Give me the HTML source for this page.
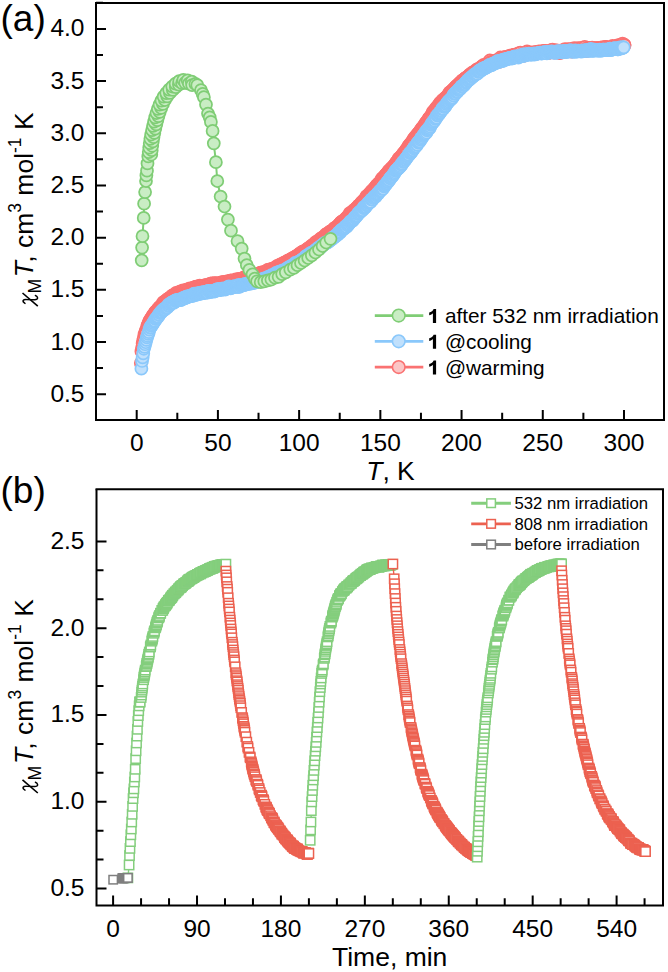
<!DOCTYPE html><html><head><meta charset="utf-8"><style>html,body{margin:0;padding:0;background:#fff;}body{width:668px;height:972px;overflow:hidden;}</style></head><body><svg width="668" height="972" viewBox="0 0 668 972" style="display:block">
<rect width="668" height="972" fill="#fff"/>
<polyline fill="none" stroke="#fa7272" stroke-width="1.6" stroke-linejoin="round" points="140.8,363.02 141.42,351.43 142.04,347.79 142.66,343.41 143.28,340.29 143.9,337.64 144.52,334.28 145.14,332.93 145.76,330.52 146.38,330.63 147,327.23 147.62,325.27 148.24,323.82 148.86,322.25 149.48,320.78 150.1,319.92 150.72,319.23 151.34,317.8 151.96,317.37 152.58,315.81 153.2,314.99 153.82,314.85 154.44,313.5 155.06,312.17 155.68,311.57 156.3,311.2 156.92,311.2 157.54,309.43 158.16,308.79 158.78,308.77 159.4,307.18 160.02,306.83 160.64,306.77 161.26,305.97 161.88,305.08 162.5,304.73 163.12,302.35 163.74,303.66 164.36,302.06 164.98,301.11 165.6,301.5 166.22,301.15 166.84,300.02 167.46,299.13 168.08,299.12 168.7,298.53 169.32,298.73 169.94,297.89 170.56,297.14 171.18,297.16 171.8,296.11 172.42,295.4 173.04,295.83 173.66,295.51 174.28,294.81 174.9,294.24 175.52,294.46 176.14,292.84 176.76,294.17 177.38,293.82 178,292.52 178.62,293.13 179.24,292.39 179.86,293.03 180.48,291.41 181.1,291.76 181.72,292.35 182.34,292.36 182.96,290.49 183.58,291.1 184.2,291.29 184.82,290.6 185.44,291.48 186.06,289.87 186.68,290.43 187.3,289.51 187.92,290.52 188.54,289.6 189.16,289.21 189.78,288.34 190.4,289.83 191.02,289.17 191.64,288.98 192.26,288.98 192.88,288.41 193.5,287.73 194.12,287.48 194.74,287.32 195.36,288.24 195.98,286.67 196.6,286.96 197.22,286.96 197.84,287.09 198.46,287.13 199.08,286.09 199.7,285.72 200.32,286.45 200.94,286.94 201.56,286.59 202.18,286.2 202.8,285.82 203.42,286.01 204.04,285.63 204.66,286.05 205.28,285.13 205.9,285.49 206.52,285.26 207.14,285.48 207.76,285.21 208.38,286.27 209,285.64 209.62,285.54 210.24,283.67 210.86,284.41 211.48,284.18 212.1,284.64 212.72,283.13 213.34,284.75 213.96,284.59 214.58,283.3 215.2,283.35 215.82,283.33 216.44,283.64 217.06,283.83 217.68,284.43 218.3,283.2 218.92,283.58 219.54,283.17 220.16,283.87 220.78,283.26 221.4,283.47 222.02,282.14 222.64,282.49 223.26,282.07 223.88,283.13 224.5,282.61 225.12,282.03 225.74,281.85 226.36,282.22 226.98,281.52 227.6,281.31 228.22,281.91 228.84,282.79 229.46,281.33 230.08,281.07 230.7,280.65 231.32,280.46 231.94,281.27 232.56,281.32 233.18,280.78 233.8,280.82 234.42,280.59 235.04,280.47 235.66,279.51 236.28,279.91 236.9,280.06 237.52,279.47 238.14,279.49 238.76,279.17 239.38,279.27 240,279.71 240.62,278.93 241.24,278.9 241.86,279.23 242.48,278.98 243.1,279.34 243.72,277.29 244.34,278.59 244.96,277.76 245.58,277.89 246.2,278.07 246.82,278.02 247.44,277.82 248.06,277.2 248.68,277.75 249.3,276.62 249.92,276.51 250.54,276.8 251.16,275.93 251.78,277.1 252.4,276.34 253.02,276.73 253.64,275.44 254.26,275.07 254.88,275.15 255.5,275.24 256.12,274.38 256.74,274.67 257.36,274.27 257.98,274.89 258.6,273.55 259.22,274.2 259.84,273.16 260.46,272.8 261.08,272.72 261.7,272.28 262.32,272.74 262.94,272.98 263.56,272.33 264.18,272.35 264.8,272.65 265.42,271.75 266.04,271.5 266.66,271.04 267.28,270.15 267.9,271.11 268.52,269.63 269.14,270.6 269.76,270.03 270.38,270.37 271,269.53 271.62,268.91 272.24,269.25 272.86,268.55 273.48,268.48 274.1,268.34 274.72,267.99 275.34,267.69 275.96,267.1 276.58,267.15 277.2,265.89 277.82,266.59 278.44,265.78 279.06,266.64 279.68,266.41 280.3,264.48 280.92,265.21 281.54,264.76 282.16,263.97 282.78,264.43 283.4,263.6 284.02,262.61 284.64,263.01 285.26,262.73 285.88,262.51 286.5,261.49 287.12,262.06 287.74,261.76 288.36,260.46 288.98,260.35 289.6,260.28 290.22,259.67 290.84,260.47 291.46,259.33 292.08,258.36 292.7,258.1 293.32,258.08 293.94,258.88 294.56,257.26 295.18,257.02 295.8,256.83 296.42,256.16 297.04,256.92 297.66,255.11 298.28,255.35 298.9,254.65 299.52,254.47 300.14,253.16 300.76,254.22 301.38,252.86 302,252.53 302.62,251.63 303.24,251.31 303.86,251.54 304.48,251.33 305.1,250.79 305.72,250.6 306.34,249.93 306.96,249.16 307.58,249.13 308.2,248.58 308.82,247.8 309.44,247.78 310.06,247.62 310.68,246.66 311.3,245.92 311.92,246.01 312.54,246.16 313.16,244.66 313.78,244.27 314.4,243.79 315.02,244.02 315.64,242.04 316.26,242.69 316.88,242.64 317.5,241.18 318.12,241.88 318.74,240.94 319.36,239.94 319.98,239.86 320.6,238.53 321.22,238.55 321.84,239.29 322.46,237.47 323.08,238.38 323.7,236.96 324.32,237.04 324.94,236.11 325.56,234.51 326.18,234.88 326.8,234.8 327.42,233.67 328.04,233.11 328.66,233.5 329.28,232.52 329.9,231.53 330.52,231.56 331.14,231.85 331.76,230.7 332.38,230.92 333,230.72 333.62,229.48 334.24,228.39 334.86,227.8 335.48,227.92 336.1,227.86 336.72,227.02 337.34,226.63 337.96,225.6 338.58,225.42 339.2,224.48 339.82,224 340.44,222.96 341.06,222.25 341.68,222.22 342.3,221.33 342.92,220.83 343.54,221.06 344.16,220.08 344.78,221 345.4,219.41 346.02,218.04 346.64,218.14 347.26,217.33 347.88,216.21 348.5,216.5 349.12,214.95 349.74,213.21 350.36,214.52 350.98,213.21 351.6,213.65 352.22,211.97 352.84,211.09 353.46,211.84 354.08,209.91 354.7,209.93 355.32,209.93 355.94,208.64 356.56,207.91 357.18,207.37 357.8,207.11 358.42,205.64 359.04,205.71 359.66,205.05 360.28,205.29 360.9,203.3 361.52,202.36 362.14,202.53 362.76,201.3 363.38,200.98 364,200.24 364.62,200.09 365.24,198.5 365.86,198.11 366.48,196.2 367.1,196.34 367.72,196.86 368.34,195.05 368.96,194.34 369.58,193.37 370.2,193.56 370.82,192.64 371.44,191.23 372.06,191.44 372.68,190.5 373.3,190.02 373.92,188.59 374.54,189.05 375.16,187.65 375.78,186.64 376.4,185.71 377.02,185.1 377.64,184.92 378.26,183.62 378.88,183.55 379.5,182.57 380.12,182.21 380.74,181.21 381.36,180.04 381.98,178.39 382.6,178.77 383.22,178.28 383.84,177.24 384.46,176.71 385.08,175.47 385.7,174.79 386.32,173.78 386.94,174.21 387.56,172.88 388.18,171.83 388.8,170.68 389.42,170.54 390.04,170.61 390.66,169.38 391.28,168.06 391.9,168.4 392.52,167.66 393.14,166.69 393.76,165.85 394.38,165.29 395,164.24 395.62,163.6 396.24,162.07 396.86,162.45 397.48,161.06 398.1,161.19 398.72,158.38 399.34,158.98 399.96,158.34 400.58,156.9 401.2,156.5 401.82,155.86 402.44,154.98 403.06,153.62 403.68,153.01 404.3,152.78 404.92,152.09 405.54,150.69 406.16,149.86 406.78,149.1 407.4,148.69 408.02,146.81 408.64,145.85 409.26,145.74 409.88,144.29 410.5,143.71 411.12,143.21 411.74,142.57 412.36,140.95 412.98,141.04 413.6,138.91 414.22,139.23 414.84,137.32 415.46,136.63 416.08,136.74 416.7,135.38 417.32,134.34 417.94,133.67 418.56,133.28 419.18,132.18 419.8,131.36 420.42,131.06 421.04,129.32 421.66,128.59 422.28,127.7 422.9,127.68 423.52,126.72 424.14,125.99 424.76,124.45 425.38,123.5 426,123.12 426.62,121.61 427.24,121.33 427.86,120.39 428.48,118.79 429.1,118.21 429.72,117.31 430.34,117.35 430.96,116.9 431.58,114.68 432.2,113.87 432.82,111.86 433.44,112.25 434.06,111.3 434.68,109.92 435.3,110.02 435.92,108.03 436.54,107.89 437.16,107.27 437.78,105.79 438.4,106.06 439.02,105.4 439.64,103.43 440.26,102.69 440.88,102.97 441.5,101.93 442.12,100.62 442.74,100.37 443.36,99.75 443.98,99.03 444.6,98.82 445.22,97.91 445.84,97.91 446.46,97.03 447.08,96.01 447.7,95.54 448.32,94.99 448.94,94.03 449.56,92.41 450.18,92.8 450.8,91.77 451.42,91.91 452.04,90.51 452.66,90.11 453.28,89.39 453.9,89.46 454.52,88.11 455.14,87.29 455.76,86.99 456.38,86.03 457,85.76 457.62,85.11 458.24,84.69 458.86,84.96 459.48,83.25 460.1,82.93 460.72,82.28 461.34,82.19 461.96,80.73 462.58,80.45 463.2,80.25 463.82,80.03 464.44,79.21 465.06,78.47 465.68,77.78 466.3,77.97 466.92,77.94 467.54,76.88 468.16,76.33 468.78,75.97 469.4,74.8 470.02,74.64 470.64,74.2 471.26,74.02 471.88,73.4 472.5,72.36 473.12,73.09 473.74,72.95 474.36,71.54 474.98,71.46 475.6,70.98 476.22,70.84 476.84,69.32 477.46,70.48 478.08,69.06 478.7,69.57 479.32,68.62 479.94,68.04 480.56,67.78 481.18,68.32 481.8,66.5 482.42,66.59 483.04,66.18 483.66,64.81 484.28,67.07 484.9,66.15 485.52,65.33 486.14,66.04 486.76,63.95 487.38,64.41 488,65.65 488.62,64.74 489.24,61.74 489.86,60.52 490.48,62.2 491.1,63.73 491.72,62.16 492.34,62.12 492.96,62.57 493.58,61.06 494.2,61.75 494.82,62 495.44,61.49 496.06,61.2 496.68,60.13 497.3,60.85 497.92,59.84 498.54,61.1 499.16,61.96 499.78,58.94 500.4,57.52 501.02,58.81 501.64,59.29 502.26,59.66 502.88,59.49 503.5,57.71 504.12,57.51 504.74,59.07 505.36,56.87 505.98,58.53 506.6,57.23 507.22,57.89 507.84,57.66 508.46,57.54 509.08,57.4 509.7,55.69 510.32,56.61 510.94,56.21 511.56,56.3 512.18,56.92 512.8,55.49 513.42,54.97 514.04,54.81 514.66,55.02 515.28,55.79 515.9,54.33 516.52,55.88 517.14,55.02 517.76,54.47 518.38,53.42 519,54.66 519.62,54.94 520.24,52.76 520.86,55.19 521.48,55.49 522.1,54.3 522.72,54.35 523.34,55.91 523.96,54.83 524.58,52.95 525.2,53.63 525.82,53.44 526.44,53.38 527.06,51.43 527.68,54.02 528.3,52.77 528.92,53.39 529.54,53.08 530.16,53.88 530.78,52.83 531.4,52.35 532.02,53.42 532.64,54.11 533.26,52.59 533.88,53.98 534.5,52.98 535.12,52.26 535.74,53.95 536.36,51.91 536.98,53.42 537.6,52.08 538.22,52.83 538.84,51.35 539.46,51.63 540.08,53.2 540.7,52.4 541.32,52.22 541.94,51.76 542.56,52.46 543.18,50.85 543.8,51.03 544.42,51.8 545.04,51.18 545.66,51.24 546.28,51.73 546.9,51.62 547.52,51.5 548.14,53.06 548.76,52.46 549.38,52.6 550,51.48 550.62,51.03 551.24,50.18 551.86,51.07 552.48,49.55 553.1,50.78 553.72,51.88 554.34,52.57 554.96,51.97 555.58,50.37 556.2,51.48 556.82,50.35 557.44,51.67 558.06,50.84 558.68,51.62 559.3,53.03 559.92,51.59 560.54,52.75 561.16,50.87 561.78,50.4 562.4,51.78 563.02,52.07 563.64,50.09 564.26,50.59 564.88,49.26 565.5,50.27 566.12,51.16 566.74,50.29 567.36,49.84 567.98,49.09 568.6,50.57 569.22,50.89 569.84,50.68 570.46,50.36 571.08,49.02 571.7,51.56 572.32,49.98 572.94,49.87 573.56,50.58 574.18,48.08 574.8,49.83 575.42,49.73 576.04,50.13 576.66,50.92 577.28,50.14 577.9,48.15 578.52,49.38 579.14,49.81 579.76,49.72 580.38,48.47 581,48.11 581.62,49.96 582.24,49.75 582.86,49.4 583.48,47.92 584.1,50.86 584.72,46.85 585.34,48.97 585.96,51.02 586.58,49.07 587.2,49.36 587.82,48.13 588.44,50.25 589.06,47.96 589.68,49.24 590.3,49.1 590.92,48.05 591.54,49.67 592.16,47.67 592.78,48.26 593.4,48.79 594.02,48.43 594.64,49.15 595.26,49.51 595.88,48.44 596.5,48.2 597.12,48.19 597.74,48.29 598.36,49.26 598.98,48.36 599.6,48.86 600.22,48.4 600.84,47.73 601.46,49.15 602.08,47.5 602.7,48.35 603.32,49.57 603.94,47.34 604.56,48.19 605.18,46.85 605.8,47.72 606.42,46.83 607.04,47.75 607.66,47.55 608.28,48.07 608.9,49.25 609.52,48.09 610.14,48.35 610.76,47.68 611.38,47.44 612,46.85 612.62,45.94 613.24,47.43 613.86,48.64 614.48,47.55 615.1,46.57 615.72,48.3 616.34,46.4 616.96,46.1 617.58,45.45 618.2,45.51 618.82,45.97 619.44,47.72 620.06,45.68 620.68,44.82 621.3,45.01 621.92,45.17 622.54,43.73 623.16,45.12 623.78,45.43 624.4,44.93 624.6,45.11"/>
<g fill="#fbc6c6" stroke="#fa7272" stroke-width="1.7"><circle cx="140.8" cy="363.02" r="6.05"/><circle cx="141.42" cy="351.43" r="6.05"/><circle cx="142.04" cy="347.79" r="6.05"/><circle cx="142.66" cy="343.41" r="6.05"/><circle cx="143.28" cy="340.29" r="6.05"/><circle cx="143.9" cy="337.64" r="6.05"/><circle cx="144.52" cy="334.28" r="6.05"/><circle cx="145.14" cy="332.93" r="6.05"/><circle cx="145.76" cy="330.52" r="6.05"/><circle cx="146.38" cy="330.63" r="6.05"/><circle cx="147" cy="327.23" r="6.05"/><circle cx="147.62" cy="325.27" r="6.05"/><circle cx="148.24" cy="323.82" r="6.05"/><circle cx="148.86" cy="322.25" r="6.05"/><circle cx="149.48" cy="320.78" r="6.05"/><circle cx="150.1" cy="319.92" r="6.05"/><circle cx="150.72" cy="319.23" r="6.05"/><circle cx="151.34" cy="317.8" r="6.05"/><circle cx="151.96" cy="317.37" r="6.05"/><circle cx="152.58" cy="315.81" r="6.05"/><circle cx="153.2" cy="314.99" r="6.05"/><circle cx="153.82" cy="314.85" r="6.05"/><circle cx="154.44" cy="313.5" r="6.05"/><circle cx="155.06" cy="312.17" r="6.05"/><circle cx="155.68" cy="311.57" r="6.05"/><circle cx="156.3" cy="311.2" r="6.05"/><circle cx="156.92" cy="311.2" r="6.05"/><circle cx="157.54" cy="309.43" r="6.05"/><circle cx="158.16" cy="308.79" r="6.05"/><circle cx="158.78" cy="308.77" r="6.05"/><circle cx="159.4" cy="307.18" r="6.05"/><circle cx="160.02" cy="306.83" r="6.05"/><circle cx="160.64" cy="306.77" r="6.05"/><circle cx="161.26" cy="305.97" r="6.05"/><circle cx="161.88" cy="305.08" r="6.05"/><circle cx="162.5" cy="304.73" r="6.05"/><circle cx="163.12" cy="302.35" r="6.05"/><circle cx="163.74" cy="303.66" r="6.05"/><circle cx="164.36" cy="302.06" r="6.05"/><circle cx="164.98" cy="301.11" r="6.05"/><circle cx="165.6" cy="301.5" r="6.05"/><circle cx="166.22" cy="301.15" r="6.05"/><circle cx="166.84" cy="300.02" r="6.05"/><circle cx="167.46" cy="299.13" r="6.05"/><circle cx="168.08" cy="299.12" r="6.05"/><circle cx="168.7" cy="298.53" r="6.05"/><circle cx="169.32" cy="298.73" r="6.05"/><circle cx="169.94" cy="297.89" r="6.05"/><circle cx="170.56" cy="297.14" r="6.05"/><circle cx="171.18" cy="297.16" r="6.05"/><circle cx="171.8" cy="296.11" r="6.05"/><circle cx="172.42" cy="295.4" r="6.05"/><circle cx="173.04" cy="295.83" r="6.05"/><circle cx="173.66" cy="295.51" r="6.05"/><circle cx="174.28" cy="294.81" r="6.05"/><circle cx="174.9" cy="294.24" r="6.05"/><circle cx="175.52" cy="294.46" r="6.05"/><circle cx="176.14" cy="292.84" r="6.05"/><circle cx="176.76" cy="294.17" r="6.05"/><circle cx="177.38" cy="293.82" r="6.05"/><circle cx="178" cy="292.52" r="6.05"/><circle cx="178.62" cy="293.13" r="6.05"/><circle cx="179.24" cy="292.39" r="6.05"/><circle cx="179.86" cy="293.03" r="6.05"/><circle cx="180.48" cy="291.41" r="6.05"/><circle cx="181.1" cy="291.76" r="6.05"/><circle cx="181.72" cy="292.35" r="6.05"/><circle cx="182.34" cy="292.36" r="6.05"/><circle cx="182.96" cy="290.49" r="6.05"/><circle cx="183.58" cy="291.1" r="6.05"/><circle cx="184.2" cy="291.29" r="6.05"/><circle cx="184.82" cy="290.6" r="6.05"/><circle cx="185.44" cy="291.48" r="6.05"/><circle cx="186.06" cy="289.87" r="6.05"/><circle cx="186.68" cy="290.43" r="6.05"/><circle cx="187.3" cy="289.51" r="6.05"/><circle cx="187.92" cy="290.52" r="6.05"/><circle cx="188.54" cy="289.6" r="6.05"/><circle cx="189.16" cy="289.21" r="6.05"/><circle cx="189.78" cy="288.34" r="6.05"/><circle cx="190.4" cy="289.83" r="6.05"/><circle cx="191.02" cy="289.17" r="6.05"/><circle cx="191.64" cy="288.98" r="6.05"/><circle cx="192.26" cy="288.98" r="6.05"/><circle cx="192.88" cy="288.41" r="6.05"/><circle cx="193.5" cy="287.73" r="6.05"/><circle cx="194.12" cy="287.48" r="6.05"/><circle cx="194.74" cy="287.32" r="6.05"/><circle cx="195.36" cy="288.24" r="6.05"/><circle cx="195.98" cy="286.67" r="6.05"/><circle cx="196.6" cy="286.96" r="6.05"/><circle cx="197.22" cy="286.96" r="6.05"/><circle cx="197.84" cy="287.09" r="6.05"/><circle cx="198.46" cy="287.13" r="6.05"/><circle cx="199.08" cy="286.09" r="6.05"/><circle cx="199.7" cy="285.72" r="6.05"/><circle cx="200.32" cy="286.45" r="6.05"/><circle cx="200.94" cy="286.94" r="6.05"/><circle cx="201.56" cy="286.59" r="6.05"/><circle cx="202.18" cy="286.2" r="6.05"/><circle cx="202.8" cy="285.82" r="6.05"/><circle cx="203.42" cy="286.01" r="6.05"/><circle cx="204.04" cy="285.63" r="6.05"/><circle cx="204.66" cy="286.05" r="6.05"/><circle cx="205.28" cy="285.13" r="6.05"/><circle cx="205.9" cy="285.49" r="6.05"/><circle cx="206.52" cy="285.26" r="6.05"/><circle cx="207.14" cy="285.48" r="6.05"/><circle cx="207.76" cy="285.21" r="6.05"/><circle cx="208.38" cy="286.27" r="6.05"/><circle cx="209" cy="285.64" r="6.05"/><circle cx="209.62" cy="285.54" r="6.05"/><circle cx="210.24" cy="283.67" r="6.05"/><circle cx="210.86" cy="284.41" r="6.05"/><circle cx="211.48" cy="284.18" r="6.05"/><circle cx="212.1" cy="284.64" r="6.05"/><circle cx="212.72" cy="283.13" r="6.05"/><circle cx="213.34" cy="284.75" r="6.05"/><circle cx="213.96" cy="284.59" r="6.05"/><circle cx="214.58" cy="283.3" r="6.05"/><circle cx="215.2" cy="283.35" r="6.05"/><circle cx="215.82" cy="283.33" r="6.05"/><circle cx="216.44" cy="283.64" r="6.05"/><circle cx="217.06" cy="283.83" r="6.05"/><circle cx="217.68" cy="284.43" r="6.05"/><circle cx="218.3" cy="283.2" r="6.05"/><circle cx="218.92" cy="283.58" r="6.05"/><circle cx="219.54" cy="283.17" r="6.05"/><circle cx="220.16" cy="283.87" r="6.05"/><circle cx="220.78" cy="283.26" r="6.05"/><circle cx="221.4" cy="283.47" r="6.05"/><circle cx="222.02" cy="282.14" r="6.05"/><circle cx="222.64" cy="282.49" r="6.05"/><circle cx="223.26" cy="282.07" r="6.05"/><circle cx="223.88" cy="283.13" r="6.05"/><circle cx="224.5" cy="282.61" r="6.05"/><circle cx="225.12" cy="282.03" r="6.05"/><circle cx="225.74" cy="281.85" r="6.05"/><circle cx="226.36" cy="282.22" r="6.05"/><circle cx="226.98" cy="281.52" r="6.05"/><circle cx="227.6" cy="281.31" r="6.05"/><circle cx="228.22" cy="281.91" r="6.05"/><circle cx="228.84" cy="282.79" r="6.05"/><circle cx="229.46" cy="281.33" r="6.05"/><circle cx="230.08" cy="281.07" r="6.05"/><circle cx="230.7" cy="280.65" r="6.05"/><circle cx="231.32" cy="280.46" r="6.05"/><circle cx="231.94" cy="281.27" r="6.05"/><circle cx="232.56" cy="281.32" r="6.05"/><circle cx="233.18" cy="280.78" r="6.05"/><circle cx="233.8" cy="280.82" r="6.05"/><circle cx="234.42" cy="280.59" r="6.05"/><circle cx="235.04" cy="280.47" r="6.05"/><circle cx="235.66" cy="279.51" r="6.05"/><circle cx="236.28" cy="279.91" r="6.05"/><circle cx="236.9" cy="280.06" r="6.05"/><circle cx="237.52" cy="279.47" r="6.05"/><circle cx="238.14" cy="279.49" r="6.05"/><circle cx="238.76" cy="279.17" r="6.05"/><circle cx="239.38" cy="279.27" r="6.05"/><circle cx="240" cy="279.71" r="6.05"/><circle cx="240.62" cy="278.93" r="6.05"/><circle cx="241.24" cy="278.9" r="6.05"/><circle cx="241.86" cy="279.23" r="6.05"/><circle cx="242.48" cy="278.98" r="6.05"/><circle cx="243.1" cy="279.34" r="6.05"/><circle cx="243.72" cy="277.29" r="6.05"/><circle cx="244.34" cy="278.59" r="6.05"/><circle cx="244.96" cy="277.76" r="6.05"/><circle cx="245.58" cy="277.89" r="6.05"/><circle cx="246.2" cy="278.07" r="6.05"/><circle cx="246.82" cy="278.02" r="6.05"/><circle cx="247.44" cy="277.82" r="6.05"/><circle cx="248.06" cy="277.2" r="6.05"/><circle cx="248.68" cy="277.75" r="6.05"/><circle cx="249.3" cy="276.62" r="6.05"/><circle cx="249.92" cy="276.51" r="6.05"/><circle cx="250.54" cy="276.8" r="6.05"/><circle cx="251.16" cy="275.93" r="6.05"/><circle cx="251.78" cy="277.1" r="6.05"/><circle cx="252.4" cy="276.34" r="6.05"/><circle cx="253.02" cy="276.73" r="6.05"/><circle cx="253.64" cy="275.44" r="6.05"/><circle cx="254.26" cy="275.07" r="6.05"/><circle cx="254.88" cy="275.15" r="6.05"/><circle cx="255.5" cy="275.24" r="6.05"/><circle cx="256.12" cy="274.38" r="6.05"/><circle cx="256.74" cy="274.67" r="6.05"/><circle cx="257.36" cy="274.27" r="6.05"/><circle cx="257.98" cy="274.89" r="6.05"/><circle cx="258.6" cy="273.55" r="6.05"/><circle cx="259.22" cy="274.2" r="6.05"/><circle cx="259.84" cy="273.16" r="6.05"/><circle cx="260.46" cy="272.8" r="6.05"/><circle cx="261.08" cy="272.72" r="6.05"/><circle cx="261.7" cy="272.28" r="6.05"/><circle cx="262.32" cy="272.74" r="6.05"/><circle cx="262.94" cy="272.98" r="6.05"/><circle cx="263.56" cy="272.33" r="6.05"/><circle cx="264.18" cy="272.35" r="6.05"/><circle cx="264.8" cy="272.65" r="6.05"/><circle cx="265.42" cy="271.75" r="6.05"/><circle cx="266.04" cy="271.5" r="6.05"/><circle cx="266.66" cy="271.04" r="6.05"/><circle cx="267.28" cy="270.15" r="6.05"/><circle cx="267.9" cy="271.11" r="6.05"/><circle cx="268.52" cy="269.63" r="6.05"/><circle cx="269.14" cy="270.6" r="6.05"/><circle cx="269.76" cy="270.03" r="6.05"/><circle cx="270.38" cy="270.37" r="6.05"/><circle cx="271" cy="269.53" r="6.05"/><circle cx="271.62" cy="268.91" r="6.05"/><circle cx="272.24" cy="269.25" r="6.05"/><circle cx="272.86" cy="268.55" r="6.05"/><circle cx="273.48" cy="268.48" r="6.05"/><circle cx="274.1" cy="268.34" r="6.05"/><circle cx="274.72" cy="267.99" r="6.05"/><circle cx="275.34" cy="267.69" r="6.05"/><circle cx="275.96" cy="267.1" r="6.05"/><circle cx="276.58" cy="267.15" r="6.05"/><circle cx="277.2" cy="265.89" r="6.05"/><circle cx="277.82" cy="266.59" r="6.05"/><circle cx="278.44" cy="265.78" r="6.05"/><circle cx="279.06" cy="266.64" r="6.05"/><circle cx="279.68" cy="266.41" r="6.05"/><circle cx="280.3" cy="264.48" r="6.05"/><circle cx="280.92" cy="265.21" r="6.05"/><circle cx="281.54" cy="264.76" r="6.05"/><circle cx="282.16" cy="263.97" r="6.05"/><circle cx="282.78" cy="264.43" r="6.05"/><circle cx="283.4" cy="263.6" r="6.05"/><circle cx="284.02" cy="262.61" r="6.05"/><circle cx="284.64" cy="263.01" r="6.05"/><circle cx="285.26" cy="262.73" r="6.05"/><circle cx="285.88" cy="262.51" r="6.05"/><circle cx="286.5" cy="261.49" r="6.05"/><circle cx="287.12" cy="262.06" r="6.05"/><circle cx="287.74" cy="261.76" r="6.05"/><circle cx="288.36" cy="260.46" r="6.05"/><circle cx="288.98" cy="260.35" r="6.05"/><circle cx="289.6" cy="260.28" r="6.05"/><circle cx="290.22" cy="259.67" r="6.05"/><circle cx="290.84" cy="260.47" r="6.05"/><circle cx="291.46" cy="259.33" r="6.05"/><circle cx="292.08" cy="258.36" r="6.05"/><circle cx="292.7" cy="258.1" r="6.05"/><circle cx="293.32" cy="258.08" r="6.05"/><circle cx="293.94" cy="258.88" r="6.05"/><circle cx="294.56" cy="257.26" r="6.05"/><circle cx="295.18" cy="257.02" r="6.05"/><circle cx="295.8" cy="256.83" r="6.05"/><circle cx="296.42" cy="256.16" r="6.05"/><circle cx="297.04" cy="256.92" r="6.05"/><circle cx="297.66" cy="255.11" r="6.05"/><circle cx="298.28" cy="255.35" r="6.05"/><circle cx="298.9" cy="254.65" r="6.05"/><circle cx="299.52" cy="254.47" r="6.05"/><circle cx="300.14" cy="253.16" r="6.05"/><circle cx="300.76" cy="254.22" r="6.05"/><circle cx="301.38" cy="252.86" r="6.05"/><circle cx="302" cy="252.53" r="6.05"/><circle cx="302.62" cy="251.63" r="6.05"/><circle cx="303.24" cy="251.31" r="6.05"/><circle cx="303.86" cy="251.54" r="6.05"/><circle cx="304.48" cy="251.33" r="6.05"/><circle cx="305.1" cy="250.79" r="6.05"/><circle cx="305.72" cy="250.6" r="6.05"/><circle cx="306.34" cy="249.93" r="6.05"/><circle cx="306.96" cy="249.16" r="6.05"/><circle cx="307.58" cy="249.13" r="6.05"/><circle cx="308.2" cy="248.58" r="6.05"/><circle cx="308.82" cy="247.8" r="6.05"/><circle cx="309.44" cy="247.78" r="6.05"/><circle cx="310.06" cy="247.62" r="6.05"/><circle cx="310.68" cy="246.66" r="6.05"/><circle cx="311.3" cy="245.92" r="6.05"/><circle cx="311.92" cy="246.01" r="6.05"/><circle cx="312.54" cy="246.16" r="6.05"/><circle cx="313.16" cy="244.66" r="6.05"/><circle cx="313.78" cy="244.27" r="6.05"/><circle cx="314.4" cy="243.79" r="6.05"/><circle cx="315.02" cy="244.02" r="6.05"/><circle cx="315.64" cy="242.04" r="6.05"/><circle cx="316.26" cy="242.69" r="6.05"/><circle cx="316.88" cy="242.64" r="6.05"/><circle cx="317.5" cy="241.18" r="6.05"/><circle cx="318.12" cy="241.88" r="6.05"/><circle cx="318.74" cy="240.94" r="6.05"/><circle cx="319.36" cy="239.94" r="6.05"/><circle cx="319.98" cy="239.86" r="6.05"/><circle cx="320.6" cy="238.53" r="6.05"/><circle cx="321.22" cy="238.55" r="6.05"/><circle cx="321.84" cy="239.29" r="6.05"/><circle cx="322.46" cy="237.47" r="6.05"/><circle cx="323.08" cy="238.38" r="6.05"/><circle cx="323.7" cy="236.96" r="6.05"/><circle cx="324.32" cy="237.04" r="6.05"/><circle cx="324.94" cy="236.11" r="6.05"/><circle cx="325.56" cy="234.51" r="6.05"/><circle cx="326.18" cy="234.88" r="6.05"/><circle cx="326.8" cy="234.8" r="6.05"/><circle cx="327.42" cy="233.67" r="6.05"/><circle cx="328.04" cy="233.11" r="6.05"/><circle cx="328.66" cy="233.5" r="6.05"/><circle cx="329.28" cy="232.52" r="6.05"/><circle cx="329.9" cy="231.53" r="6.05"/><circle cx="330.52" cy="231.56" r="6.05"/><circle cx="331.14" cy="231.85" r="6.05"/><circle cx="331.76" cy="230.7" r="6.05"/><circle cx="332.38" cy="230.92" r="6.05"/><circle cx="333" cy="230.72" r="6.05"/><circle cx="333.62" cy="229.48" r="6.05"/><circle cx="334.24" cy="228.39" r="6.05"/><circle cx="334.86" cy="227.8" r="6.05"/><circle cx="335.48" cy="227.92" r="6.05"/><circle cx="336.1" cy="227.86" r="6.05"/><circle cx="336.72" cy="227.02" r="6.05"/><circle cx="337.34" cy="226.63" r="6.05"/><circle cx="337.96" cy="225.6" r="6.05"/><circle cx="338.58" cy="225.42" r="6.05"/><circle cx="339.2" cy="224.48" r="6.05"/><circle cx="339.82" cy="224" r="6.05"/><circle cx="340.44" cy="222.96" r="6.05"/><circle cx="341.06" cy="222.25" r="6.05"/><circle cx="341.68" cy="222.22" r="6.05"/><circle cx="342.3" cy="221.33" r="6.05"/><circle cx="342.92" cy="220.83" r="6.05"/><circle cx="343.54" cy="221.06" r="6.05"/><circle cx="344.16" cy="220.08" r="6.05"/><circle cx="344.78" cy="221" r="6.05"/><circle cx="345.4" cy="219.41" r="6.05"/><circle cx="346.02" cy="218.04" r="6.05"/><circle cx="346.64" cy="218.14" r="6.05"/><circle cx="347.26" cy="217.33" r="6.05"/><circle cx="347.88" cy="216.21" r="6.05"/><circle cx="348.5" cy="216.5" r="6.05"/><circle cx="349.12" cy="214.95" r="6.05"/><circle cx="349.74" cy="213.21" r="6.05"/><circle cx="350.36" cy="214.52" r="6.05"/><circle cx="350.98" cy="213.21" r="6.05"/><circle cx="351.6" cy="213.65" r="6.05"/><circle cx="352.22" cy="211.97" r="6.05"/><circle cx="352.84" cy="211.09" r="6.05"/><circle cx="353.46" cy="211.84" r="6.05"/><circle cx="354.08" cy="209.91" r="6.05"/><circle cx="354.7" cy="209.93" r="6.05"/><circle cx="355.32" cy="209.93" r="6.05"/><circle cx="355.94" cy="208.64" r="6.05"/><circle cx="356.56" cy="207.91" r="6.05"/><circle cx="357.18" cy="207.37" r="6.05"/><circle cx="357.8" cy="207.11" r="6.05"/><circle cx="358.42" cy="205.64" r="6.05"/><circle cx="359.04" cy="205.71" r="6.05"/><circle cx="359.66" cy="205.05" r="6.05"/><circle cx="360.28" cy="205.29" r="6.05"/><circle cx="360.9" cy="203.3" r="6.05"/><circle cx="361.52" cy="202.36" r="6.05"/><circle cx="362.14" cy="202.53" r="6.05"/><circle cx="362.76" cy="201.3" r="6.05"/><circle cx="363.38" cy="200.98" r="6.05"/><circle cx="364" cy="200.24" r="6.05"/><circle cx="364.62" cy="200.09" r="6.05"/><circle cx="365.24" cy="198.5" r="6.05"/><circle cx="365.86" cy="198.11" r="6.05"/><circle cx="366.48" cy="196.2" r="6.05"/><circle cx="367.1" cy="196.34" r="6.05"/><circle cx="367.72" cy="196.86" r="6.05"/><circle cx="368.34" cy="195.05" r="6.05"/><circle cx="368.96" cy="194.34" r="6.05"/><circle cx="369.58" cy="193.37" r="6.05"/><circle cx="370.2" cy="193.56" r="6.05"/><circle cx="370.82" cy="192.64" r="6.05"/><circle cx="371.44" cy="191.23" r="6.05"/><circle cx="372.06" cy="191.44" r="6.05"/><circle cx="372.68" cy="190.5" r="6.05"/><circle cx="373.3" cy="190.02" r="6.05"/><circle cx="373.92" cy="188.59" r="6.05"/><circle cx="374.54" cy="189.05" r="6.05"/><circle cx="375.16" cy="187.65" r="6.05"/><circle cx="375.78" cy="186.64" r="6.05"/><circle cx="376.4" cy="185.71" r="6.05"/><circle cx="377.02" cy="185.1" r="6.05"/><circle cx="377.64" cy="184.92" r="6.05"/><circle cx="378.26" cy="183.62" r="6.05"/><circle cx="378.88" cy="183.55" r="6.05"/><circle cx="379.5" cy="182.57" r="6.05"/><circle cx="380.12" cy="182.21" r="6.05"/><circle cx="380.74" cy="181.21" r="6.05"/><circle cx="381.36" cy="180.04" r="6.05"/><circle cx="381.98" cy="178.39" r="6.05"/><circle cx="382.6" cy="178.77" r="6.05"/><circle cx="383.22" cy="178.28" r="6.05"/><circle cx="383.84" cy="177.24" r="6.05"/><circle cx="384.46" cy="176.71" r="6.05"/><circle cx="385.08" cy="175.47" r="6.05"/><circle cx="385.7" cy="174.79" r="6.05"/><circle cx="386.32" cy="173.78" r="6.05"/><circle cx="386.94" cy="174.21" r="6.05"/><circle cx="387.56" cy="172.88" r="6.05"/><circle cx="388.18" cy="171.83" r="6.05"/><circle cx="388.8" cy="170.68" r="6.05"/><circle cx="389.42" cy="170.54" r="6.05"/><circle cx="390.04" cy="170.61" r="6.05"/><circle cx="390.66" cy="169.38" r="6.05"/><circle cx="391.28" cy="168.06" r="6.05"/><circle cx="391.9" cy="168.4" r="6.05"/><circle cx="392.52" cy="167.66" r="6.05"/><circle cx="393.14" cy="166.69" r="6.05"/><circle cx="393.76" cy="165.85" r="6.05"/><circle cx="394.38" cy="165.29" r="6.05"/><circle cx="395" cy="164.24" r="6.05"/><circle cx="395.62" cy="163.6" r="6.05"/><circle cx="396.24" cy="162.07" r="6.05"/><circle cx="396.86" cy="162.45" r="6.05"/><circle cx="397.48" cy="161.06" r="6.05"/><circle cx="398.1" cy="161.19" r="6.05"/><circle cx="398.72" cy="158.38" r="6.05"/><circle cx="399.34" cy="158.98" r="6.05"/><circle cx="399.96" cy="158.34" r="6.05"/><circle cx="400.58" cy="156.9" r="6.05"/><circle cx="401.2" cy="156.5" r="6.05"/><circle cx="401.82" cy="155.86" r="6.05"/><circle cx="402.44" cy="154.98" r="6.05"/><circle cx="403.06" cy="153.62" r="6.05"/><circle cx="403.68" cy="153.01" r="6.05"/><circle cx="404.3" cy="152.78" r="6.05"/><circle cx="404.92" cy="152.09" r="6.05"/><circle cx="405.54" cy="150.69" r="6.05"/><circle cx="406.16" cy="149.86" r="6.05"/><circle cx="406.78" cy="149.1" r="6.05"/><circle cx="407.4" cy="148.69" r="6.05"/><circle cx="408.02" cy="146.81" r="6.05"/><circle cx="408.64" cy="145.85" r="6.05"/><circle cx="409.26" cy="145.74" r="6.05"/><circle cx="409.88" cy="144.29" r="6.05"/><circle cx="410.5" cy="143.71" r="6.05"/><circle cx="411.12" cy="143.21" r="6.05"/><circle cx="411.74" cy="142.57" r="6.05"/><circle cx="412.36" cy="140.95" r="6.05"/><circle cx="412.98" cy="141.04" r="6.05"/><circle cx="413.6" cy="138.91" r="6.05"/><circle cx="414.22" cy="139.23" r="6.05"/><circle cx="414.84" cy="137.32" r="6.05"/><circle cx="415.46" cy="136.63" r="6.05"/><circle cx="416.08" cy="136.74" r="6.05"/><circle cx="416.7" cy="135.38" r="6.05"/><circle cx="417.32" cy="134.34" r="6.05"/><circle cx="417.94" cy="133.67" r="6.05"/><circle cx="418.56" cy="133.28" r="6.05"/><circle cx="419.18" cy="132.18" r="6.05"/><circle cx="419.8" cy="131.36" r="6.05"/><circle cx="420.42" cy="131.06" r="6.05"/><circle cx="421.04" cy="129.32" r="6.05"/><circle cx="421.66" cy="128.59" r="6.05"/><circle cx="422.28" cy="127.7" r="6.05"/><circle cx="422.9" cy="127.68" r="6.05"/><circle cx="423.52" cy="126.72" r="6.05"/><circle cx="424.14" cy="125.99" r="6.05"/><circle cx="424.76" cy="124.45" r="6.05"/><circle cx="425.38" cy="123.5" r="6.05"/><circle cx="426" cy="123.12" r="6.05"/><circle cx="426.62" cy="121.61" r="6.05"/><circle cx="427.24" cy="121.33" r="6.05"/><circle cx="427.86" cy="120.39" r="6.05"/><circle cx="428.48" cy="118.79" r="6.05"/><circle cx="429.1" cy="118.21" r="6.05"/><circle cx="429.72" cy="117.31" r="6.05"/><circle cx="430.34" cy="117.35" r="6.05"/><circle cx="430.96" cy="116.9" r="6.05"/><circle cx="431.58" cy="114.68" r="6.05"/><circle cx="432.2" cy="113.87" r="6.05"/><circle cx="432.82" cy="111.86" r="6.05"/><circle cx="433.44" cy="112.25" r="6.05"/><circle cx="434.06" cy="111.3" r="6.05"/><circle cx="434.68" cy="109.92" r="6.05"/><circle cx="435.3" cy="110.02" r="6.05"/><circle cx="435.92" cy="108.03" r="6.05"/><circle cx="436.54" cy="107.89" r="6.05"/><circle cx="437.16" cy="107.27" r="6.05"/><circle cx="437.78" cy="105.79" r="6.05"/><circle cx="438.4" cy="106.06" r="6.05"/><circle cx="439.02" cy="105.4" r="6.05"/><circle cx="439.64" cy="103.43" r="6.05"/><circle cx="440.26" cy="102.69" r="6.05"/><circle cx="440.88" cy="102.97" r="6.05"/><circle cx="441.5" cy="101.93" r="6.05"/><circle cx="442.12" cy="100.62" r="6.05"/><circle cx="442.74" cy="100.37" r="6.05"/><circle cx="443.36" cy="99.75" r="6.05"/><circle cx="443.98" cy="99.03" r="6.05"/><circle cx="444.6" cy="98.82" r="6.05"/><circle cx="445.22" cy="97.91" r="6.05"/><circle cx="445.84" cy="97.91" r="6.05"/><circle cx="446.46" cy="97.03" r="6.05"/><circle cx="447.08" cy="96.01" r="6.05"/><circle cx="447.7" cy="95.54" r="6.05"/><circle cx="448.32" cy="94.99" r="6.05"/><circle cx="448.94" cy="94.03" r="6.05"/><circle cx="449.56" cy="92.41" r="6.05"/><circle cx="450.18" cy="92.8" r="6.05"/><circle cx="450.8" cy="91.77" r="6.05"/><circle cx="451.42" cy="91.91" r="6.05"/><circle cx="452.04" cy="90.51" r="6.05"/><circle cx="452.66" cy="90.11" r="6.05"/><circle cx="453.28" cy="89.39" r="6.05"/><circle cx="453.9" cy="89.46" r="6.05"/><circle cx="454.52" cy="88.11" r="6.05"/><circle cx="455.14" cy="87.29" r="6.05"/><circle cx="455.76" cy="86.99" r="6.05"/><circle cx="456.38" cy="86.03" r="6.05"/><circle cx="457" cy="85.76" r="6.05"/><circle cx="457.62" cy="85.11" r="6.05"/><circle cx="458.24" cy="84.69" r="6.05"/><circle cx="458.86" cy="84.96" r="6.05"/><circle cx="459.48" cy="83.25" r="6.05"/><circle cx="460.1" cy="82.93" r="6.05"/><circle cx="460.72" cy="82.28" r="6.05"/><circle cx="461.34" cy="82.19" r="6.05"/><circle cx="461.96" cy="80.73" r="6.05"/><circle cx="462.58" cy="80.45" r="6.05"/><circle cx="463.2" cy="80.25" r="6.05"/><circle cx="463.82" cy="80.03" r="6.05"/><circle cx="464.44" cy="79.21" r="6.05"/><circle cx="465.06" cy="78.47" r="6.05"/><circle cx="465.68" cy="77.78" r="6.05"/><circle cx="466.3" cy="77.97" r="6.05"/><circle cx="466.92" cy="77.94" r="6.05"/><circle cx="467.54" cy="76.88" r="6.05"/><circle cx="468.16" cy="76.33" r="6.05"/><circle cx="468.78" cy="75.97" r="6.05"/><circle cx="469.4" cy="74.8" r="6.05"/><circle cx="470.02" cy="74.64" r="6.05"/><circle cx="470.64" cy="74.2" r="6.05"/><circle cx="471.26" cy="74.02" r="6.05"/><circle cx="471.88" cy="73.4" r="6.05"/><circle cx="472.5" cy="72.36" r="6.05"/><circle cx="473.12" cy="73.09" r="6.05"/><circle cx="473.74" cy="72.95" r="6.05"/><circle cx="474.36" cy="71.54" r="6.05"/><circle cx="474.98" cy="71.46" r="6.05"/><circle cx="475.6" cy="70.98" r="6.05"/><circle cx="476.22" cy="70.84" r="6.05"/><circle cx="476.84" cy="69.32" r="6.05"/><circle cx="477.46" cy="70.48" r="6.05"/><circle cx="478.08" cy="69.06" r="6.05"/><circle cx="478.7" cy="69.57" r="6.05"/><circle cx="479.32" cy="68.62" r="6.05"/><circle cx="479.94" cy="68.04" r="6.05"/><circle cx="480.56" cy="67.78" r="6.05"/><circle cx="481.18" cy="68.32" r="6.05"/><circle cx="481.8" cy="66.5" r="6.05"/><circle cx="482.42" cy="66.59" r="6.05"/><circle cx="483.04" cy="66.18" r="6.05"/><circle cx="483.66" cy="64.81" r="6.05"/><circle cx="484.28" cy="67.07" r="6.05"/><circle cx="484.9" cy="66.15" r="6.05"/><circle cx="485.52" cy="65.33" r="6.05"/><circle cx="486.14" cy="66.04" r="6.05"/><circle cx="486.76" cy="63.95" r="6.05"/><circle cx="487.38" cy="64.41" r="6.05"/><circle cx="488" cy="65.65" r="6.05"/><circle cx="488.62" cy="64.74" r="6.05"/><circle cx="489.24" cy="61.74" r="6.05"/><circle cx="489.86" cy="60.52" r="6.05"/><circle cx="490.48" cy="62.2" r="6.05"/><circle cx="491.1" cy="63.73" r="6.05"/><circle cx="491.72" cy="62.16" r="6.05"/><circle cx="492.34" cy="62.12" r="6.05"/><circle cx="492.96" cy="62.57" r="6.05"/><circle cx="493.58" cy="61.06" r="6.05"/><circle cx="494.2" cy="61.75" r="6.05"/><circle cx="494.82" cy="62" r="6.05"/><circle cx="495.44" cy="61.49" r="6.05"/><circle cx="496.06" cy="61.2" r="6.05"/><circle cx="496.68" cy="60.13" r="6.05"/><circle cx="497.3" cy="60.85" r="6.05"/><circle cx="497.92" cy="59.84" r="6.05"/><circle cx="498.54" cy="61.1" r="6.05"/><circle cx="499.16" cy="61.96" r="6.05"/><circle cx="499.78" cy="58.94" r="6.05"/><circle cx="500.4" cy="57.52" r="6.05"/><circle cx="501.02" cy="58.81" r="6.05"/><circle cx="501.64" cy="59.29" r="6.05"/><circle cx="502.26" cy="59.66" r="6.05"/><circle cx="502.88" cy="59.49" r="6.05"/><circle cx="503.5" cy="57.71" r="6.05"/><circle cx="504.12" cy="57.51" r="6.05"/><circle cx="504.74" cy="59.07" r="6.05"/><circle cx="505.36" cy="56.87" r="6.05"/><circle cx="505.98" cy="58.53" r="6.05"/><circle cx="506.6" cy="57.23" r="6.05"/><circle cx="507.22" cy="57.89" r="6.05"/><circle cx="507.84" cy="57.66" r="6.05"/><circle cx="508.46" cy="57.54" r="6.05"/><circle cx="509.08" cy="57.4" r="6.05"/><circle cx="509.7" cy="55.69" r="6.05"/><circle cx="510.32" cy="56.61" r="6.05"/><circle cx="510.94" cy="56.21" r="6.05"/><circle cx="511.56" cy="56.3" r="6.05"/><circle cx="512.18" cy="56.92" r="6.05"/><circle cx="512.8" cy="55.49" r="6.05"/><circle cx="513.42" cy="54.97" r="6.05"/><circle cx="514.04" cy="54.81" r="6.05"/><circle cx="514.66" cy="55.02" r="6.05"/><circle cx="515.28" cy="55.79" r="6.05"/><circle cx="515.9" cy="54.33" r="6.05"/><circle cx="516.52" cy="55.88" r="6.05"/><circle cx="517.14" cy="55.02" r="6.05"/><circle cx="517.76" cy="54.47" r="6.05"/><circle cx="518.38" cy="53.42" r="6.05"/><circle cx="519" cy="54.66" r="6.05"/><circle cx="519.62" cy="54.94" r="6.05"/><circle cx="520.24" cy="52.76" r="6.05"/><circle cx="520.86" cy="55.19" r="6.05"/><circle cx="521.48" cy="55.49" r="6.05"/><circle cx="522.1" cy="54.3" r="6.05"/><circle cx="522.72" cy="54.35" r="6.05"/><circle cx="523.34" cy="55.91" r="6.05"/><circle cx="523.96" cy="54.83" r="6.05"/><circle cx="524.58" cy="52.95" r="6.05"/><circle cx="525.2" cy="53.63" r="6.05"/><circle cx="525.82" cy="53.44" r="6.05"/><circle cx="526.44" cy="53.38" r="6.05"/><circle cx="527.06" cy="51.43" r="6.05"/><circle cx="527.68" cy="54.02" r="6.05"/><circle cx="528.3" cy="52.77" r="6.05"/><circle cx="528.92" cy="53.39" r="6.05"/><circle cx="529.54" cy="53.08" r="6.05"/><circle cx="530.16" cy="53.88" r="6.05"/><circle cx="530.78" cy="52.83" r="6.05"/><circle cx="531.4" cy="52.35" r="6.05"/><circle cx="532.02" cy="53.42" r="6.05"/><circle cx="532.64" cy="54.11" r="6.05"/><circle cx="533.26" cy="52.59" r="6.05"/><circle cx="533.88" cy="53.98" r="6.05"/><circle cx="534.5" cy="52.98" r="6.05"/><circle cx="535.12" cy="52.26" r="6.05"/><circle cx="535.74" cy="53.95" r="6.05"/><circle cx="536.36" cy="51.91" r="6.05"/><circle cx="536.98" cy="53.42" r="6.05"/><circle cx="537.6" cy="52.08" r="6.05"/><circle cx="538.22" cy="52.83" r="6.05"/><circle cx="538.84" cy="51.35" r="6.05"/><circle cx="539.46" cy="51.63" r="6.05"/><circle cx="540.08" cy="53.2" r="6.05"/><circle cx="540.7" cy="52.4" r="6.05"/><circle cx="541.32" cy="52.22" r="6.05"/><circle cx="541.94" cy="51.76" r="6.05"/><circle cx="542.56" cy="52.46" r="6.05"/><circle cx="543.18" cy="50.85" r="6.05"/><circle cx="543.8" cy="51.03" r="6.05"/><circle cx="544.42" cy="51.8" r="6.05"/><circle cx="545.04" cy="51.18" r="6.05"/><circle cx="545.66" cy="51.24" r="6.05"/><circle cx="546.28" cy="51.73" r="6.05"/><circle cx="546.9" cy="51.62" r="6.05"/><circle cx="547.52" cy="51.5" r="6.05"/><circle cx="548.14" cy="53.06" r="6.05"/><circle cx="548.76" cy="52.46" r="6.05"/><circle cx="549.38" cy="52.6" r="6.05"/><circle cx="550" cy="51.48" r="6.05"/><circle cx="550.62" cy="51.03" r="6.05"/><circle cx="551.24" cy="50.18" r="6.05"/><circle cx="551.86" cy="51.07" r="6.05"/><circle cx="552.48" cy="49.55" r="6.05"/><circle cx="553.1" cy="50.78" r="6.05"/><circle cx="553.72" cy="51.88" r="6.05"/><circle cx="554.34" cy="52.57" r="6.05"/><circle cx="554.96" cy="51.97" r="6.05"/><circle cx="555.58" cy="50.37" r="6.05"/><circle cx="556.2" cy="51.48" r="6.05"/><circle cx="556.82" cy="50.35" r="6.05"/><circle cx="557.44" cy="51.67" r="6.05"/><circle cx="558.06" cy="50.84" r="6.05"/><circle cx="558.68" cy="51.62" r="6.05"/><circle cx="559.3" cy="53.03" r="6.05"/><circle cx="559.92" cy="51.59" r="6.05"/><circle cx="560.54" cy="52.75" r="6.05"/><circle cx="561.16" cy="50.87" r="6.05"/><circle cx="561.78" cy="50.4" r="6.05"/><circle cx="562.4" cy="51.78" r="6.05"/><circle cx="563.02" cy="52.07" r="6.05"/><circle cx="563.64" cy="50.09" r="6.05"/><circle cx="564.26" cy="50.59" r="6.05"/><circle cx="564.88" cy="49.26" r="6.05"/><circle cx="565.5" cy="50.27" r="6.05"/><circle cx="566.12" cy="51.16" r="6.05"/><circle cx="566.74" cy="50.29" r="6.05"/><circle cx="567.36" cy="49.84" r="6.05"/><circle cx="567.98" cy="49.09" r="6.05"/><circle cx="568.6" cy="50.57" r="6.05"/><circle cx="569.22" cy="50.89" r="6.05"/><circle cx="569.84" cy="50.68" r="6.05"/><circle cx="570.46" cy="50.36" r="6.05"/><circle cx="571.08" cy="49.02" r="6.05"/><circle cx="571.7" cy="51.56" r="6.05"/><circle cx="572.32" cy="49.98" r="6.05"/><circle cx="572.94" cy="49.87" r="6.05"/><circle cx="573.56" cy="50.58" r="6.05"/><circle cx="574.18" cy="48.08" r="6.05"/><circle cx="574.8" cy="49.83" r="6.05"/><circle cx="575.42" cy="49.73" r="6.05"/><circle cx="576.04" cy="50.13" r="6.05"/><circle cx="576.66" cy="50.92" r="6.05"/><circle cx="577.28" cy="50.14" r="6.05"/><circle cx="577.9" cy="48.15" r="6.05"/><circle cx="578.52" cy="49.38" r="6.05"/><circle cx="579.14" cy="49.81" r="6.05"/><circle cx="579.76" cy="49.72" r="6.05"/><circle cx="580.38" cy="48.47" r="6.05"/><circle cx="581" cy="48.11" r="6.05"/><circle cx="581.62" cy="49.96" r="6.05"/><circle cx="582.24" cy="49.75" r="6.05"/><circle cx="582.86" cy="49.4" r="6.05"/><circle cx="583.48" cy="47.92" r="6.05"/><circle cx="584.1" cy="50.86" r="6.05"/><circle cx="584.72" cy="46.85" r="6.05"/><circle cx="585.34" cy="48.97" r="6.05"/><circle cx="585.96" cy="51.02" r="6.05"/><circle cx="586.58" cy="49.07" r="6.05"/><circle cx="587.2" cy="49.36" r="6.05"/><circle cx="587.82" cy="48.13" r="6.05"/><circle cx="588.44" cy="50.25" r="6.05"/><circle cx="589.06" cy="47.96" r="6.05"/><circle cx="589.68" cy="49.24" r="6.05"/><circle cx="590.3" cy="49.1" r="6.05"/><circle cx="590.92" cy="48.05" r="6.05"/><circle cx="591.54" cy="49.67" r="6.05"/><circle cx="592.16" cy="47.67" r="6.05"/><circle cx="592.78" cy="48.26" r="6.05"/><circle cx="593.4" cy="48.79" r="6.05"/><circle cx="594.02" cy="48.43" r="6.05"/><circle cx="594.64" cy="49.15" r="6.05"/><circle cx="595.26" cy="49.51" r="6.05"/><circle cx="595.88" cy="48.44" r="6.05"/><circle cx="596.5" cy="48.2" r="6.05"/><circle cx="597.12" cy="48.19" r="6.05"/><circle cx="597.74" cy="48.29" r="6.05"/><circle cx="598.36" cy="49.26" r="6.05"/><circle cx="598.98" cy="48.36" r="6.05"/><circle cx="599.6" cy="48.86" r="6.05"/><circle cx="600.22" cy="48.4" r="6.05"/><circle cx="600.84" cy="47.73" r="6.05"/><circle cx="601.46" cy="49.15" r="6.05"/><circle cx="602.08" cy="47.5" r="6.05"/><circle cx="602.7" cy="48.35" r="6.05"/><circle cx="603.32" cy="49.57" r="6.05"/><circle cx="603.94" cy="47.34" r="6.05"/><circle cx="604.56" cy="48.19" r="6.05"/><circle cx="605.18" cy="46.85" r="6.05"/><circle cx="605.8" cy="47.72" r="6.05"/><circle cx="606.42" cy="46.83" r="6.05"/><circle cx="607.04" cy="47.75" r="6.05"/><circle cx="607.66" cy="47.55" r="6.05"/><circle cx="608.28" cy="48.07" r="6.05"/><circle cx="608.9" cy="49.25" r="6.05"/><circle cx="609.52" cy="48.09" r="6.05"/><circle cx="610.14" cy="48.35" r="6.05"/><circle cx="610.76" cy="47.68" r="6.05"/><circle cx="611.38" cy="47.44" r="6.05"/><circle cx="612" cy="46.85" r="6.05"/><circle cx="612.62" cy="45.94" r="6.05"/><circle cx="613.24" cy="47.43" r="6.05"/><circle cx="613.86" cy="48.64" r="6.05"/><circle cx="614.48" cy="47.55" r="6.05"/><circle cx="615.1" cy="46.57" r="6.05"/><circle cx="615.72" cy="48.3" r="6.05"/><circle cx="616.34" cy="46.4" r="6.05"/><circle cx="616.96" cy="46.1" r="6.05"/><circle cx="617.58" cy="45.45" r="6.05"/><circle cx="618.2" cy="45.51" r="6.05"/><circle cx="618.82" cy="45.97" r="6.05"/><circle cx="619.44" cy="47.72" r="6.05"/><circle cx="620.06" cy="45.68" r="6.05"/><circle cx="620.68" cy="44.82" r="6.05"/><circle cx="621.3" cy="45.01" r="6.05"/><circle cx="621.92" cy="45.17" r="6.05"/><circle cx="622.54" cy="43.73" r="6.05"/><circle cx="623.16" cy="45.12" r="6.05"/><circle cx="623.78" cy="45.43" r="6.05"/><circle cx="624.4" cy="44.93" r="6.05"/><circle cx="624.6" cy="45.11" r="6.05"/></g>
<polyline fill="none" stroke="#8ac8fb" stroke-width="1.6" stroke-linejoin="round" points="141.4,368.66 142.02,360.96 142.64,357.39 143.26,353.35 143.88,348.74 144.5,346.78 145.12,344.21 145.74,342.19 146.36,339.84 146.98,337.38 147.6,335.73 148.22,333.86 148.84,332.07 149.46,329.58 150.08,327.52 150.7,327.24 151.32,325.53 151.94,325.3 152.56,324.42 153.18,323.16 153.8,321.85 154.42,321.13 155.04,320.76 155.66,318.9 156.28,318.84 156.9,317.88 157.52,316.82 158.14,316.6 158.76,314.73 159.38,314.8 160,313.14 160.62,312.51 161.24,311.67 161.86,311.75 162.48,310.4 163.1,310.26 163.72,309.04 164.34,309.54 164.96,309.35 165.58,307.98 166.2,308.15 166.82,307.08 167.44,307.36 168.06,305.81 168.68,304.47 169.3,305.52 169.92,304.26 170.54,303.37 171.16,303.16 171.78,302.31 172.4,302.7 173.02,301.93 173.64,302.91 174.26,302.21 174.88,300.76 175.5,300.57 176.12,300.78 176.74,299.85 177.36,300.52 177.98,300.31 178.6,299.72 179.22,299.61 179.84,299.91 180.46,300.15 181.08,299.97 181.7,299.03 182.32,299.22 182.94,298.21 183.56,298.56 184.18,297.66 184.8,298.28 185.42,297.07 186.04,296.99 186.66,297.24 187.28,297.31 187.9,296.09 188.52,296.33 189.14,296.45 189.76,296.29 190.38,295.55 191,295.81 191.62,295.43 192.24,296.07 192.86,295.45 193.48,294.33 194.1,293.71 194.72,294.69 195.34,295.06 195.96,294.4 196.58,294.6 197.2,293.76 197.82,293.17 198.44,294.09 199.06,293.62 199.68,293.78 200.3,292.61 200.92,293.26 201.54,292.72 202.16,293.31 202.78,292.49 203.4,292.36 204.02,292.25 204.64,293.05 205.26,292.32 205.88,291.8 206.5,291.56 207.12,291.43 207.74,292.57 208.36,290.82 208.98,291.19 209.6,291.82 210.22,291.98 210.84,291.2 211.46,291.55 212.08,291.42 212.7,291.42 213.32,290.84 213.94,291.53 214.56,290.69 215.18,291.23 215.8,289.8 216.42,290.7 217.04,289.48 217.66,289.24 218.28,290.12 218.9,289.34 219.52,289.86 220.14,288.98 220.76,290.21 221.38,289.29 222,288.61 222.62,289.15 223.24,289.39 223.86,288.45 224.48,288.98 225.1,289.63 225.72,288.92 226.34,288.37 226.96,287.97 227.58,288.43 228.2,287.26 228.82,286.38 229.44,287.45 230.06,287.12 230.68,288.41 231.3,287.49 231.92,286.8 232.54,286.58 233.16,287.29 233.78,286.49 234.4,286.49 235.02,286.6 235.64,286.55 236.26,286.42 236.88,286.29 237.5,286.75 238.12,286.81 238.74,284.99 239.36,286.97 239.98,285.6 240.6,286.02 241.22,284.88 241.84,285.27 242.46,285.07 243.08,284.87 243.7,285.09 244.32,284.83 244.94,283.87 245.56,284.16 246.18,284.43 246.8,284.25 247.42,283.59 248.04,283.46 248.66,283.36 249.28,282.73 249.9,282.47 250.52,283.74 251.14,282.59 251.76,282.67 252.38,282.08 253,282.94 253.62,282.99 254.24,281.84 254.86,282.03 255.48,281.22 256.1,282.3 256.72,281.7 257.34,280.64 257.96,281.5 258.58,280.87 259.2,280.71 259.82,280.49 260.44,279.78 261.06,279.65 261.68,280.04 262.3,279.5 262.92,278.84 263.54,280.13 264.16,278.79 264.78,278.4 265.4,278.11 266.02,278.58 266.64,278.5 267.26,277.91 267.88,277.98 268.5,276.56 269.12,276.89 269.74,276.6 270.36,276.59 270.98,276.58 271.6,275.07 272.22,277.4 272.84,275.14 273.46,275.49 274.08,275.47 274.7,275.22 275.32,274.65 275.94,272.8 276.56,273.44 277.18,274.08 277.8,272.96 278.42,272.6 279.04,271.66 279.66,273.15 280.28,272.5 280.9,271.49 281.52,271.56 282.14,271.26 282.76,270.44 283.38,270.54 284,270.48 284.62,270.3 285.24,270.33 285.86,269.38 286.48,268.79 287.1,268.89 287.72,268.03 288.34,267.38 288.96,268.23 289.58,267.12 290.2,267.02 290.82,266.94 291.44,265.71 292.06,266.22 292.68,265.76 293.3,265.12 293.92,265 294.54,264.05 295.16,262.94 295.78,263.52 296.4,262.82 297.02,263.32 297.64,262.62 298.26,261.83 298.88,261.72 299.5,261.97 300.12,261.46 300.74,260.67 301.36,260.3 301.98,259.54 302.6,259.2 303.22,259.15 303.84,258.38 304.46,258.18 305.08,257.06 305.7,256.37 306.32,255.95 306.94,256.16 307.56,256.63 308.18,256.13 308.8,254.62 309.42,253.92 310.04,254.66 310.66,254.07 311.28,252.72 311.9,253.51 312.52,252.63 313.14,252.77 313.76,251.84 314.38,251.68 315,250.95 315.62,249.88 316.24,249.8 316.86,249.13 317.48,249.44 318.1,248.09 318.72,247.37 319.34,248.04 319.96,247.83 320.58,247.53 321.2,246.91 321.82,245.17 322.44,245.13 323.06,244.77 323.68,244.6 324.3,243.09 324.92,243.73 325.54,243.44 326.16,242.39 326.78,242.48 327.4,242.58 328.02,241.57 328.64,241.63 329.26,241.16 329.88,240.41 330.5,239.95 331.12,239.11 331.74,239.46 332.36,238.13 332.98,237.55 333.6,237.77 334.22,236.57 334.84,236.66 335.46,236.47 336.08,235.48 336.7,234.98 337.32,234.86 337.94,234.25 338.56,232.56 339.18,232.13 339.8,232.9 340.42,231.87 341.04,230.07 341.66,229.87 342.28,229.98 342.9,228.89 343.52,229.03 344.14,228.25 344.76,227.86 345.38,226.43 346,226.73 346.62,226.8 347.24,224.81 347.86,225.26 348.48,224.49 349.1,223.71 349.72,222.74 350.34,221.58 350.96,221.11 351.58,221.32 352.2,220.81 352.82,220.3 353.44,219.54 354.06,218.88 354.68,217.57 355.3,216.54 355.92,216.6 356.54,216.1 357.16,215.24 357.78,213.78 358.4,213.63 359.02,212.49 359.64,212.64 360.26,211.38 360.88,211.16 361.5,210.75 362.12,209.99 362.74,209.95 363.36,208.05 363.98,206.85 364.6,207.76 365.22,207.34 365.84,206.7 366.46,205.47 367.08,204.96 367.7,204.1 368.32,202.76 368.94,202.48 369.56,202.38 370.18,201.21 370.8,201.82 371.42,199.46 372.04,199.38 372.66,199.51 373.28,198.02 373.9,197.11 374.52,196.36 375.14,196.03 375.76,196.5 376.38,195.29 377,194.69 377.62,193.5 378.24,193.51 378.86,192.47 379.48,191.27 380.1,190.81 380.72,190.44 381.34,190.21 381.96,188.88 382.58,188.43 383.2,188.45 383.82,186.3 384.44,185.33 385.06,185.68 385.68,184.64 386.3,183.61 386.92,183.01 387.54,181.93 388.16,181.57 388.78,180.35 389.4,180.13 390.02,178.35 390.64,177.72 391.26,177.39 391.88,176.29 392.5,176.07 393.12,174.89 393.74,173.83 394.36,173.4 394.98,172.23 395.6,170.91 396.22,170.31 396.84,169.67 397.46,169.04 398.08,168.52 398.7,168.13 399.32,167.16 399.94,166.99 400.56,165.95 401.18,164.43 401.8,164.57 402.42,163.55 403.04,161.96 403.66,161.56 404.28,161.17 404.9,159.97 405.52,159.58 406.14,158.49 406.76,157.86 407.38,156.57 408,156.14 408.62,154.99 409.24,154.73 409.86,152.77 410.48,153 411.1,152.67 411.72,151.55 412.34,150.46 412.96,149.95 413.58,148.47 414.2,147.68 414.82,147.12 415.44,146.43 416.06,146.19 416.68,144.45 417.3,144.59 417.92,142.49 418.54,142.07 419.16,141.62 419.78,141.4 420.4,139.68 421.02,138.08 421.64,138.51 422.26,137.44 422.88,136.05 423.5,135.2 424.12,134.5 424.74,134.02 425.36,133.43 425.98,131.47 426.6,132.46 427.22,130.41 427.84,129.35 428.46,128.98 429.08,127.8 429.7,128.02 430.32,126.5 430.94,124.88 431.56,123.97 432.18,123.03 432.8,122.22 433.42,121.85 434.04,120.31 434.66,120.56 435.28,118.85 435.9,117.95 436.52,117.65 437.14,115.33 437.76,115.01 438.38,114.95 439,113.83 439.62,113.01 440.24,112.41 440.86,111.11 441.48,110.52 442.1,109.13 442.72,108.08 443.34,108.85 443.96,106.96 444.58,106.27 445.2,106.54 445.82,105.58 446.44,104.01 447.06,103.22 447.68,102.67 448.3,101.46 448.92,101.45 449.54,100.48 450.16,99.71 450.78,99.27 451.4,98.51 452.02,98.33 452.64,97.43 453.26,95.09 453.88,95.67 454.5,93.94 455.12,93.08 455.74,93.45 456.36,92.05 456.98,91.56 457.6,91.58 458.22,90.05 458.84,89.27 459.46,89.24 460.08,89.05 460.7,88.07 461.32,86.39 461.94,86.21 462.56,85.83 463.18,86.24 463.8,85.09 464.42,84.45 465.04,84 465.66,82.63 466.28,82.41 466.9,81.8 467.52,80.47 468.14,80.35 468.76,80.05 469.38,78.64 470,79.01 470.62,78.41 471.24,77.99 471.86,76.53 472.48,76.43 473.1,76.57 473.72,75.71 474.34,74.41 474.96,74.42 475.58,74.53 476.2,73.3 476.82,73.07 477.44,73.71 478.06,71.97 478.68,71.51 479.3,70.66 479.92,70.44 480.54,71.13 481.16,69.95 481.78,69.05 482.4,68.82 483.02,68.93 483.64,68.96 484.26,67.87 484.88,68.26 485.5,67.32 486.12,67.42 486.74,67.18 487.36,66.91 487.98,66.08 488.6,65.9 489.22,65.94 489.84,64.75 490.46,65.19 491.08,65.08 491.7,65.07 492.32,64.25 492.94,63.91 493.56,63.81 494.18,63.12 494.8,63.13 495.42,63.19 496.04,62.88 496.66,61.98 497.28,62.1 497.9,60.98 498.52,62.22 499.14,61.33 499.76,61.5 500.38,60.62 501,60.92 501.62,60.98 502.24,61.04 502.86,59.67 503.48,60.58 504.1,59.88 504.72,59.38 505.34,59.82 505.96,59.25 506.58,59.06 507.2,58.68 507.82,58.96 508.44,58.7 509.06,58.42 509.68,57.86 510.3,57.92 510.92,58.21 511.54,58.49 512.16,57.68 512.78,58.25 513.4,57.38 514.02,56.7 514.64,57.41 515.26,56.47 515.88,57.02 516.5,57.22 517.12,56.4 517.74,56.38 518.36,57.54 518.98,56.3 519.6,56.2 520.22,56.34 520.84,55.79 521.46,55.68 522.08,55.81 522.7,54.32 523.32,56.11 523.94,54.77 524.56,54.66 525.18,55.37 525.8,55.01 526.42,54.27 527.04,54.91 527.66,54.14 528.28,54.27 528.9,53.77 529.52,54.02 530.14,54.55 530.76,54.32 531.38,54.33 532,54.55 532.62,53.99 533.24,53.6 533.86,53.72 534.48,54.6 535.1,53.72 535.72,53.8 536.34,53.52 536.96,53.62 537.58,53.65 538.2,53.36 538.82,53.23 539.44,52.85 540.06,52.76 540.68,53.33 541.3,53.45 541.92,53.48 542.54,52.99 543.16,52.5 543.78,53.18 544.4,53.12 545.02,52.01 545.64,53.12 546.26,52.96 546.88,53.45 547.5,52.02 548.12,51.9 548.74,52.88 549.36,51.55 549.98,52.04 550.6,51.82 551.22,51.82 551.84,51.33 552.46,52.13 553.08,52.69 553.7,52.39 554.32,52.35 554.94,51.92 555.56,52.78 556.18,52.28 556.8,52.51 557.42,51.17 558.04,52.08 558.66,51.3 559.28,52.01 559.9,51.9 560.52,51.2 561.14,51.82 561.76,52.27 562.38,51.91 563,51.92 563.62,51.16 564.24,51.22 564.86,50.97 565.48,51.56 566.1,52.05 566.72,51.64 567.34,51.39 567.96,50.8 568.58,51.55 569.2,51.18 569.82,50.31 570.44,50.37 571.06,51.03 571.68,50.72 572.3,51.96 572.92,51.13 573.54,50.56 574.16,50.8 574.78,51.81 575.4,50.52 576.02,51.34 576.64,51.15 577.26,51.63 577.88,51.13 578.5,50.64 579.12,51.07 579.74,50.81 580.36,51.24 580.98,50.69 581.6,51.68 582.22,50.62 582.84,50.86 583.46,50.28 584.08,50.64 584.7,50.57 585.32,50.61 585.94,50.94 586.56,50.2 587.18,50.02 587.8,50.96 588.42,50.24 589.04,50.02 589.66,50.9 590.28,50.68 590.9,48.95 591.52,50.05 592.14,50.6 592.76,50.6 593.38,49.91 594,50.92 594.62,49.72 595.24,49.98 595.86,50.14 596.48,50.05 597.1,50.43 597.72,50.51 598.34,49.96 598.96,50.66 599.58,49.6 600.2,49.81 600.82,50.75 601.44,49.92 602.06,50.37 602.68,49.6 603.3,49.66 603.92,49.71 604.54,49.82 605.16,49.54 605.78,49.68 606.4,49.97 607.02,50.21 607.64,49.62 608.26,49.86 608.88,49.95 609.5,48.92 610.12,48.62 610.74,50.16 611.36,49.96 611.98,49.27 612.6,49.35 613.22,48.63 613.84,48.34 614.46,49.1 615.08,48.11 615.7,49.22 616.32,48.33 616.94,48.71 617.56,49.43 618.18,49.3 618.8,48.11 619.42,48.67 620.04,47.51 620.66,47.61 621.28,47.97 621.9,48.36 622.52,47.26 623.14,47.69 623.7,47.37"/>
<g fill="#c0e0fc" stroke="#8ac8fb" stroke-width="1.7"><circle cx="141.4" cy="368.66" r="6.05"/><circle cx="142.02" cy="360.96" r="6.05"/><circle cx="142.64" cy="357.39" r="6.05"/><circle cx="143.26" cy="353.35" r="6.05"/><circle cx="143.88" cy="348.74" r="6.05"/><circle cx="144.5" cy="346.78" r="6.05"/><circle cx="145.12" cy="344.21" r="6.05"/><circle cx="145.74" cy="342.19" r="6.05"/><circle cx="146.36" cy="339.84" r="6.05"/><circle cx="146.98" cy="337.38" r="6.05"/><circle cx="147.6" cy="335.73" r="6.05"/><circle cx="148.22" cy="333.86" r="6.05"/><circle cx="148.84" cy="332.07" r="6.05"/><circle cx="149.46" cy="329.58" r="6.05"/><circle cx="150.08" cy="327.52" r="6.05"/><circle cx="150.7" cy="327.24" r="6.05"/><circle cx="151.32" cy="325.53" r="6.05"/><circle cx="151.94" cy="325.3" r="6.05"/><circle cx="152.56" cy="324.42" r="6.05"/><circle cx="153.18" cy="323.16" r="6.05"/><circle cx="153.8" cy="321.85" r="6.05"/><circle cx="154.42" cy="321.13" r="6.05"/><circle cx="155.04" cy="320.76" r="6.05"/><circle cx="155.66" cy="318.9" r="6.05"/><circle cx="156.28" cy="318.84" r="6.05"/><circle cx="156.9" cy="317.88" r="6.05"/><circle cx="157.52" cy="316.82" r="6.05"/><circle cx="158.14" cy="316.6" r="6.05"/><circle cx="158.76" cy="314.73" r="6.05"/><circle cx="159.38" cy="314.8" r="6.05"/><circle cx="160" cy="313.14" r="6.05"/><circle cx="160.62" cy="312.51" r="6.05"/><circle cx="161.24" cy="311.67" r="6.05"/><circle cx="161.86" cy="311.75" r="6.05"/><circle cx="162.48" cy="310.4" r="6.05"/><circle cx="163.1" cy="310.26" r="6.05"/><circle cx="163.72" cy="309.04" r="6.05"/><circle cx="164.34" cy="309.54" r="6.05"/><circle cx="164.96" cy="309.35" r="6.05"/><circle cx="165.58" cy="307.98" r="6.05"/><circle cx="166.2" cy="308.15" r="6.05"/><circle cx="166.82" cy="307.08" r="6.05"/><circle cx="167.44" cy="307.36" r="6.05"/><circle cx="168.06" cy="305.81" r="6.05"/><circle cx="168.68" cy="304.47" r="6.05"/><circle cx="169.3" cy="305.52" r="6.05"/><circle cx="169.92" cy="304.26" r="6.05"/><circle cx="170.54" cy="303.37" r="6.05"/><circle cx="171.16" cy="303.16" r="6.05"/><circle cx="171.78" cy="302.31" r="6.05"/><circle cx="172.4" cy="302.7" r="6.05"/><circle cx="173.02" cy="301.93" r="6.05"/><circle cx="173.64" cy="302.91" r="6.05"/><circle cx="174.26" cy="302.21" r="6.05"/><circle cx="174.88" cy="300.76" r="6.05"/><circle cx="175.5" cy="300.57" r="6.05"/><circle cx="176.12" cy="300.78" r="6.05"/><circle cx="176.74" cy="299.85" r="6.05"/><circle cx="177.36" cy="300.52" r="6.05"/><circle cx="177.98" cy="300.31" r="6.05"/><circle cx="178.6" cy="299.72" r="6.05"/><circle cx="179.22" cy="299.61" r="6.05"/><circle cx="179.84" cy="299.91" r="6.05"/><circle cx="180.46" cy="300.15" r="6.05"/><circle cx="181.08" cy="299.97" r="6.05"/><circle cx="181.7" cy="299.03" r="6.05"/><circle cx="182.32" cy="299.22" r="6.05"/><circle cx="182.94" cy="298.21" r="6.05"/><circle cx="183.56" cy="298.56" r="6.05"/><circle cx="184.18" cy="297.66" r="6.05"/><circle cx="184.8" cy="298.28" r="6.05"/><circle cx="185.42" cy="297.07" r="6.05"/><circle cx="186.04" cy="296.99" r="6.05"/><circle cx="186.66" cy="297.24" r="6.05"/><circle cx="187.28" cy="297.31" r="6.05"/><circle cx="187.9" cy="296.09" r="6.05"/><circle cx="188.52" cy="296.33" r="6.05"/><circle cx="189.14" cy="296.45" r="6.05"/><circle cx="189.76" cy="296.29" r="6.05"/><circle cx="190.38" cy="295.55" r="6.05"/><circle cx="191" cy="295.81" r="6.05"/><circle cx="191.62" cy="295.43" r="6.05"/><circle cx="192.24" cy="296.07" r="6.05"/><circle cx="192.86" cy="295.45" r="6.05"/><circle cx="193.48" cy="294.33" r="6.05"/><circle cx="194.1" cy="293.71" r="6.05"/><circle cx="194.72" cy="294.69" r="6.05"/><circle cx="195.34" cy="295.06" r="6.05"/><circle cx="195.96" cy="294.4" r="6.05"/><circle cx="196.58" cy="294.6" r="6.05"/><circle cx="197.2" cy="293.76" r="6.05"/><circle cx="197.82" cy="293.17" r="6.05"/><circle cx="198.44" cy="294.09" r="6.05"/><circle cx="199.06" cy="293.62" r="6.05"/><circle cx="199.68" cy="293.78" r="6.05"/><circle cx="200.3" cy="292.61" r="6.05"/><circle cx="200.92" cy="293.26" r="6.05"/><circle cx="201.54" cy="292.72" r="6.05"/><circle cx="202.16" cy="293.31" r="6.05"/><circle cx="202.78" cy="292.49" r="6.05"/><circle cx="203.4" cy="292.36" r="6.05"/><circle cx="204.02" cy="292.25" r="6.05"/><circle cx="204.64" cy="293.05" r="6.05"/><circle cx="205.26" cy="292.32" r="6.05"/><circle cx="205.88" cy="291.8" r="6.05"/><circle cx="206.5" cy="291.56" r="6.05"/><circle cx="207.12" cy="291.43" r="6.05"/><circle cx="207.74" cy="292.57" r="6.05"/><circle cx="208.36" cy="290.82" r="6.05"/><circle cx="208.98" cy="291.19" r="6.05"/><circle cx="209.6" cy="291.82" r="6.05"/><circle cx="210.22" cy="291.98" r="6.05"/><circle cx="210.84" cy="291.2" r="6.05"/><circle cx="211.46" cy="291.55" r="6.05"/><circle cx="212.08" cy="291.42" r="6.05"/><circle cx="212.7" cy="291.42" r="6.05"/><circle cx="213.32" cy="290.84" r="6.05"/><circle cx="213.94" cy="291.53" r="6.05"/><circle cx="214.56" cy="290.69" r="6.05"/><circle cx="215.18" cy="291.23" r="6.05"/><circle cx="215.8" cy="289.8" r="6.05"/><circle cx="216.42" cy="290.7" r="6.05"/><circle cx="217.04" cy="289.48" r="6.05"/><circle cx="217.66" cy="289.24" r="6.05"/><circle cx="218.28" cy="290.12" r="6.05"/><circle cx="218.9" cy="289.34" r="6.05"/><circle cx="219.52" cy="289.86" r="6.05"/><circle cx="220.14" cy="288.98" r="6.05"/><circle cx="220.76" cy="290.21" r="6.05"/><circle cx="221.38" cy="289.29" r="6.05"/><circle cx="222" cy="288.61" r="6.05"/><circle cx="222.62" cy="289.15" r="6.05"/><circle cx="223.24" cy="289.39" r="6.05"/><circle cx="223.86" cy="288.45" r="6.05"/><circle cx="224.48" cy="288.98" r="6.05"/><circle cx="225.1" cy="289.63" r="6.05"/><circle cx="225.72" cy="288.92" r="6.05"/><circle cx="226.34" cy="288.37" r="6.05"/><circle cx="226.96" cy="287.97" r="6.05"/><circle cx="227.58" cy="288.43" r="6.05"/><circle cx="228.2" cy="287.26" r="6.05"/><circle cx="228.82" cy="286.38" r="6.05"/><circle cx="229.44" cy="287.45" r="6.05"/><circle cx="230.06" cy="287.12" r="6.05"/><circle cx="230.68" cy="288.41" r="6.05"/><circle cx="231.3" cy="287.49" r="6.05"/><circle cx="231.92" cy="286.8" r="6.05"/><circle cx="232.54" cy="286.58" r="6.05"/><circle cx="233.16" cy="287.29" r="6.05"/><circle cx="233.78" cy="286.49" r="6.05"/><circle cx="234.4" cy="286.49" r="6.05"/><circle cx="235.02" cy="286.6" r="6.05"/><circle cx="235.64" cy="286.55" r="6.05"/><circle cx="236.26" cy="286.42" r="6.05"/><circle cx="236.88" cy="286.29" r="6.05"/><circle cx="237.5" cy="286.75" r="6.05"/><circle cx="238.12" cy="286.81" r="6.05"/><circle cx="238.74" cy="284.99" r="6.05"/><circle cx="239.36" cy="286.97" r="6.05"/><circle cx="239.98" cy="285.6" r="6.05"/><circle cx="240.6" cy="286.02" r="6.05"/><circle cx="241.22" cy="284.88" r="6.05"/><circle cx="241.84" cy="285.27" r="6.05"/><circle cx="242.46" cy="285.07" r="6.05"/><circle cx="243.08" cy="284.87" r="6.05"/><circle cx="243.7" cy="285.09" r="6.05"/><circle cx="244.32" cy="284.83" r="6.05"/><circle cx="244.94" cy="283.87" r="6.05"/><circle cx="245.56" cy="284.16" r="6.05"/><circle cx="246.18" cy="284.43" r="6.05"/><circle cx="246.8" cy="284.25" r="6.05"/><circle cx="247.42" cy="283.59" r="6.05"/><circle cx="248.04" cy="283.46" r="6.05"/><circle cx="248.66" cy="283.36" r="6.05"/><circle cx="249.28" cy="282.73" r="6.05"/><circle cx="249.9" cy="282.47" r="6.05"/><circle cx="250.52" cy="283.74" r="6.05"/><circle cx="251.14" cy="282.59" r="6.05"/><circle cx="251.76" cy="282.67" r="6.05"/><circle cx="252.38" cy="282.08" r="6.05"/><circle cx="253" cy="282.94" r="6.05"/><circle cx="253.62" cy="282.99" r="6.05"/><circle cx="254.24" cy="281.84" r="6.05"/><circle cx="254.86" cy="282.03" r="6.05"/><circle cx="255.48" cy="281.22" r="6.05"/><circle cx="256.1" cy="282.3" r="6.05"/><circle cx="256.72" cy="281.7" r="6.05"/><circle cx="257.34" cy="280.64" r="6.05"/><circle cx="257.96" cy="281.5" r="6.05"/><circle cx="258.58" cy="280.87" r="6.05"/><circle cx="259.2" cy="280.71" r="6.05"/><circle cx="259.82" cy="280.49" r="6.05"/><circle cx="260.44" cy="279.78" r="6.05"/><circle cx="261.06" cy="279.65" r="6.05"/><circle cx="261.68" cy="280.04" r="6.05"/><circle cx="262.3" cy="279.5" r="6.05"/><circle cx="262.92" cy="278.84" r="6.05"/><circle cx="263.54" cy="280.13" r="6.05"/><circle cx="264.16" cy="278.79" r="6.05"/><circle cx="264.78" cy="278.4" r="6.05"/><circle cx="265.4" cy="278.11" r="6.05"/><circle cx="266.02" cy="278.58" r="6.05"/><circle cx="266.64" cy="278.5" r="6.05"/><circle cx="267.26" cy="277.91" r="6.05"/><circle cx="267.88" cy="277.98" r="6.05"/><circle cx="268.5" cy="276.56" r="6.05"/><circle cx="269.12" cy="276.89" r="6.05"/><circle cx="269.74" cy="276.6" r="6.05"/><circle cx="270.36" cy="276.59" r="6.05"/><circle cx="270.98" cy="276.58" r="6.05"/><circle cx="271.6" cy="275.07" r="6.05"/><circle cx="272.22" cy="277.4" r="6.05"/><circle cx="272.84" cy="275.14" r="6.05"/><circle cx="273.46" cy="275.49" r="6.05"/><circle cx="274.08" cy="275.47" r="6.05"/><circle cx="274.7" cy="275.22" r="6.05"/><circle cx="275.32" cy="274.65" r="6.05"/><circle cx="275.94" cy="272.8" r="6.05"/><circle cx="276.56" cy="273.44" r="6.05"/><circle cx="277.18" cy="274.08" r="6.05"/><circle cx="277.8" cy="272.96" r="6.05"/><circle cx="278.42" cy="272.6" r="6.05"/><circle cx="279.04" cy="271.66" r="6.05"/><circle cx="279.66" cy="273.15" r="6.05"/><circle cx="280.28" cy="272.5" r="6.05"/><circle cx="280.9" cy="271.49" r="6.05"/><circle cx="281.52" cy="271.56" r="6.05"/><circle cx="282.14" cy="271.26" r="6.05"/><circle cx="282.76" cy="270.44" r="6.05"/><circle cx="283.38" cy="270.54" r="6.05"/><circle cx="284" cy="270.48" r="6.05"/><circle cx="284.62" cy="270.3" r="6.05"/><circle cx="285.24" cy="270.33" r="6.05"/><circle cx="285.86" cy="269.38" r="6.05"/><circle cx="286.48" cy="268.79" r="6.05"/><circle cx="287.1" cy="268.89" r="6.05"/><circle cx="287.72" cy="268.03" r="6.05"/><circle cx="288.34" cy="267.38" r="6.05"/><circle cx="288.96" cy="268.23" r="6.05"/><circle cx="289.58" cy="267.12" r="6.05"/><circle cx="290.2" cy="267.02" r="6.05"/><circle cx="290.82" cy="266.94" r="6.05"/><circle cx="291.44" cy="265.71" r="6.05"/><circle cx="292.06" cy="266.22" r="6.05"/><circle cx="292.68" cy="265.76" r="6.05"/><circle cx="293.3" cy="265.12" r="6.05"/><circle cx="293.92" cy="265" r="6.05"/><circle cx="294.54" cy="264.05" r="6.05"/><circle cx="295.16" cy="262.94" r="6.05"/><circle cx="295.78" cy="263.52" r="6.05"/><circle cx="296.4" cy="262.82" r="6.05"/><circle cx="297.02" cy="263.32" r="6.05"/><circle cx="297.64" cy="262.62" r="6.05"/><circle cx="298.26" cy="261.83" r="6.05"/><circle cx="298.88" cy="261.72" r="6.05"/><circle cx="299.5" cy="261.97" r="6.05"/><circle cx="300.12" cy="261.46" r="6.05"/><circle cx="300.74" cy="260.67" r="6.05"/><circle cx="301.36" cy="260.3" r="6.05"/><circle cx="301.98" cy="259.54" r="6.05"/><circle cx="302.6" cy="259.2" r="6.05"/><circle cx="303.22" cy="259.15" r="6.05"/><circle cx="303.84" cy="258.38" r="6.05"/><circle cx="304.46" cy="258.18" r="6.05"/><circle cx="305.08" cy="257.06" r="6.05"/><circle cx="305.7" cy="256.37" r="6.05"/><circle cx="306.32" cy="255.95" r="6.05"/><circle cx="306.94" cy="256.16" r="6.05"/><circle cx="307.56" cy="256.63" r="6.05"/><circle cx="308.18" cy="256.13" r="6.05"/><circle cx="308.8" cy="254.62" r="6.05"/><circle cx="309.42" cy="253.92" r="6.05"/><circle cx="310.04" cy="254.66" r="6.05"/><circle cx="310.66" cy="254.07" r="6.05"/><circle cx="311.28" cy="252.72" r="6.05"/><circle cx="311.9" cy="253.51" r="6.05"/><circle cx="312.52" cy="252.63" r="6.05"/><circle cx="313.14" cy="252.77" r="6.05"/><circle cx="313.76" cy="251.84" r="6.05"/><circle cx="314.38" cy="251.68" r="6.05"/><circle cx="315" cy="250.95" r="6.05"/><circle cx="315.62" cy="249.88" r="6.05"/><circle cx="316.24" cy="249.8" r="6.05"/><circle cx="316.86" cy="249.13" r="6.05"/><circle cx="317.48" cy="249.44" r="6.05"/><circle cx="318.1" cy="248.09" r="6.05"/><circle cx="318.72" cy="247.37" r="6.05"/><circle cx="319.34" cy="248.04" r="6.05"/><circle cx="319.96" cy="247.83" r="6.05"/><circle cx="320.58" cy="247.53" r="6.05"/><circle cx="321.2" cy="246.91" r="6.05"/><circle cx="321.82" cy="245.17" r="6.05"/><circle cx="322.44" cy="245.13" r="6.05"/><circle cx="323.06" cy="244.77" r="6.05"/><circle cx="323.68" cy="244.6" r="6.05"/><circle cx="324.3" cy="243.09" r="6.05"/><circle cx="324.92" cy="243.73" r="6.05"/><circle cx="325.54" cy="243.44" r="6.05"/><circle cx="326.16" cy="242.39" r="6.05"/><circle cx="326.78" cy="242.48" r="6.05"/><circle cx="327.4" cy="242.58" r="6.05"/><circle cx="328.02" cy="241.57" r="6.05"/><circle cx="328.64" cy="241.63" r="6.05"/><circle cx="329.26" cy="241.16" r="6.05"/><circle cx="329.88" cy="240.41" r="6.05"/><circle cx="330.5" cy="239.95" r="6.05"/><circle cx="331.12" cy="239.11" r="6.05"/><circle cx="331.74" cy="239.46" r="6.05"/><circle cx="332.36" cy="238.13" r="6.05"/><circle cx="332.98" cy="237.55" r="6.05"/><circle cx="333.6" cy="237.77" r="6.05"/><circle cx="334.22" cy="236.57" r="6.05"/><circle cx="334.84" cy="236.66" r="6.05"/><circle cx="335.46" cy="236.47" r="6.05"/><circle cx="336.08" cy="235.48" r="6.05"/><circle cx="336.7" cy="234.98" r="6.05"/><circle cx="337.32" cy="234.86" r="6.05"/><circle cx="337.94" cy="234.25" r="6.05"/><circle cx="338.56" cy="232.56" r="6.05"/><circle cx="339.18" cy="232.13" r="6.05"/><circle cx="339.8" cy="232.9" r="6.05"/><circle cx="340.42" cy="231.87" r="6.05"/><circle cx="341.04" cy="230.07" r="6.05"/><circle cx="341.66" cy="229.87" r="6.05"/><circle cx="342.28" cy="229.98" r="6.05"/><circle cx="342.9" cy="228.89" r="6.05"/><circle cx="343.52" cy="229.03" r="6.05"/><circle cx="344.14" cy="228.25" r="6.05"/><circle cx="344.76" cy="227.86" r="6.05"/><circle cx="345.38" cy="226.43" r="6.05"/><circle cx="346" cy="226.73" r="6.05"/><circle cx="346.62" cy="226.8" r="6.05"/><circle cx="347.24" cy="224.81" r="6.05"/><circle cx="347.86" cy="225.26" r="6.05"/><circle cx="348.48" cy="224.49" r="6.05"/><circle cx="349.1" cy="223.71" r="6.05"/><circle cx="349.72" cy="222.74" r="6.05"/><circle cx="350.34" cy="221.58" r="6.05"/><circle cx="350.96" cy="221.11" r="6.05"/><circle cx="351.58" cy="221.32" r="6.05"/><circle cx="352.2" cy="220.81" r="6.05"/><circle cx="352.82" cy="220.3" r="6.05"/><circle cx="353.44" cy="219.54" r="6.05"/><circle cx="354.06" cy="218.88" r="6.05"/><circle cx="354.68" cy="217.57" r="6.05"/><circle cx="355.3" cy="216.54" r="6.05"/><circle cx="355.92" cy="216.6" r="6.05"/><circle cx="356.54" cy="216.1" r="6.05"/><circle cx="357.16" cy="215.24" r="6.05"/><circle cx="357.78" cy="213.78" r="6.05"/><circle cx="358.4" cy="213.63" r="6.05"/><circle cx="359.02" cy="212.49" r="6.05"/><circle cx="359.64" cy="212.64" r="6.05"/><circle cx="360.26" cy="211.38" r="6.05"/><circle cx="360.88" cy="211.16" r="6.05"/><circle cx="361.5" cy="210.75" r="6.05"/><circle cx="362.12" cy="209.99" r="6.05"/><circle cx="362.74" cy="209.95" r="6.05"/><circle cx="363.36" cy="208.05" r="6.05"/><circle cx="363.98" cy="206.85" r="6.05"/><circle cx="364.6" cy="207.76" r="6.05"/><circle cx="365.22" cy="207.34" r="6.05"/><circle cx="365.84" cy="206.7" r="6.05"/><circle cx="366.46" cy="205.47" r="6.05"/><circle cx="367.08" cy="204.96" r="6.05"/><circle cx="367.7" cy="204.1" r="6.05"/><circle cx="368.32" cy="202.76" r="6.05"/><circle cx="368.94" cy="202.48" r="6.05"/><circle cx="369.56" cy="202.38" r="6.05"/><circle cx="370.18" cy="201.21" r="6.05"/><circle cx="370.8" cy="201.82" r="6.05"/><circle cx="371.42" cy="199.46" r="6.05"/><circle cx="372.04" cy="199.38" r="6.05"/><circle cx="372.66" cy="199.51" r="6.05"/><circle cx="373.28" cy="198.02" r="6.05"/><circle cx="373.9" cy="197.11" r="6.05"/><circle cx="374.52" cy="196.36" r="6.05"/><circle cx="375.14" cy="196.03" r="6.05"/><circle cx="375.76" cy="196.5" r="6.05"/><circle cx="376.38" cy="195.29" r="6.05"/><circle cx="377" cy="194.69" r="6.05"/><circle cx="377.62" cy="193.5" r="6.05"/><circle cx="378.24" cy="193.51" r="6.05"/><circle cx="378.86" cy="192.47" r="6.05"/><circle cx="379.48" cy="191.27" r="6.05"/><circle cx="380.1" cy="190.81" r="6.05"/><circle cx="380.72" cy="190.44" r="6.05"/><circle cx="381.34" cy="190.21" r="6.05"/><circle cx="381.96" cy="188.88" r="6.05"/><circle cx="382.58" cy="188.43" r="6.05"/><circle cx="383.2" cy="188.45" r="6.05"/><circle cx="383.82" cy="186.3" r="6.05"/><circle cx="384.44" cy="185.33" r="6.05"/><circle cx="385.06" cy="185.68" r="6.05"/><circle cx="385.68" cy="184.64" r="6.05"/><circle cx="386.3" cy="183.61" r="6.05"/><circle cx="386.92" cy="183.01" r="6.05"/><circle cx="387.54" cy="181.93" r="6.05"/><circle cx="388.16" cy="181.57" r="6.05"/><circle cx="388.78" cy="180.35" r="6.05"/><circle cx="389.4" cy="180.13" r="6.05"/><circle cx="390.02" cy="178.35" r="6.05"/><circle cx="390.64" cy="177.72" r="6.05"/><circle cx="391.26" cy="177.39" r="6.05"/><circle cx="391.88" cy="176.29" r="6.05"/><circle cx="392.5" cy="176.07" r="6.05"/><circle cx="393.12" cy="174.89" r="6.05"/><circle cx="393.74" cy="173.83" r="6.05"/><circle cx="394.36" cy="173.4" r="6.05"/><circle cx="394.98" cy="172.23" r="6.05"/><circle cx="395.6" cy="170.91" r="6.05"/><circle cx="396.22" cy="170.31" r="6.05"/><circle cx="396.84" cy="169.67" r="6.05"/><circle cx="397.46" cy="169.04" r="6.05"/><circle cx="398.08" cy="168.52" r="6.05"/><circle cx="398.7" cy="168.13" r="6.05"/><circle cx="399.32" cy="167.16" r="6.05"/><circle cx="399.94" cy="166.99" r="6.05"/><circle cx="400.56" cy="165.95" r="6.05"/><circle cx="401.18" cy="164.43" r="6.05"/><circle cx="401.8" cy="164.57" r="6.05"/><circle cx="402.42" cy="163.55" r="6.05"/><circle cx="403.04" cy="161.96" r="6.05"/><circle cx="403.66" cy="161.56" r="6.05"/><circle cx="404.28" cy="161.17" r="6.05"/><circle cx="404.9" cy="159.97" r="6.05"/><circle cx="405.52" cy="159.58" r="6.05"/><circle cx="406.14" cy="158.49" r="6.05"/><circle cx="406.76" cy="157.86" r="6.05"/><circle cx="407.38" cy="156.57" r="6.05"/><circle cx="408" cy="156.14" r="6.05"/><circle cx="408.62" cy="154.99" r="6.05"/><circle cx="409.24" cy="154.73" r="6.05"/><circle cx="409.86" cy="152.77" r="6.05"/><circle cx="410.48" cy="153" r="6.05"/><circle cx="411.1" cy="152.67" r="6.05"/><circle cx="411.72" cy="151.55" r="6.05"/><circle cx="412.34" cy="150.46" r="6.05"/><circle cx="412.96" cy="149.95" r="6.05"/><circle cx="413.58" cy="148.47" r="6.05"/><circle cx="414.2" cy="147.68" r="6.05"/><circle cx="414.82" cy="147.12" r="6.05"/><circle cx="415.44" cy="146.43" r="6.05"/><circle cx="416.06" cy="146.19" r="6.05"/><circle cx="416.68" cy="144.45" r="6.05"/><circle cx="417.3" cy="144.59" r="6.05"/><circle cx="417.92" cy="142.49" r="6.05"/><circle cx="418.54" cy="142.07" r="6.05"/><circle cx="419.16" cy="141.62" r="6.05"/><circle cx="419.78" cy="141.4" r="6.05"/><circle cx="420.4" cy="139.68" r="6.05"/><circle cx="421.02" cy="138.08" r="6.05"/><circle cx="421.64" cy="138.51" r="6.05"/><circle cx="422.26" cy="137.44" r="6.05"/><circle cx="422.88" cy="136.05" r="6.05"/><circle cx="423.5" cy="135.2" r="6.05"/><circle cx="424.12" cy="134.5" r="6.05"/><circle cx="424.74" cy="134.02" r="6.05"/><circle cx="425.36" cy="133.43" r="6.05"/><circle cx="425.98" cy="131.47" r="6.05"/><circle cx="426.6" cy="132.46" r="6.05"/><circle cx="427.22" cy="130.41" r="6.05"/><circle cx="427.84" cy="129.35" r="6.05"/><circle cx="428.46" cy="128.98" r="6.05"/><circle cx="429.08" cy="127.8" r="6.05"/><circle cx="429.7" cy="128.02" r="6.05"/><circle cx="430.32" cy="126.5" r="6.05"/><circle cx="430.94" cy="124.88" r="6.05"/><circle cx="431.56" cy="123.97" r="6.05"/><circle cx="432.18" cy="123.03" r="6.05"/><circle cx="432.8" cy="122.22" r="6.05"/><circle cx="433.42" cy="121.85" r="6.05"/><circle cx="434.04" cy="120.31" r="6.05"/><circle cx="434.66" cy="120.56" r="6.05"/><circle cx="435.28" cy="118.85" r="6.05"/><circle cx="435.9" cy="117.95" r="6.05"/><circle cx="436.52" cy="117.65" r="6.05"/><circle cx="437.14" cy="115.33" r="6.05"/><circle cx="437.76" cy="115.01" r="6.05"/><circle cx="438.38" cy="114.95" r="6.05"/><circle cx="439" cy="113.83" r="6.05"/><circle cx="439.62" cy="113.01" r="6.05"/><circle cx="440.24" cy="112.41" r="6.05"/><circle cx="440.86" cy="111.11" r="6.05"/><circle cx="441.48" cy="110.52" r="6.05"/><circle cx="442.1" cy="109.13" r="6.05"/><circle cx="442.72" cy="108.08" r="6.05"/><circle cx="443.34" cy="108.85" r="6.05"/><circle cx="443.96" cy="106.96" r="6.05"/><circle cx="444.58" cy="106.27" r="6.05"/><circle cx="445.2" cy="106.54" r="6.05"/><circle cx="445.82" cy="105.58" r="6.05"/><circle cx="446.44" cy="104.01" r="6.05"/><circle cx="447.06" cy="103.22" r="6.05"/><circle cx="447.68" cy="102.67" r="6.05"/><circle cx="448.3" cy="101.46" r="6.05"/><circle cx="448.92" cy="101.45" r="6.05"/><circle cx="449.54" cy="100.48" r="6.05"/><circle cx="450.16" cy="99.71" r="6.05"/><circle cx="450.78" cy="99.27" r="6.05"/><circle cx="451.4" cy="98.51" r="6.05"/><circle cx="452.02" cy="98.33" r="6.05"/><circle cx="452.64" cy="97.43" r="6.05"/><circle cx="453.26" cy="95.09" r="6.05"/><circle cx="453.88" cy="95.67" r="6.05"/><circle cx="454.5" cy="93.94" r="6.05"/><circle cx="455.12" cy="93.08" r="6.05"/><circle cx="455.74" cy="93.45" r="6.05"/><circle cx="456.36" cy="92.05" r="6.05"/><circle cx="456.98" cy="91.56" r="6.05"/><circle cx="457.6" cy="91.58" r="6.05"/><circle cx="458.22" cy="90.05" r="6.05"/><circle cx="458.84" cy="89.27" r="6.05"/><circle cx="459.46" cy="89.24" r="6.05"/><circle cx="460.08" cy="89.05" r="6.05"/><circle cx="460.7" cy="88.07" r="6.05"/><circle cx="461.32" cy="86.39" r="6.05"/><circle cx="461.94" cy="86.21" r="6.05"/><circle cx="462.56" cy="85.83" r="6.05"/><circle cx="463.18" cy="86.24" r="6.05"/><circle cx="463.8" cy="85.09" r="6.05"/><circle cx="464.42" cy="84.45" r="6.05"/><circle cx="465.04" cy="84" r="6.05"/><circle cx="465.66" cy="82.63" r="6.05"/><circle cx="466.28" cy="82.41" r="6.05"/><circle cx="466.9" cy="81.8" r="6.05"/><circle cx="467.52" cy="80.47" r="6.05"/><circle cx="468.14" cy="80.35" r="6.05"/><circle cx="468.76" cy="80.05" r="6.05"/><circle cx="469.38" cy="78.64" r="6.05"/><circle cx="470" cy="79.01" r="6.05"/><circle cx="470.62" cy="78.41" r="6.05"/><circle cx="471.24" cy="77.99" r="6.05"/><circle cx="471.86" cy="76.53" r="6.05"/><circle cx="472.48" cy="76.43" r="6.05"/><circle cx="473.1" cy="76.57" r="6.05"/><circle cx="473.72" cy="75.71" r="6.05"/><circle cx="474.34" cy="74.41" r="6.05"/><circle cx="474.96" cy="74.42" r="6.05"/><circle cx="475.58" cy="74.53" r="6.05"/><circle cx="476.2" cy="73.3" r="6.05"/><circle cx="476.82" cy="73.07" r="6.05"/><circle cx="477.44" cy="73.71" r="6.05"/><circle cx="478.06" cy="71.97" r="6.05"/><circle cx="478.68" cy="71.51" r="6.05"/><circle cx="479.3" cy="70.66" r="6.05"/><circle cx="479.92" cy="70.44" r="6.05"/><circle cx="480.54" cy="71.13" r="6.05"/><circle cx="481.16" cy="69.95" r="6.05"/><circle cx="481.78" cy="69.05" r="6.05"/><circle cx="482.4" cy="68.82" r="6.05"/><circle cx="483.02" cy="68.93" r="6.05"/><circle cx="483.64" cy="68.96" r="6.05"/><circle cx="484.26" cy="67.87" r="6.05"/><circle cx="484.88" cy="68.26" r="6.05"/><circle cx="485.5" cy="67.32" r="6.05"/><circle cx="486.12" cy="67.42" r="6.05"/><circle cx="486.74" cy="67.18" r="6.05"/><circle cx="487.36" cy="66.91" r="6.05"/><circle cx="487.98" cy="66.08" r="6.05"/><circle cx="488.6" cy="65.9" r="6.05"/><circle cx="489.22" cy="65.94" r="6.05"/><circle cx="489.84" cy="64.75" r="6.05"/><circle cx="490.46" cy="65.19" r="6.05"/><circle cx="491.08" cy="65.08" r="6.05"/><circle cx="491.7" cy="65.07" r="6.05"/><circle cx="492.32" cy="64.25" r="6.05"/><circle cx="492.94" cy="63.91" r="6.05"/><circle cx="493.56" cy="63.81" r="6.05"/><circle cx="494.18" cy="63.12" r="6.05"/><circle cx="494.8" cy="63.13" r="6.05"/><circle cx="495.42" cy="63.19" r="6.05"/><circle cx="496.04" cy="62.88" r="6.05"/><circle cx="496.66" cy="61.98" r="6.05"/><circle cx="497.28" cy="62.1" r="6.05"/><circle cx="497.9" cy="60.98" r="6.05"/><circle cx="498.52" cy="62.22" r="6.05"/><circle cx="499.14" cy="61.33" r="6.05"/><circle cx="499.76" cy="61.5" r="6.05"/><circle cx="500.38" cy="60.62" r="6.05"/><circle cx="501" cy="60.92" r="6.05"/><circle cx="501.62" cy="60.98" r="6.05"/><circle cx="502.24" cy="61.04" r="6.05"/><circle cx="502.86" cy="59.67" r="6.05"/><circle cx="503.48" cy="60.58" r="6.05"/><circle cx="504.1" cy="59.88" r="6.05"/><circle cx="504.72" cy="59.38" r="6.05"/><circle cx="505.34" cy="59.82" r="6.05"/><circle cx="505.96" cy="59.25" r="6.05"/><circle cx="506.58" cy="59.06" r="6.05"/><circle cx="507.2" cy="58.68" r="6.05"/><circle cx="507.82" cy="58.96" r="6.05"/><circle cx="508.44" cy="58.7" r="6.05"/><circle cx="509.06" cy="58.42" r="6.05"/><circle cx="509.68" cy="57.86" r="6.05"/><circle cx="510.3" cy="57.92" r="6.05"/><circle cx="510.92" cy="58.21" r="6.05"/><circle cx="511.54" cy="58.49" r="6.05"/><circle cx="512.16" cy="57.68" r="6.05"/><circle cx="512.78" cy="58.25" r="6.05"/><circle cx="513.4" cy="57.38" r="6.05"/><circle cx="514.02" cy="56.7" r="6.05"/><circle cx="514.64" cy="57.41" r="6.05"/><circle cx="515.26" cy="56.47" r="6.05"/><circle cx="515.88" cy="57.02" r="6.05"/><circle cx="516.5" cy="57.22" r="6.05"/><circle cx="517.12" cy="56.4" r="6.05"/><circle cx="517.74" cy="56.38" r="6.05"/><circle cx="518.36" cy="57.54" r="6.05"/><circle cx="518.98" cy="56.3" r="6.05"/><circle cx="519.6" cy="56.2" r="6.05"/><circle cx="520.22" cy="56.34" r="6.05"/><circle cx="520.84" cy="55.79" r="6.05"/><circle cx="521.46" cy="55.68" r="6.05"/><circle cx="522.08" cy="55.81" r="6.05"/><circle cx="522.7" cy="54.32" r="6.05"/><circle cx="523.32" cy="56.11" r="6.05"/><circle cx="523.94" cy="54.77" r="6.05"/><circle cx="524.56" cy="54.66" r="6.05"/><circle cx="525.18" cy="55.37" r="6.05"/><circle cx="525.8" cy="55.01" r="6.05"/><circle cx="526.42" cy="54.27" r="6.05"/><circle cx="527.04" cy="54.91" r="6.05"/><circle cx="527.66" cy="54.14" r="6.05"/><circle cx="528.28" cy="54.27" r="6.05"/><circle cx="528.9" cy="53.77" r="6.05"/><circle cx="529.52" cy="54.02" r="6.05"/><circle cx="530.14" cy="54.55" r="6.05"/><circle cx="530.76" cy="54.32" r="6.05"/><circle cx="531.38" cy="54.33" r="6.05"/><circle cx="532" cy="54.55" r="6.05"/><circle cx="532.62" cy="53.99" r="6.05"/><circle cx="533.24" cy="53.6" r="6.05"/><circle cx="533.86" cy="53.72" r="6.05"/><circle cx="534.48" cy="54.6" r="6.05"/><circle cx="535.1" cy="53.72" r="6.05"/><circle cx="535.72" cy="53.8" r="6.05"/><circle cx="536.34" cy="53.52" r="6.05"/><circle cx="536.96" cy="53.62" r="6.05"/><circle cx="537.58" cy="53.65" r="6.05"/><circle cx="538.2" cy="53.36" r="6.05"/><circle cx="538.82" cy="53.23" r="6.05"/><circle cx="539.44" cy="52.85" r="6.05"/><circle cx="540.06" cy="52.76" r="6.05"/><circle cx="540.68" cy="53.33" r="6.05"/><circle cx="541.3" cy="53.45" r="6.05"/><circle cx="541.92" cy="53.48" r="6.05"/><circle cx="542.54" cy="52.99" r="6.05"/><circle cx="543.16" cy="52.5" r="6.05"/><circle cx="543.78" cy="53.18" r="6.05"/><circle cx="544.4" cy="53.12" r="6.05"/><circle cx="545.02" cy="52.01" r="6.05"/><circle cx="545.64" cy="53.12" r="6.05"/><circle cx="546.26" cy="52.96" r="6.05"/><circle cx="546.88" cy="53.45" r="6.05"/><circle cx="547.5" cy="52.02" r="6.05"/><circle cx="548.12" cy="51.9" r="6.05"/><circle cx="548.74" cy="52.88" r="6.05"/><circle cx="549.36" cy="51.55" r="6.05"/><circle cx="549.98" cy="52.04" r="6.05"/><circle cx="550.6" cy="51.82" r="6.05"/><circle cx="551.22" cy="51.82" r="6.05"/><circle cx="551.84" cy="51.33" r="6.05"/><circle cx="552.46" cy="52.13" r="6.05"/><circle cx="553.08" cy="52.69" r="6.05"/><circle cx="553.7" cy="52.39" r="6.05"/><circle cx="554.32" cy="52.35" r="6.05"/><circle cx="554.94" cy="51.92" r="6.05"/><circle cx="555.56" cy="52.78" r="6.05"/><circle cx="556.18" cy="52.28" r="6.05"/><circle cx="556.8" cy="52.51" r="6.05"/><circle cx="557.42" cy="51.17" r="6.05"/><circle cx="558.04" cy="52.08" r="6.05"/><circle cx="558.66" cy="51.3" r="6.05"/><circle cx="559.28" cy="52.01" r="6.05"/><circle cx="559.9" cy="51.9" r="6.05"/><circle cx="560.52" cy="51.2" r="6.05"/><circle cx="561.14" cy="51.82" r="6.05"/><circle cx="561.76" cy="52.27" r="6.05"/><circle cx="562.38" cy="51.91" r="6.05"/><circle cx="563" cy="51.92" r="6.05"/><circle cx="563.62" cy="51.16" r="6.05"/><circle cx="564.24" cy="51.22" r="6.05"/><circle cx="564.86" cy="50.97" r="6.05"/><circle cx="565.48" cy="51.56" r="6.05"/><circle cx="566.1" cy="52.05" r="6.05"/><circle cx="566.72" cy="51.64" r="6.05"/><circle cx="567.34" cy="51.39" r="6.05"/><circle cx="567.96" cy="50.8" r="6.05"/><circle cx="568.58" cy="51.55" r="6.05"/><circle cx="569.2" cy="51.18" r="6.05"/><circle cx="569.82" cy="50.31" r="6.05"/><circle cx="570.44" cy="50.37" r="6.05"/><circle cx="571.06" cy="51.03" r="6.05"/><circle cx="571.68" cy="50.72" r="6.05"/><circle cx="572.3" cy="51.96" r="6.05"/><circle cx="572.92" cy="51.13" r="6.05"/><circle cx="573.54" cy="50.56" r="6.05"/><circle cx="574.16" cy="50.8" r="6.05"/><circle cx="574.78" cy="51.81" r="6.05"/><circle cx="575.4" cy="50.52" r="6.05"/><circle cx="576.02" cy="51.34" r="6.05"/><circle cx="576.64" cy="51.15" r="6.05"/><circle cx="577.26" cy="51.63" r="6.05"/><circle cx="577.88" cy="51.13" r="6.05"/><circle cx="578.5" cy="50.64" r="6.05"/><circle cx="579.12" cy="51.07" r="6.05"/><circle cx="579.74" cy="50.81" r="6.05"/><circle cx="580.36" cy="51.24" r="6.05"/><circle cx="580.98" cy="50.69" r="6.05"/><circle cx="581.6" cy="51.68" r="6.05"/><circle cx="582.22" cy="50.62" r="6.05"/><circle cx="582.84" cy="50.86" r="6.05"/><circle cx="583.46" cy="50.28" r="6.05"/><circle cx="584.08" cy="50.64" r="6.05"/><circle cx="584.7" cy="50.57" r="6.05"/><circle cx="585.32" cy="50.61" r="6.05"/><circle cx="585.94" cy="50.94" r="6.05"/><circle cx="586.56" cy="50.2" r="6.05"/><circle cx="587.18" cy="50.02" r="6.05"/><circle cx="587.8" cy="50.96" r="6.05"/><circle cx="588.42" cy="50.24" r="6.05"/><circle cx="589.04" cy="50.02" r="6.05"/><circle cx="589.66" cy="50.9" r="6.05"/><circle cx="590.28" cy="50.68" r="6.05"/><circle cx="590.9" cy="48.95" r="6.05"/><circle cx="591.52" cy="50.05" r="6.05"/><circle cx="592.14" cy="50.6" r="6.05"/><circle cx="592.76" cy="50.6" r="6.05"/><circle cx="593.38" cy="49.91" r="6.05"/><circle cx="594" cy="50.92" r="6.05"/><circle cx="594.62" cy="49.72" r="6.05"/><circle cx="595.24" cy="49.98" r="6.05"/><circle cx="595.86" cy="50.14" r="6.05"/><circle cx="596.48" cy="50.05" r="6.05"/><circle cx="597.1" cy="50.43" r="6.05"/><circle cx="597.72" cy="50.51" r="6.05"/><circle cx="598.34" cy="49.96" r="6.05"/><circle cx="598.96" cy="50.66" r="6.05"/><circle cx="599.58" cy="49.6" r="6.05"/><circle cx="600.2" cy="49.81" r="6.05"/><circle cx="600.82" cy="50.75" r="6.05"/><circle cx="601.44" cy="49.92" r="6.05"/><circle cx="602.06" cy="50.37" r="6.05"/><circle cx="602.68" cy="49.6" r="6.05"/><circle cx="603.3" cy="49.66" r="6.05"/><circle cx="603.92" cy="49.71" r="6.05"/><circle cx="604.54" cy="49.82" r="6.05"/><circle cx="605.16" cy="49.54" r="6.05"/><circle cx="605.78" cy="49.68" r="6.05"/><circle cx="606.4" cy="49.97" r="6.05"/><circle cx="607.02" cy="50.21" r="6.05"/><circle cx="607.64" cy="49.62" r="6.05"/><circle cx="608.26" cy="49.86" r="6.05"/><circle cx="608.88" cy="49.95" r="6.05"/><circle cx="609.5" cy="48.92" r="6.05"/><circle cx="610.12" cy="48.62" r="6.05"/><circle cx="610.74" cy="50.16" r="6.05"/><circle cx="611.36" cy="49.96" r="6.05"/><circle cx="611.98" cy="49.27" r="6.05"/><circle cx="612.6" cy="49.35" r="6.05"/><circle cx="613.22" cy="48.63" r="6.05"/><circle cx="613.84" cy="48.34" r="6.05"/><circle cx="614.46" cy="49.1" r="6.05"/><circle cx="615.08" cy="48.11" r="6.05"/><circle cx="615.7" cy="49.22" r="6.05"/><circle cx="616.32" cy="48.33" r="6.05"/><circle cx="616.94" cy="48.71" r="6.05"/><circle cx="617.56" cy="49.43" r="6.05"/><circle cx="618.18" cy="49.3" r="6.05"/><circle cx="618.8" cy="48.11" r="6.05"/><circle cx="619.42" cy="48.67" r="6.05"/><circle cx="620.04" cy="47.51" r="6.05"/><circle cx="620.66" cy="47.61" r="6.05"/><circle cx="621.28" cy="47.97" r="6.05"/><circle cx="621.9" cy="48.36" r="6.05"/><circle cx="622.52" cy="47.26" r="6.05"/><circle cx="623.14" cy="47.69" r="6.05"/><circle cx="623.7" cy="47.37" r="6.05"/></g>
<polyline fill="none" stroke="#7fcd75" stroke-width="2" stroke-linejoin="round" points="141.7,260.3 142.1,247.6 142.5,236.2 143.7,217.9 144.1,203.7 145.1,192.1 146,181 146.4,175.4 147,170.7 147.5,163.4 148.29,156.43 151.29,154.51 148.73,152.02 151.75,150.13 149.21,147.62 152.24,145.76 149.74,143.23 152.8,141.45 150.37,138.85 153.49,137.18 151.15,134.5 154.33,132.94 152.06,130.18 155.28,128.68 153.06,125.86 156.28,124.41 154.09,121.56 157.32,120.18 155.2,117.27 158.45,116.02 156.44,113 159.73,111.94 157.89,108.79 161.23,107.91 159.56,104.65 162.96,103.89 161.43,100.61 164.93,100 163.63,96.72 167.25,96.35 166.23,93.07 169.92,92.98 169.14,89.68 172.82,89.89 172.26,86.5 175.79,87.05 175.58,83.61 178.9,84.6 179.2,81.2 182.05,83.12 183.33,79.94 185.22,82.77 187.63,80.34 188.91,83.52 191.77,81.64 192.14,85.09 195.44,83.99 197.3,85.2 201,90.2 202.7,93.9 203.9,97.2 206,104.6 208,113.6 209.7,117.3 210.9,121.9 212.6,130.9 213.8,143.3 215.9,162.2 217.3,181 220.6,196.5 224.5,206.5 227.9,219.6 231,230.7 237.5,241.1 241.7,248.6 244.5,258.6 246.8,265 249.4,269.9 252.5,274.3 254.8,278.7 257.1,281.3 260.7,282.2 264.3,281.3 267.9,280.4 271.4,279.5 275,277.7 278.6,276.8 282.2,274.1 285.8,272.3 290.3,269.6 293.9,267.9 297.5,265.2 301,263 304.6,260.5 308.2,258 311.8,255.3 315.4,252.5 319,249.5 322.6,246 326.2,242.5 330.5,238.8"/>
<g fill="#c9edc4" stroke="#7fcd75" stroke-width="1.75"><circle cx="141.7" cy="260.3" r="6"/><circle cx="142.1" cy="247.6" r="6"/><circle cx="142.5" cy="236.2" r="6"/><circle cx="143.7" cy="217.9" r="6"/><circle cx="144.1" cy="203.7" r="6"/><circle cx="145.1" cy="192.1" r="6"/><circle cx="146" cy="181" r="6"/><circle cx="146.4" cy="175.4" r="6"/><circle cx="147" cy="170.7" r="6"/><circle cx="147.5" cy="163.4" r="6"/><circle cx="148.29" cy="156.43" r="6"/><circle cx="151.29" cy="154.51" r="6"/><circle cx="148.73" cy="152.02" r="6"/><circle cx="151.75" cy="150.13" r="6"/><circle cx="149.21" cy="147.62" r="6"/><circle cx="152.24" cy="145.76" r="6"/><circle cx="149.74" cy="143.23" r="6"/><circle cx="152.8" cy="141.45" r="6"/><circle cx="150.37" cy="138.85" r="6"/><circle cx="153.49" cy="137.18" r="6"/><circle cx="151.15" cy="134.5" r="6"/><circle cx="154.33" cy="132.94" r="6"/><circle cx="152.06" cy="130.18" r="6"/><circle cx="155.28" cy="128.68" r="6"/><circle cx="153.06" cy="125.86" r="6"/><circle cx="156.28" cy="124.41" r="6"/><circle cx="154.09" cy="121.56" r="6"/><circle cx="157.32" cy="120.18" r="6"/><circle cx="155.2" cy="117.27" r="6"/><circle cx="158.45" cy="116.02" r="6"/><circle cx="156.44" cy="113" r="6"/><circle cx="159.73" cy="111.94" r="6"/><circle cx="157.89" cy="108.79" r="6"/><circle cx="161.23" cy="107.91" r="6"/><circle cx="159.56" cy="104.65" r="6"/><circle cx="162.96" cy="103.89" r="6"/><circle cx="161.43" cy="100.61" r="6"/><circle cx="164.93" cy="100" r="6"/><circle cx="163.63" cy="96.72" r="6"/><circle cx="167.25" cy="96.35" r="6"/><circle cx="166.23" cy="93.07" r="6"/><circle cx="169.92" cy="92.98" r="6"/><circle cx="169.14" cy="89.68" r="6"/><circle cx="172.82" cy="89.89" r="6"/><circle cx="172.26" cy="86.5" r="6"/><circle cx="175.79" cy="87.05" r="6"/><circle cx="175.58" cy="83.61" r="6"/><circle cx="178.9" cy="84.6" r="6"/><circle cx="179.2" cy="81.2" r="6"/><circle cx="182.05" cy="83.12" r="6"/><circle cx="183.33" cy="79.94" r="6"/><circle cx="185.22" cy="82.77" r="6"/><circle cx="187.63" cy="80.34" r="6"/><circle cx="188.91" cy="83.52" r="6"/><circle cx="191.77" cy="81.64" r="6"/><circle cx="192.14" cy="85.09" r="6"/><circle cx="195.44" cy="83.99" r="6"/><circle cx="197.3" cy="85.2" r="6"/><circle cx="201" cy="90.2" r="6"/><circle cx="202.7" cy="93.9" r="6"/><circle cx="203.9" cy="97.2" r="6"/><circle cx="206" cy="104.6" r="6"/><circle cx="208" cy="113.6" r="6"/><circle cx="209.7" cy="117.3" r="6"/><circle cx="210.9" cy="121.9" r="6"/><circle cx="212.6" cy="130.9" r="6"/><circle cx="213.8" cy="143.3" r="6"/><circle cx="215.9" cy="162.2" r="6"/><circle cx="217.3" cy="181" r="6"/><circle cx="220.6" cy="196.5" r="6"/><circle cx="224.5" cy="206.5" r="6"/><circle cx="227.9" cy="219.6" r="6"/><circle cx="231" cy="230.7" r="6"/><circle cx="237.5" cy="241.1" r="6"/><circle cx="241.7" cy="248.6" r="6"/><circle cx="244.5" cy="258.6" r="6"/><circle cx="246.8" cy="265" r="6"/><circle cx="249.4" cy="269.9" r="6"/><circle cx="252.5" cy="274.3" r="6"/><circle cx="254.8" cy="278.7" r="6"/><circle cx="257.1" cy="281.3" r="6"/><circle cx="260.7" cy="282.2" r="6"/><circle cx="264.3" cy="281.3" r="6"/><circle cx="267.9" cy="280.4" r="6"/><circle cx="271.4" cy="279.5" r="6"/><circle cx="275" cy="277.7" r="6"/><circle cx="278.6" cy="276.8" r="6"/><circle cx="282.2" cy="274.1" r="6"/><circle cx="285.8" cy="272.3" r="6"/><circle cx="290.3" cy="269.6" r="6"/><circle cx="293.9" cy="267.9" r="6"/><circle cx="297.5" cy="265.2" r="6"/><circle cx="301" cy="263" r="6"/><circle cx="304.6" cy="260.5" r="6"/><circle cx="308.2" cy="258" r="6"/><circle cx="311.8" cy="255.3" r="6"/><circle cx="315.4" cy="252.5" r="6"/><circle cx="319" cy="249.5" r="6"/><circle cx="322.6" cy="246" r="6"/><circle cx="326.2" cy="242.5" r="6"/><circle cx="330.5" cy="238.8" r="6"/></g>
<polyline fill="none" stroke="#84ce7d" stroke-width="1.4" stroke-linejoin="round" points="127.9,877.9 129.1,865 129.54,855.5 129.97,848.4 130.41,841.6 130.85,834.8 131.29,829 131.72,822 132.16,814.3 132.6,806.4 133.04,798.6 133.47,792.8 133.91,788.9 134.35,782 134.79,777 135.22,769.3 135.66,758.6 136.1,750.8 136.54,743 136.97,736.1 137.41,729.3 137.85,721.5 138.29,715.6 138.72,710.7 139.16,705.9 139.6,702 139.88,701.9 140.16,702.02 141.14,697.51 141.42,695.04 141.7,692.16 141.98,690.19 142.26,688.06 142.54,686.15 142.82,684 143.55,679.73 143.83,677.53 144.11,676.05 144.39,674.88 144.67,673.48 144.95,671.88 145.23,670.1 146.21,666.59 146.49,665.36 146.77,663.67 147.05,663.13 147.33,661.46 147.61,660.06 147.89,659.11 148.17,657.68 148.45,656.42 148.73,654.48 149.01,654.11 149.29,652 150.27,647.09 150.55,646.52 150.83,645.04 151.81,641.17 152.09,639.85 152.37,638.82 152.65,637.82 152.93,636.45 153.91,633.26 154.19,631.93 154.47,630.84 155.45,627.85 155.73,627.03 156.01,625.91 156.29,624.81 156.57,624.36 156.85,622.75 157.13,622.1 157.41,621.56 157.69,620.3 158.67,617.92 158.95,617.16 159.23,616.72 159.51,615.49 160.49,613.41 160.77,613.13 161.75,610.42 162.73,610.34 163.01,608.73 163.29,608.25 163.57,608.27 163.85,607.56 164.13,606.59 165.11,605.83 165.39,605.49 165.67,604.7 165.95,604.35 166.23,604.19 166.51,603.38 166.79,603.4 167.07,602.95 167.35,602.31 168.33,600.79 168.61,600.77 168.89,600.2 169.17,600.39 169.45,599.77 170.43,598.66 170.71,598.1 170.99,597.77 171.27,597.1 171.55,597.17 171.83,597.15 172.11,596.17 172.39,595.74 172.67,595.52 172.95,595.08 173.93,593.84 174.21,593.77 175.19,592.53 175.47,592.74 175.75,592 176.03,591.8 177.01,590.97 177.29,590.32 178.27,589.87 178.55,588.98 178.83,588.66 179.81,587.85 180.09,587.66 180.37,587.01 180.65,587.16 180.93,586.41 181.21,587.07 181.49,586.37 181.77,585.95 182.05,585.62 182.33,585.52 182.61,585.32 183.59,584.21 183.87,584.01 184.15,583.99 184.43,583.65 185.41,583.26 185.69,583.09 185.97,582.53 186.25,582.44 187.23,581.12 187.51,581.49 187.79,581.07 188.07,581.01 188.35,581.14 188.63,579.76 188.91,580.32 189.19,579.7 189.47,580 189.75,579.23 190.03,579.28 191.01,578.8 191.29,578.73 191.57,578.38 191.85,577.94 192.13,577.83 192.41,578.08 192.69,577.63 192.97,576.95 193.25,577.53 193.53,577.23 193.81,577.19 194.09,576.66 194.37,576.84 194.65,576.11 195.63,576.03 195.91,575.55 196.19,575.74 197.17,575.3 197.45,574.62 197.73,574.67 198.01,574.55 198.29,574.75 198.57,574.46 199.55,573.37 199.83,573.73 200.11,573.68 200.39,573.95 200.67,572.67 201.65,572.53 201.93,572.96 202.91,571.68 203.19,571.6 203.47,571.98 203.75,572 204.03,571.36 204.31,571.6 204.59,571.34 204.87,571.63 205.15,571.05 205.43,571.22 205.71,570.52 205.99,570.61 206.27,570.51 206.55,570.76 206.83,570.46 207.11,569.94 207.39,570.24 207.67,570.14 207.95,569.75 208.23,569.59 209.21,569.17 209.49,568.59 209.77,569.04 210.05,568.93 210.33,568.47 210.61,568.84 210.89,568.08 211.17,568.21 212.15,567.81 212.43,568.44 212.71,567.25 212.99,567.78 213.27,567.78 213.55,567.5 213.83,567.64 214.11,566.87 214.39,566.39 214.67,567.2 215.65,566.26 215.93,566.42 216.21,566.07 216.49,566.65 217.47,566.26 217.75,565.69 218.03,566.09 218.31,565.76 218.59,565.59 218.87,565.57 219.15,565.41 219.43,565.57 219.71,565.41 219.99,565.14 220.27,565.48 220.55,564.93 221.53,565.03 221.81,565.03 222.09,565.31 222.37,564.67 222.65,565.31 222.93,564.8 223.91,564.57 224.89,564.34 225.17,564.7 225.45,564.53 225.9,564.17"/>
<g fill="#fff" stroke="#84ce7d" stroke-width="1.5"><rect x="123.25" y="873.25" width="9.3" height="9.3"/><rect x="124.45" y="860.35" width="9.3" height="9.3"/><rect x="124.89" y="850.85" width="9.3" height="9.3"/><rect x="125.32" y="843.75" width="9.3" height="9.3"/><rect x="125.76" y="836.95" width="9.3" height="9.3"/><rect x="126.2" y="830.15" width="9.3" height="9.3"/><rect x="126.64" y="824.35" width="9.3" height="9.3"/><rect x="127.07" y="817.35" width="9.3" height="9.3"/><rect x="127.51" y="809.65" width="9.3" height="9.3"/><rect x="127.95" y="801.75" width="9.3" height="9.3"/><rect x="128.39" y="793.95" width="9.3" height="9.3"/><rect x="128.82" y="788.15" width="9.3" height="9.3"/><rect x="129.26" y="784.25" width="9.3" height="9.3"/><rect x="129.7" y="777.35" width="9.3" height="9.3"/><rect x="130.14" y="772.35" width="9.3" height="9.3"/><rect x="130.57" y="764.65" width="9.3" height="9.3"/><rect x="131.01" y="753.95" width="9.3" height="9.3"/><rect x="131.45" y="746.15" width="9.3" height="9.3"/><rect x="131.89" y="738.35" width="9.3" height="9.3"/><rect x="132.32" y="731.45" width="9.3" height="9.3"/><rect x="132.76" y="724.65" width="9.3" height="9.3"/><rect x="133.2" y="716.85" width="9.3" height="9.3"/><rect x="133.64" y="710.95" width="9.3" height="9.3"/><rect x="134.07" y="706.05" width="9.3" height="9.3"/><rect x="134.51" y="701.25" width="9.3" height="9.3"/><rect x="134.95" y="697.35" width="9.3" height="9.3"/><rect x="135.23" y="697.25" width="9.3" height="9.3"/><rect x="135.51" y="697.37" width="9.3" height="9.3"/><rect x="136.49" y="692.86" width="9.3" height="9.3"/><rect x="136.77" y="690.39" width="9.3" height="9.3"/><rect x="137.05" y="687.51" width="9.3" height="9.3"/><rect x="137.33" y="685.54" width="9.3" height="9.3"/><rect x="137.61" y="683.41" width="9.3" height="9.3"/><rect x="137.89" y="681.5" width="9.3" height="9.3"/><rect x="138.17" y="679.35" width="9.3" height="9.3"/><rect x="138.9" y="675.08" width="9.3" height="9.3"/><rect x="139.18" y="672.88" width="9.3" height="9.3"/><rect x="139.46" y="671.4" width="9.3" height="9.3"/><rect x="139.74" y="670.23" width="9.3" height="9.3"/><rect x="140.02" y="668.83" width="9.3" height="9.3"/><rect x="140.3" y="667.23" width="9.3" height="9.3"/><rect x="140.58" y="665.45" width="9.3" height="9.3"/><rect x="141.56" y="661.94" width="9.3" height="9.3"/><rect x="141.84" y="660.71" width="9.3" height="9.3"/><rect x="142.12" y="659.02" width="9.3" height="9.3"/><rect x="142.4" y="658.48" width="9.3" height="9.3"/><rect x="142.68" y="656.81" width="9.3" height="9.3"/><rect x="142.96" y="655.41" width="9.3" height="9.3"/><rect x="143.24" y="654.46" width="9.3" height="9.3"/><rect x="143.52" y="653.03" width="9.3" height="9.3"/><rect x="143.8" y="651.77" width="9.3" height="9.3"/><rect x="144.08" y="649.83" width="9.3" height="9.3"/><rect x="144.36" y="649.46" width="9.3" height="9.3"/><rect x="144.64" y="647.35" width="9.3" height="9.3"/><rect x="145.62" y="642.44" width="9.3" height="9.3"/><rect x="145.9" y="641.87" width="9.3" height="9.3"/><rect x="146.18" y="640.39" width="9.3" height="9.3"/><rect x="147.16" y="636.52" width="9.3" height="9.3"/><rect x="147.44" y="635.2" width="9.3" height="9.3"/><rect x="147.72" y="634.17" width="9.3" height="9.3"/><rect x="148" y="633.17" width="9.3" height="9.3"/><rect x="148.28" y="631.8" width="9.3" height="9.3"/><rect x="149.26" y="628.61" width="9.3" height="9.3"/><rect x="149.54" y="627.28" width="9.3" height="9.3"/><rect x="149.82" y="626.19" width="9.3" height="9.3"/><rect x="150.8" y="623.2" width="9.3" height="9.3"/><rect x="151.08" y="622.38" width="9.3" height="9.3"/><rect x="151.36" y="621.26" width="9.3" height="9.3"/><rect x="151.64" y="620.16" width="9.3" height="9.3"/><rect x="151.92" y="619.71" width="9.3" height="9.3"/><rect x="152.2" y="618.1" width="9.3" height="9.3"/><rect x="152.48" y="617.45" width="9.3" height="9.3"/><rect x="152.76" y="616.91" width="9.3" height="9.3"/><rect x="153.04" y="615.65" width="9.3" height="9.3"/><rect x="154.02" y="613.27" width="9.3" height="9.3"/><rect x="154.3" y="612.51" width="9.3" height="9.3"/><rect x="154.58" y="612.07" width="9.3" height="9.3"/><rect x="154.86" y="610.84" width="9.3" height="9.3"/><rect x="155.84" y="608.76" width="9.3" height="9.3"/><rect x="156.12" y="608.48" width="9.3" height="9.3"/><rect x="157.1" y="605.77" width="9.3" height="9.3"/><rect x="158.08" y="605.69" width="9.3" height="9.3"/><rect x="158.36" y="604.08" width="9.3" height="9.3"/><rect x="158.64" y="603.6" width="9.3" height="9.3"/><rect x="158.92" y="603.62" width="9.3" height="9.3"/><rect x="159.2" y="602.91" width="9.3" height="9.3"/><rect x="159.48" y="601.94" width="9.3" height="9.3"/><rect x="160.46" y="601.18" width="9.3" height="9.3"/><rect x="160.74" y="600.84" width="9.3" height="9.3"/><rect x="161.02" y="600.05" width="9.3" height="9.3"/><rect x="161.3" y="599.7" width="9.3" height="9.3"/><rect x="161.58" y="599.54" width="9.3" height="9.3"/><rect x="161.86" y="598.73" width="9.3" height="9.3"/><rect x="162.14" y="598.75" width="9.3" height="9.3"/><rect x="162.42" y="598.3" width="9.3" height="9.3"/><rect x="162.7" y="597.66" width="9.3" height="9.3"/><rect x="163.68" y="596.14" width="9.3" height="9.3"/><rect x="163.96" y="596.12" width="9.3" height="9.3"/><rect x="164.24" y="595.55" width="9.3" height="9.3"/><rect x="164.52" y="595.74" width="9.3" height="9.3"/><rect x="164.8" y="595.12" width="9.3" height="9.3"/><rect x="165.78" y="594.01" width="9.3" height="9.3"/><rect x="166.06" y="593.45" width="9.3" height="9.3"/><rect x="166.34" y="593.12" width="9.3" height="9.3"/><rect x="166.62" y="592.45" width="9.3" height="9.3"/><rect x="166.9" y="592.52" width="9.3" height="9.3"/><rect x="167.18" y="592.5" width="9.3" height="9.3"/><rect x="167.46" y="591.52" width="9.3" height="9.3"/><rect x="167.74" y="591.09" width="9.3" height="9.3"/><rect x="168.02" y="590.87" width="9.3" height="9.3"/><rect x="168.3" y="590.43" width="9.3" height="9.3"/><rect x="169.28" y="589.19" width="9.3" height="9.3"/><rect x="169.56" y="589.12" width="9.3" height="9.3"/><rect x="170.54" y="587.88" width="9.3" height="9.3"/><rect x="170.82" y="588.09" width="9.3" height="9.3"/><rect x="171.1" y="587.35" width="9.3" height="9.3"/><rect x="171.38" y="587.15" width="9.3" height="9.3"/><rect x="172.36" y="586.32" width="9.3" height="9.3"/><rect x="172.64" y="585.67" width="9.3" height="9.3"/><rect x="173.62" y="585.22" width="9.3" height="9.3"/><rect x="173.9" y="584.33" width="9.3" height="9.3"/><rect x="174.18" y="584.01" width="9.3" height="9.3"/><rect x="175.16" y="583.2" width="9.3" height="9.3"/><rect x="175.44" y="583.01" width="9.3" height="9.3"/><rect x="175.72" y="582.36" width="9.3" height="9.3"/><rect x="176" y="582.51" width="9.3" height="9.3"/><rect x="176.28" y="581.76" width="9.3" height="9.3"/><rect x="176.56" y="582.42" width="9.3" height="9.3"/><rect x="176.84" y="581.72" width="9.3" height="9.3"/><rect x="177.12" y="581.3" width="9.3" height="9.3"/><rect x="177.4" y="580.97" width="9.3" height="9.3"/><rect x="177.68" y="580.87" width="9.3" height="9.3"/><rect x="177.96" y="580.67" width="9.3" height="9.3"/><rect x="178.94" y="579.56" width="9.3" height="9.3"/><rect x="179.22" y="579.36" width="9.3" height="9.3"/><rect x="179.5" y="579.34" width="9.3" height="9.3"/><rect x="179.78" y="579" width="9.3" height="9.3"/><rect x="180.76" y="578.61" width="9.3" height="9.3"/><rect x="181.04" y="578.44" width="9.3" height="9.3"/><rect x="181.32" y="577.88" width="9.3" height="9.3"/><rect x="181.6" y="577.79" width="9.3" height="9.3"/><rect x="182.58" y="576.47" width="9.3" height="9.3"/><rect x="182.86" y="576.84" width="9.3" height="9.3"/><rect x="183.14" y="576.42" width="9.3" height="9.3"/><rect x="183.42" y="576.36" width="9.3" height="9.3"/><rect x="183.7" y="576.49" width="9.3" height="9.3"/><rect x="183.98" y="575.11" width="9.3" height="9.3"/><rect x="184.26" y="575.67" width="9.3" height="9.3"/><rect x="184.54" y="575.05" width="9.3" height="9.3"/><rect x="184.82" y="575.35" width="9.3" height="9.3"/><rect x="185.1" y="574.58" width="9.3" height="9.3"/><rect x="185.38" y="574.63" width="9.3" height="9.3"/><rect x="186.36" y="574.15" width="9.3" height="9.3"/><rect x="186.64" y="574.08" width="9.3" height="9.3"/><rect x="186.92" y="573.73" width="9.3" height="9.3"/><rect x="187.2" y="573.29" width="9.3" height="9.3"/><rect x="187.48" y="573.18" width="9.3" height="9.3"/><rect x="187.76" y="573.43" width="9.3" height="9.3"/><rect x="188.04" y="572.98" width="9.3" height="9.3"/><rect x="188.32" y="572.3" width="9.3" height="9.3"/><rect x="188.6" y="572.88" width="9.3" height="9.3"/><rect x="188.88" y="572.58" width="9.3" height="9.3"/><rect x="189.16" y="572.54" width="9.3" height="9.3"/><rect x="189.44" y="572.01" width="9.3" height="9.3"/><rect x="189.72" y="572.19" width="9.3" height="9.3"/><rect x="190" y="571.46" width="9.3" height="9.3"/><rect x="190.98" y="571.38" width="9.3" height="9.3"/><rect x="191.26" y="570.9" width="9.3" height="9.3"/><rect x="191.54" y="571.09" width="9.3" height="9.3"/><rect x="192.52" y="570.65" width="9.3" height="9.3"/><rect x="192.8" y="569.97" width="9.3" height="9.3"/><rect x="193.08" y="570.02" width="9.3" height="9.3"/><rect x="193.36" y="569.9" width="9.3" height="9.3"/><rect x="193.64" y="570.1" width="9.3" height="9.3"/><rect x="193.92" y="569.81" width="9.3" height="9.3"/><rect x="194.9" y="568.72" width="9.3" height="9.3"/><rect x="195.18" y="569.08" width="9.3" height="9.3"/><rect x="195.46" y="569.03" width="9.3" height="9.3"/><rect x="195.74" y="569.3" width="9.3" height="9.3"/><rect x="196.02" y="568.02" width="9.3" height="9.3"/><rect x="197" y="567.88" width="9.3" height="9.3"/><rect x="197.28" y="568.31" width="9.3" height="9.3"/><rect x="198.26" y="567.03" width="9.3" height="9.3"/><rect x="198.54" y="566.95" width="9.3" height="9.3"/><rect x="198.82" y="567.33" width="9.3" height="9.3"/><rect x="199.1" y="567.35" width="9.3" height="9.3"/><rect x="199.38" y="566.71" width="9.3" height="9.3"/><rect x="199.66" y="566.95" width="9.3" height="9.3"/><rect x="199.94" y="566.69" width="9.3" height="9.3"/><rect x="200.22" y="566.98" width="9.3" height="9.3"/><rect x="200.5" y="566.4" width="9.3" height="9.3"/><rect x="200.78" y="566.57" width="9.3" height="9.3"/><rect x="201.06" y="565.87" width="9.3" height="9.3"/><rect x="201.34" y="565.96" width="9.3" height="9.3"/><rect x="201.62" y="565.86" width="9.3" height="9.3"/><rect x="201.9" y="566.11" width="9.3" height="9.3"/><rect x="202.18" y="565.81" width="9.3" height="9.3"/><rect x="202.46" y="565.29" width="9.3" height="9.3"/><rect x="202.74" y="565.59" width="9.3" height="9.3"/><rect x="203.02" y="565.49" width="9.3" height="9.3"/><rect x="203.3" y="565.1" width="9.3" height="9.3"/><rect x="203.58" y="564.94" width="9.3" height="9.3"/><rect x="204.56" y="564.52" width="9.3" height="9.3"/><rect x="204.84" y="563.94" width="9.3" height="9.3"/><rect x="205.12" y="564.39" width="9.3" height="9.3"/><rect x="205.4" y="564.28" width="9.3" height="9.3"/><rect x="205.68" y="563.82" width="9.3" height="9.3"/><rect x="205.96" y="564.19" width="9.3" height="9.3"/><rect x="206.24" y="563.43" width="9.3" height="9.3"/><rect x="206.52" y="563.56" width="9.3" height="9.3"/><rect x="207.5" y="563.16" width="9.3" height="9.3"/><rect x="207.78" y="563.79" width="9.3" height="9.3"/><rect x="208.06" y="562.6" width="9.3" height="9.3"/><rect x="208.34" y="563.13" width="9.3" height="9.3"/><rect x="208.62" y="563.13" width="9.3" height="9.3"/><rect x="208.9" y="562.85" width="9.3" height="9.3"/><rect x="209.18" y="562.99" width="9.3" height="9.3"/><rect x="209.46" y="562.22" width="9.3" height="9.3"/><rect x="209.74" y="561.74" width="9.3" height="9.3"/><rect x="210.02" y="562.55" width="9.3" height="9.3"/><rect x="211" y="561.61" width="9.3" height="9.3"/><rect x="211.28" y="561.77" width="9.3" height="9.3"/><rect x="211.56" y="561.42" width="9.3" height="9.3"/><rect x="211.84" y="562" width="9.3" height="9.3"/><rect x="212.82" y="561.61" width="9.3" height="9.3"/><rect x="213.1" y="561.04" width="9.3" height="9.3"/><rect x="213.38" y="561.44" width="9.3" height="9.3"/><rect x="213.66" y="561.11" width="9.3" height="9.3"/><rect x="213.94" y="560.94" width="9.3" height="9.3"/><rect x="214.22" y="560.92" width="9.3" height="9.3"/><rect x="214.5" y="560.76" width="9.3" height="9.3"/><rect x="214.78" y="560.92" width="9.3" height="9.3"/><rect x="215.06" y="560.76" width="9.3" height="9.3"/><rect x="215.34" y="560.49" width="9.3" height="9.3"/><rect x="215.62" y="560.83" width="9.3" height="9.3"/><rect x="215.9" y="560.28" width="9.3" height="9.3"/><rect x="216.88" y="560.38" width="9.3" height="9.3"/><rect x="217.16" y="560.38" width="9.3" height="9.3"/><rect x="217.44" y="560.66" width="9.3" height="9.3"/><rect x="217.72" y="560.02" width="9.3" height="9.3"/><rect x="218" y="560.66" width="9.3" height="9.3"/><rect x="218.28" y="560.15" width="9.3" height="9.3"/><rect x="219.26" y="559.92" width="9.3" height="9.3"/><rect x="220.24" y="559.69" width="9.3" height="9.3"/><rect x="220.52" y="560.05" width="9.3" height="9.3"/><rect x="220.8" y="559.88" width="9.3" height="9.3"/><rect x="221.25" y="559.52" width="9.3" height="9.3"/></g>
<polyline fill="none" stroke="#ec6150" stroke-width="1.4" stroke-linejoin="round" points="225.9,571.13 226.18,574.99 226.46,577.83 226.74,581.83 227.16,586.49 227.44,589.14 227.72,592.3 228.16,597.76 228.6,603.2 228.88,605.95 229.16,609 229.44,611.95 229.9,617.2 230.18,620.05 230.46,622.95 230.74,625.48 231.02,629.01 231.3,631.91 231.58,633.92 231.86,637.77 232.37,642.23 232.65,644.51 232.93,646.68 233.21,649.99 233.49,652.47 233.77,654.6 234.05,656.69 234.33,659.98 234.61,661.85 235.2,666.81 235.81,672.73 236.09,674.73 236.37,676.56 236.65,678.28 236.93,680.73 237.21,681.94 237.49,684.71 237.77,686.48 238.05,688.33 238.33,690.22 238.61,692.81 238.89,694.62 239.17,696.55 239.45,698.64 239.73,700.01 240.01,701.74 240.29,703.41 240.57,705.65 240.85,707.77 241.64,712.42 242.45,717.61 242.73,718.76 243.01,720.66 243.29,722.26 243.57,723.78 243.85,726.37 244.13,727.7 244.41,728.81 244.69,730.42 244.97,732.23 245.85,736.68 246.77,742.11 247.75,746.49 248.03,748.11 249.01,752.39 249.99,756.88 250.27,757.8 251.25,761.86 251.53,763.25 251.81,764.61 252.09,765.9 252.37,767.02 252.65,768.47 252.93,769.27 253.21,770 253.49,771.47 253.77,772.16 254.05,773.78 254.33,774.53 254.61,775 254.89,776.73 255.87,779.98 256.15,779.51 256.43,780.71 256.71,781.63 257.69,784.14 257.97,785.3 258.95,788.47 259.23,789.93 260.21,792.5 261.19,795.54 261.47,795.14 261.75,796.33 262.03,796.87 263.01,799.59 263.29,799.92 263.57,800.39 263.85,801.46 264.83,804.33 265.81,806.93 266.09,807.22 266.37,807.69 266.65,807.94 266.93,809.44 267.21,810.07 267.49,810.07 267.77,810.69 268.75,812.12 269.03,813.17 269.31,813.37 269.59,813.85 270.57,815.77 271.55,817.6 271.83,818.01 272.11,818.22 272.39,818.72 272.67,819.24 272.95,820.46 273.93,822.66 274.21,821.94 274.49,823.06 275.47,824.83 275.75,824.88 276.03,825.66 276.31,825.49 276.59,826.49 276.87,826.48 277.15,827.18 277.43,827.64 277.71,827.68 277.99,827.84 278.27,828.69 278.55,829.22 278.83,829.19 279.81,830.82 280.09,830.95 280.37,831.62 280.65,832.01 281.63,833 281.91,834.1 282.19,834.07 283.17,835.2 284.15,836.25 284.43,837.32 284.71,837.14 284.99,837.68 285.27,837.72 285.55,838.57 285.83,839.11 286.81,839.72 287.09,840 287.37,840.61 287.65,840.25 287.93,841.37 288.21,841.78 288.49,842.21 289.47,842.93 289.75,843.12 290.03,842.9 290.31,843.54 290.59,843.74 290.87,844.65 291.15,844.94 292.13,845.96 292.41,846.37 292.69,845.86 292.97,846.77 293.25,846.15 293.53,846.37 293.81,847.27 294.09,847.77 294.37,848.32 294.65,847.82 294.93,848.1 295.21,848.12 295.49,848.66 296.47,849.04 296.75,849.44 297.03,848.91 297.31,849.07 297.59,849.24 297.87,850.18 298.15,850.2 299.13,850.73 300.11,851.31 301.09,851.84 301.37,851.38 301.65,851.36 302.63,851.71 302.91,852.59 303.19,852.64 303.47,853.1 303.75,852.89 304.03,852.82 304.31,852.97 305.29,852.81 305.57,852.64 306.55,853.79 306.83,854.02 307.11,853.55 307.39,854.49 307.67,854.09 307.95,853.42 308.23,853.35 308.51,853.1 308.9,853.47"/>
<g fill="#fff" stroke="#ec6150" stroke-width="1.5"><rect x="221.25" y="566.48" width="9.3" height="9.3"/><rect x="221.53" y="570.34" width="9.3" height="9.3"/><rect x="221.81" y="573.18" width="9.3" height="9.3"/><rect x="222.09" y="577.18" width="9.3" height="9.3"/><rect x="222.51" y="581.84" width="9.3" height="9.3"/><rect x="222.79" y="584.49" width="9.3" height="9.3"/><rect x="223.07" y="587.65" width="9.3" height="9.3"/><rect x="223.51" y="593.11" width="9.3" height="9.3"/><rect x="223.95" y="598.55" width="9.3" height="9.3"/><rect x="224.23" y="601.3" width="9.3" height="9.3"/><rect x="224.51" y="604.35" width="9.3" height="9.3"/><rect x="224.79" y="607.3" width="9.3" height="9.3"/><rect x="225.25" y="612.55" width="9.3" height="9.3"/><rect x="225.53" y="615.4" width="9.3" height="9.3"/><rect x="225.81" y="618.3" width="9.3" height="9.3"/><rect x="226.09" y="620.83" width="9.3" height="9.3"/><rect x="226.37" y="624.36" width="9.3" height="9.3"/><rect x="226.65" y="627.26" width="9.3" height="9.3"/><rect x="226.93" y="629.27" width="9.3" height="9.3"/><rect x="227.21" y="633.12" width="9.3" height="9.3"/><rect x="227.72" y="637.58" width="9.3" height="9.3"/><rect x="228" y="639.86" width="9.3" height="9.3"/><rect x="228.28" y="642.03" width="9.3" height="9.3"/><rect x="228.56" y="645.34" width="9.3" height="9.3"/><rect x="228.84" y="647.82" width="9.3" height="9.3"/><rect x="229.12" y="649.95" width="9.3" height="9.3"/><rect x="229.4" y="652.04" width="9.3" height="9.3"/><rect x="229.68" y="655.33" width="9.3" height="9.3"/><rect x="229.96" y="657.2" width="9.3" height="9.3"/><rect x="230.55" y="662.16" width="9.3" height="9.3"/><rect x="231.16" y="668.08" width="9.3" height="9.3"/><rect x="231.44" y="670.08" width="9.3" height="9.3"/><rect x="231.72" y="671.91" width="9.3" height="9.3"/><rect x="232" y="673.63" width="9.3" height="9.3"/><rect x="232.28" y="676.08" width="9.3" height="9.3"/><rect x="232.56" y="677.29" width="9.3" height="9.3"/><rect x="232.84" y="680.06" width="9.3" height="9.3"/><rect x="233.12" y="681.83" width="9.3" height="9.3"/><rect x="233.4" y="683.68" width="9.3" height="9.3"/><rect x="233.68" y="685.57" width="9.3" height="9.3"/><rect x="233.96" y="688.16" width="9.3" height="9.3"/><rect x="234.24" y="689.97" width="9.3" height="9.3"/><rect x="234.52" y="691.9" width="9.3" height="9.3"/><rect x="234.8" y="693.99" width="9.3" height="9.3"/><rect x="235.08" y="695.36" width="9.3" height="9.3"/><rect x="235.36" y="697.09" width="9.3" height="9.3"/><rect x="235.64" y="698.76" width="9.3" height="9.3"/><rect x="235.92" y="701" width="9.3" height="9.3"/><rect x="236.2" y="703.12" width="9.3" height="9.3"/><rect x="236.99" y="707.77" width="9.3" height="9.3"/><rect x="237.8" y="712.96" width="9.3" height="9.3"/><rect x="238.08" y="714.11" width="9.3" height="9.3"/><rect x="238.36" y="716.01" width="9.3" height="9.3"/><rect x="238.64" y="717.61" width="9.3" height="9.3"/><rect x="238.92" y="719.13" width="9.3" height="9.3"/><rect x="239.2" y="721.72" width="9.3" height="9.3"/><rect x="239.48" y="723.05" width="9.3" height="9.3"/><rect x="239.76" y="724.16" width="9.3" height="9.3"/><rect x="240.04" y="725.77" width="9.3" height="9.3"/><rect x="240.32" y="727.58" width="9.3" height="9.3"/><rect x="241.2" y="732.03" width="9.3" height="9.3"/><rect x="242.12" y="737.46" width="9.3" height="9.3"/><rect x="243.1" y="741.84" width="9.3" height="9.3"/><rect x="243.38" y="743.46" width="9.3" height="9.3"/><rect x="244.36" y="747.74" width="9.3" height="9.3"/><rect x="245.34" y="752.23" width="9.3" height="9.3"/><rect x="245.62" y="753.15" width="9.3" height="9.3"/><rect x="246.6" y="757.21" width="9.3" height="9.3"/><rect x="246.88" y="758.6" width="9.3" height="9.3"/><rect x="247.16" y="759.96" width="9.3" height="9.3"/><rect x="247.44" y="761.25" width="9.3" height="9.3"/><rect x="247.72" y="762.37" width="9.3" height="9.3"/><rect x="248" y="763.82" width="9.3" height="9.3"/><rect x="248.28" y="764.62" width="9.3" height="9.3"/><rect x="248.56" y="765.35" width="9.3" height="9.3"/><rect x="248.84" y="766.82" width="9.3" height="9.3"/><rect x="249.12" y="767.51" width="9.3" height="9.3"/><rect x="249.4" y="769.13" width="9.3" height="9.3"/><rect x="249.68" y="769.88" width="9.3" height="9.3"/><rect x="249.96" y="770.35" width="9.3" height="9.3"/><rect x="250.24" y="772.08" width="9.3" height="9.3"/><rect x="251.22" y="775.33" width="9.3" height="9.3"/><rect x="251.5" y="774.86" width="9.3" height="9.3"/><rect x="251.78" y="776.06" width="9.3" height="9.3"/><rect x="252.06" y="776.98" width="9.3" height="9.3"/><rect x="253.04" y="779.49" width="9.3" height="9.3"/><rect x="253.32" y="780.65" width="9.3" height="9.3"/><rect x="254.3" y="783.82" width="9.3" height="9.3"/><rect x="254.58" y="785.28" width="9.3" height="9.3"/><rect x="255.56" y="787.85" width="9.3" height="9.3"/><rect x="256.54" y="790.89" width="9.3" height="9.3"/><rect x="256.82" y="790.49" width="9.3" height="9.3"/><rect x="257.1" y="791.68" width="9.3" height="9.3"/><rect x="257.38" y="792.22" width="9.3" height="9.3"/><rect x="258.36" y="794.94" width="9.3" height="9.3"/><rect x="258.64" y="795.27" width="9.3" height="9.3"/><rect x="258.92" y="795.74" width="9.3" height="9.3"/><rect x="259.2" y="796.81" width="9.3" height="9.3"/><rect x="260.18" y="799.68" width="9.3" height="9.3"/><rect x="261.16" y="802.28" width="9.3" height="9.3"/><rect x="261.44" y="802.57" width="9.3" height="9.3"/><rect x="261.72" y="803.04" width="9.3" height="9.3"/><rect x="262" y="803.29" width="9.3" height="9.3"/><rect x="262.28" y="804.79" width="9.3" height="9.3"/><rect x="262.56" y="805.42" width="9.3" height="9.3"/><rect x="262.84" y="805.42" width="9.3" height="9.3"/><rect x="263.12" y="806.04" width="9.3" height="9.3"/><rect x="264.1" y="807.47" width="9.3" height="9.3"/><rect x="264.38" y="808.52" width="9.3" height="9.3"/><rect x="264.66" y="808.72" width="9.3" height="9.3"/><rect x="264.94" y="809.2" width="9.3" height="9.3"/><rect x="265.92" y="811.12" width="9.3" height="9.3"/><rect x="266.9" y="812.95" width="9.3" height="9.3"/><rect x="267.18" y="813.36" width="9.3" height="9.3"/><rect x="267.46" y="813.57" width="9.3" height="9.3"/><rect x="267.74" y="814.07" width="9.3" height="9.3"/><rect x="268.02" y="814.59" width="9.3" height="9.3"/><rect x="268.3" y="815.81" width="9.3" height="9.3"/><rect x="269.28" y="818.01" width="9.3" height="9.3"/><rect x="269.56" y="817.29" width="9.3" height="9.3"/><rect x="269.84" y="818.41" width="9.3" height="9.3"/><rect x="270.82" y="820.18" width="9.3" height="9.3"/><rect x="271.1" y="820.23" width="9.3" height="9.3"/><rect x="271.38" y="821.01" width="9.3" height="9.3"/><rect x="271.66" y="820.84" width="9.3" height="9.3"/><rect x="271.94" y="821.84" width="9.3" height="9.3"/><rect x="272.22" y="821.83" width="9.3" height="9.3"/><rect x="272.5" y="822.53" width="9.3" height="9.3"/><rect x="272.78" y="822.99" width="9.3" height="9.3"/><rect x="273.06" y="823.03" width="9.3" height="9.3"/><rect x="273.34" y="823.19" width="9.3" height="9.3"/><rect x="273.62" y="824.04" width="9.3" height="9.3"/><rect x="273.9" y="824.57" width="9.3" height="9.3"/><rect x="274.18" y="824.54" width="9.3" height="9.3"/><rect x="275.16" y="826.17" width="9.3" height="9.3"/><rect x="275.44" y="826.3" width="9.3" height="9.3"/><rect x="275.72" y="826.97" width="9.3" height="9.3"/><rect x="276" y="827.36" width="9.3" height="9.3"/><rect x="276.98" y="828.35" width="9.3" height="9.3"/><rect x="277.26" y="829.45" width="9.3" height="9.3"/><rect x="277.54" y="829.42" width="9.3" height="9.3"/><rect x="278.52" y="830.55" width="9.3" height="9.3"/><rect x="279.5" y="831.6" width="9.3" height="9.3"/><rect x="279.78" y="832.67" width="9.3" height="9.3"/><rect x="280.06" y="832.49" width="9.3" height="9.3"/><rect x="280.34" y="833.03" width="9.3" height="9.3"/><rect x="280.62" y="833.07" width="9.3" height="9.3"/><rect x="280.9" y="833.92" width="9.3" height="9.3"/><rect x="281.18" y="834.46" width="9.3" height="9.3"/><rect x="282.16" y="835.07" width="9.3" height="9.3"/><rect x="282.44" y="835.35" width="9.3" height="9.3"/><rect x="282.72" y="835.96" width="9.3" height="9.3"/><rect x="283" y="835.6" width="9.3" height="9.3"/><rect x="283.28" y="836.72" width="9.3" height="9.3"/><rect x="283.56" y="837.13" width="9.3" height="9.3"/><rect x="283.84" y="837.56" width="9.3" height="9.3"/><rect x="284.82" y="838.28" width="9.3" height="9.3"/><rect x="285.1" y="838.47" width="9.3" height="9.3"/><rect x="285.38" y="838.25" width="9.3" height="9.3"/><rect x="285.66" y="838.89" width="9.3" height="9.3"/><rect x="285.94" y="839.09" width="9.3" height="9.3"/><rect x="286.22" y="840" width="9.3" height="9.3"/><rect x="286.5" y="840.29" width="9.3" height="9.3"/><rect x="287.48" y="841.31" width="9.3" height="9.3"/><rect x="287.76" y="841.72" width="9.3" height="9.3"/><rect x="288.04" y="841.21" width="9.3" height="9.3"/><rect x="288.32" y="842.12" width="9.3" height="9.3"/><rect x="288.6" y="841.5" width="9.3" height="9.3"/><rect x="288.88" y="841.72" width="9.3" height="9.3"/><rect x="289.16" y="842.62" width="9.3" height="9.3"/><rect x="289.44" y="843.12" width="9.3" height="9.3"/><rect x="289.72" y="843.67" width="9.3" height="9.3"/><rect x="290" y="843.17" width="9.3" height="9.3"/><rect x="290.28" y="843.45" width="9.3" height="9.3"/><rect x="290.56" y="843.47" width="9.3" height="9.3"/><rect x="290.84" y="844.01" width="9.3" height="9.3"/><rect x="291.82" y="844.39" width="9.3" height="9.3"/><rect x="292.1" y="844.79" width="9.3" height="9.3"/><rect x="292.38" y="844.26" width="9.3" height="9.3"/><rect x="292.66" y="844.42" width="9.3" height="9.3"/><rect x="292.94" y="844.59" width="9.3" height="9.3"/><rect x="293.22" y="845.53" width="9.3" height="9.3"/><rect x="293.5" y="845.55" width="9.3" height="9.3"/><rect x="294.48" y="846.08" width="9.3" height="9.3"/><rect x="295.46" y="846.66" width="9.3" height="9.3"/><rect x="296.44" y="847.19" width="9.3" height="9.3"/><rect x="296.72" y="846.73" width="9.3" height="9.3"/><rect x="297" y="846.71" width="9.3" height="9.3"/><rect x="297.98" y="847.06" width="9.3" height="9.3"/><rect x="298.26" y="847.94" width="9.3" height="9.3"/><rect x="298.54" y="847.99" width="9.3" height="9.3"/><rect x="298.82" y="848.45" width="9.3" height="9.3"/><rect x="299.1" y="848.24" width="9.3" height="9.3"/><rect x="299.38" y="848.17" width="9.3" height="9.3"/><rect x="299.66" y="848.32" width="9.3" height="9.3"/><rect x="300.64" y="848.16" width="9.3" height="9.3"/><rect x="300.92" y="847.99" width="9.3" height="9.3"/><rect x="301.9" y="849.14" width="9.3" height="9.3"/><rect x="302.18" y="849.37" width="9.3" height="9.3"/><rect x="302.46" y="848.9" width="9.3" height="9.3"/><rect x="302.74" y="849.84" width="9.3" height="9.3"/><rect x="303.02" y="849.44" width="9.3" height="9.3"/><rect x="303.3" y="848.77" width="9.3" height="9.3"/><rect x="303.58" y="848.7" width="9.3" height="9.3"/><rect x="303.86" y="848.45" width="9.3" height="9.3"/><rect x="304.25" y="848.82" width="9.3" height="9.3"/></g>
<polyline fill="none" stroke="#84ce7d" stroke-width="1.4" stroke-linejoin="round" points="310.2,840.3 310.57,829.9 310.95,822 311.32,810.6 311.69,801.9 312.07,796.6 312.44,790.5 312.81,785.3 313.18,780 313.56,775.7 313.93,770.4 314.3,765.2 314.68,760.8 315.05,755.6 315.42,751.2 315.8,746.8 316.17,742.4 316.54,737.2 316.92,732 317.29,727.6 317.66,722.3 318.03,718 318.41,712.7 318.78,707.5 319.15,702.2 319.53,697 319.9,691.7 320.31,687.46 320.59,683.96 320.87,681.34 321.15,677.96 321.69,673.43 321.97,671.66 322.25,670.05 323.07,665.01 323.35,663.79 324.27,658.37 324.55,657.16 324.83,654.78 325.11,653.59 325.39,651.39 325.67,649.6 325.95,648.01 326.23,646.21 326.51,644.98 326.79,643.62 327.07,641.72 327.92,636.9 328.2,635.63 328.48,633.7 328.76,632.21 329.04,630.67 329.32,628.96 329.6,628.4 329.88,626.42 330.86,623.1 331.14,621.81 331.42,621.08 332.4,617.11 332.68,615.89 332.96,615.24 333.24,613.97 333.52,613.09 333.8,612.15 334.08,611.1 334.36,610.09 334.64,608.91 334.92,608.13 335.2,606.59 335.48,606.25 335.76,605.02 336.04,604.83 336.32,604.02 336.6,602.23 337.58,600.31 337.86,599.61 338.14,598.72 338.42,598.61 339.4,596.4 339.68,595.49 339.96,595.45 340.24,595 340.52,594.61 340.8,593.76 341.08,593.88 341.36,593.49 342.34,591.52 343.32,590.4 343.6,590.23 343.88,589.76 344.16,590.13 344.44,589.35 344.72,588.68 345,588.45 345.98,587.68 346.26,588.11 346.54,587.1 346.82,586.93 347.1,586.78 347.38,586.36 347.66,586.8 348.64,585.07 348.92,585.2 349.9,584.14 350.88,583.38 351.16,582.58 351.44,583.21 352.42,581.75 352.7,581.55 352.98,581.01 353.26,580.82 353.54,580.96 353.82,580.84 354.1,580.52 354.38,580.41 354.66,580.02 355.64,578.98 355.92,578.98 356.2,578.68 356.48,578.23 356.76,578.25 357.04,578.19 357.32,577.65 357.6,577.24 358.58,576.79 358.86,576.93 359.84,575.55 360.12,575.38 360.4,575.16 360.68,575.36 360.96,574.23 361.94,574.16 362.22,574.19 362.5,573.38 362.78,573.86 363.06,573.37 363.34,572.84 363.62,572.86 363.9,572.13 364.18,572.22 364.46,572.73 364.74,571.72 365.72,571.87 366,571.1 366.28,571.25 366.56,570.78 366.84,569.92 367.12,570.26 367.4,570.32 367.68,569.76 367.96,569.55 368.24,569.91 368.52,569.46 368.8,569.01 369.08,569.18 369.36,569.52 369.64,569 369.92,569.31 370.2,569.38 370.48,568.83 371.46,568.13 371.74,567.99 372.02,568.28 372.3,568.46 373.28,567.97 374.26,567.78 374.54,567.4 374.82,567.55 375.1,567.25 375.38,567.22 376.36,566.69 376.64,566.54 376.92,566.8 377.9,566.39 378.18,566.38 378.46,566.81 378.74,566.52 379.02,567.37 379.3,566.71 380.28,566.06 380.56,566.43 380.84,566.25 381.12,565.88 381.4,566.36 382.38,565.62 382.66,564.89 382.94,565.99 383.92,565.4 384.2,565.98 385.18,565.18 385.46,564.97 385.74,565.75 386.02,564.92 387,565.16 387.98,565.39 388.26,564.96 388.54,564.86 388.82,564.88 389.1,565.07 389.38,564.54 389.66,564.93 389.94,564.89 390.22,565.39 390.5,564.56 390.78,564.35 391.06,564.82 391.34,564.46 391.62,564.64 392.2,564.54"/>
<g fill="#fff" stroke="#84ce7d" stroke-width="1.5"><rect x="305.55" y="835.65" width="9.3" height="9.3"/><rect x="305.92" y="825.25" width="9.3" height="9.3"/><rect x="306.3" y="817.35" width="9.3" height="9.3"/><rect x="306.67" y="805.95" width="9.3" height="9.3"/><rect x="307.04" y="797.25" width="9.3" height="9.3"/><rect x="307.42" y="791.95" width="9.3" height="9.3"/><rect x="307.79" y="785.85" width="9.3" height="9.3"/><rect x="308.16" y="780.65" width="9.3" height="9.3"/><rect x="308.53" y="775.35" width="9.3" height="9.3"/><rect x="308.91" y="771.05" width="9.3" height="9.3"/><rect x="309.28" y="765.75" width="9.3" height="9.3"/><rect x="309.65" y="760.55" width="9.3" height="9.3"/><rect x="310.03" y="756.15" width="9.3" height="9.3"/><rect x="310.4" y="750.95" width="9.3" height="9.3"/><rect x="310.77" y="746.55" width="9.3" height="9.3"/><rect x="311.15" y="742.15" width="9.3" height="9.3"/><rect x="311.52" y="737.75" width="9.3" height="9.3"/><rect x="311.89" y="732.55" width="9.3" height="9.3"/><rect x="312.27" y="727.35" width="9.3" height="9.3"/><rect x="312.64" y="722.95" width="9.3" height="9.3"/><rect x="313.01" y="717.65" width="9.3" height="9.3"/><rect x="313.38" y="713.35" width="9.3" height="9.3"/><rect x="313.76" y="708.05" width="9.3" height="9.3"/><rect x="314.13" y="702.85" width="9.3" height="9.3"/><rect x="314.5" y="697.55" width="9.3" height="9.3"/><rect x="314.88" y="692.35" width="9.3" height="9.3"/><rect x="315.25" y="687.05" width="9.3" height="9.3"/><rect x="315.66" y="682.81" width="9.3" height="9.3"/><rect x="315.94" y="679.31" width="9.3" height="9.3"/><rect x="316.22" y="676.69" width="9.3" height="9.3"/><rect x="316.5" y="673.31" width="9.3" height="9.3"/><rect x="317.04" y="668.78" width="9.3" height="9.3"/><rect x="317.32" y="667.01" width="9.3" height="9.3"/><rect x="317.6" y="665.4" width="9.3" height="9.3"/><rect x="318.42" y="660.36" width="9.3" height="9.3"/><rect x="318.7" y="659.14" width="9.3" height="9.3"/><rect x="319.62" y="653.72" width="9.3" height="9.3"/><rect x="319.9" y="652.51" width="9.3" height="9.3"/><rect x="320.18" y="650.13" width="9.3" height="9.3"/><rect x="320.46" y="648.94" width="9.3" height="9.3"/><rect x="320.74" y="646.74" width="9.3" height="9.3"/><rect x="321.02" y="644.95" width="9.3" height="9.3"/><rect x="321.3" y="643.36" width="9.3" height="9.3"/><rect x="321.58" y="641.56" width="9.3" height="9.3"/><rect x="321.86" y="640.33" width="9.3" height="9.3"/><rect x="322.14" y="638.97" width="9.3" height="9.3"/><rect x="322.42" y="637.07" width="9.3" height="9.3"/><rect x="323.27" y="632.25" width="9.3" height="9.3"/><rect x="323.55" y="630.98" width="9.3" height="9.3"/><rect x="323.83" y="629.05" width="9.3" height="9.3"/><rect x="324.11" y="627.56" width="9.3" height="9.3"/><rect x="324.39" y="626.02" width="9.3" height="9.3"/><rect x="324.67" y="624.31" width="9.3" height="9.3"/><rect x="324.95" y="623.75" width="9.3" height="9.3"/><rect x="325.23" y="621.77" width="9.3" height="9.3"/><rect x="326.21" y="618.45" width="9.3" height="9.3"/><rect x="326.49" y="617.16" width="9.3" height="9.3"/><rect x="326.77" y="616.43" width="9.3" height="9.3"/><rect x="327.75" y="612.46" width="9.3" height="9.3"/><rect x="328.03" y="611.24" width="9.3" height="9.3"/><rect x="328.31" y="610.59" width="9.3" height="9.3"/><rect x="328.59" y="609.32" width="9.3" height="9.3"/><rect x="328.87" y="608.44" width="9.3" height="9.3"/><rect x="329.15" y="607.5" width="9.3" height="9.3"/><rect x="329.43" y="606.45" width="9.3" height="9.3"/><rect x="329.71" y="605.44" width="9.3" height="9.3"/><rect x="329.99" y="604.26" width="9.3" height="9.3"/><rect x="330.27" y="603.48" width="9.3" height="9.3"/><rect x="330.55" y="601.94" width="9.3" height="9.3"/><rect x="330.83" y="601.6" width="9.3" height="9.3"/><rect x="331.11" y="600.37" width="9.3" height="9.3"/><rect x="331.39" y="600.18" width="9.3" height="9.3"/><rect x="331.67" y="599.37" width="9.3" height="9.3"/><rect x="331.95" y="597.58" width="9.3" height="9.3"/><rect x="332.93" y="595.66" width="9.3" height="9.3"/><rect x="333.21" y="594.96" width="9.3" height="9.3"/><rect x="333.49" y="594.07" width="9.3" height="9.3"/><rect x="333.77" y="593.96" width="9.3" height="9.3"/><rect x="334.75" y="591.75" width="9.3" height="9.3"/><rect x="335.03" y="590.84" width="9.3" height="9.3"/><rect x="335.31" y="590.8" width="9.3" height="9.3"/><rect x="335.59" y="590.35" width="9.3" height="9.3"/><rect x="335.87" y="589.96" width="9.3" height="9.3"/><rect x="336.15" y="589.11" width="9.3" height="9.3"/><rect x="336.43" y="589.23" width="9.3" height="9.3"/><rect x="336.71" y="588.84" width="9.3" height="9.3"/><rect x="337.69" y="586.87" width="9.3" height="9.3"/><rect x="338.67" y="585.75" width="9.3" height="9.3"/><rect x="338.95" y="585.58" width="9.3" height="9.3"/><rect x="339.23" y="585.11" width="9.3" height="9.3"/><rect x="339.51" y="585.48" width="9.3" height="9.3"/><rect x="339.79" y="584.7" width="9.3" height="9.3"/><rect x="340.07" y="584.03" width="9.3" height="9.3"/><rect x="340.35" y="583.8" width="9.3" height="9.3"/><rect x="341.33" y="583.03" width="9.3" height="9.3"/><rect x="341.61" y="583.46" width="9.3" height="9.3"/><rect x="341.89" y="582.45" width="9.3" height="9.3"/><rect x="342.17" y="582.28" width="9.3" height="9.3"/><rect x="342.45" y="582.13" width="9.3" height="9.3"/><rect x="342.73" y="581.71" width="9.3" height="9.3"/><rect x="343.01" y="582.15" width="9.3" height="9.3"/><rect x="343.99" y="580.42" width="9.3" height="9.3"/><rect x="344.27" y="580.55" width="9.3" height="9.3"/><rect x="345.25" y="579.49" width="9.3" height="9.3"/><rect x="346.23" y="578.73" width="9.3" height="9.3"/><rect x="346.51" y="577.93" width="9.3" height="9.3"/><rect x="346.79" y="578.56" width="9.3" height="9.3"/><rect x="347.77" y="577.1" width="9.3" height="9.3"/><rect x="348.05" y="576.9" width="9.3" height="9.3"/><rect x="348.33" y="576.36" width="9.3" height="9.3"/><rect x="348.61" y="576.17" width="9.3" height="9.3"/><rect x="348.89" y="576.31" width="9.3" height="9.3"/><rect x="349.17" y="576.19" width="9.3" height="9.3"/><rect x="349.45" y="575.87" width="9.3" height="9.3"/><rect x="349.73" y="575.76" width="9.3" height="9.3"/><rect x="350.01" y="575.37" width="9.3" height="9.3"/><rect x="350.99" y="574.33" width="9.3" height="9.3"/><rect x="351.27" y="574.33" width="9.3" height="9.3"/><rect x="351.55" y="574.03" width="9.3" height="9.3"/><rect x="351.83" y="573.58" width="9.3" height="9.3"/><rect x="352.11" y="573.6" width="9.3" height="9.3"/><rect x="352.39" y="573.54" width="9.3" height="9.3"/><rect x="352.67" y="573" width="9.3" height="9.3"/><rect x="352.95" y="572.59" width="9.3" height="9.3"/><rect x="353.93" y="572.14" width="9.3" height="9.3"/><rect x="354.21" y="572.28" width="9.3" height="9.3"/><rect x="355.19" y="570.9" width="9.3" height="9.3"/><rect x="355.47" y="570.73" width="9.3" height="9.3"/><rect x="355.75" y="570.51" width="9.3" height="9.3"/><rect x="356.03" y="570.71" width="9.3" height="9.3"/><rect x="356.31" y="569.58" width="9.3" height="9.3"/><rect x="357.29" y="569.51" width="9.3" height="9.3"/><rect x="357.57" y="569.54" width="9.3" height="9.3"/><rect x="357.85" y="568.73" width="9.3" height="9.3"/><rect x="358.13" y="569.21" width="9.3" height="9.3"/><rect x="358.41" y="568.72" width="9.3" height="9.3"/><rect x="358.69" y="568.19" width="9.3" height="9.3"/><rect x="358.97" y="568.21" width="9.3" height="9.3"/><rect x="359.25" y="567.48" width="9.3" height="9.3"/><rect x="359.53" y="567.57" width="9.3" height="9.3"/><rect x="359.81" y="568.08" width="9.3" height="9.3"/><rect x="360.09" y="567.07" width="9.3" height="9.3"/><rect x="361.07" y="567.22" width="9.3" height="9.3"/><rect x="361.35" y="566.45" width="9.3" height="9.3"/><rect x="361.63" y="566.6" width="9.3" height="9.3"/><rect x="361.91" y="566.13" width="9.3" height="9.3"/><rect x="362.19" y="565.27" width="9.3" height="9.3"/><rect x="362.47" y="565.61" width="9.3" height="9.3"/><rect x="362.75" y="565.67" width="9.3" height="9.3"/><rect x="363.03" y="565.11" width="9.3" height="9.3"/><rect x="363.31" y="564.9" width="9.3" height="9.3"/><rect x="363.59" y="565.26" width="9.3" height="9.3"/><rect x="363.87" y="564.81" width="9.3" height="9.3"/><rect x="364.15" y="564.36" width="9.3" height="9.3"/><rect x="364.43" y="564.53" width="9.3" height="9.3"/><rect x="364.71" y="564.87" width="9.3" height="9.3"/><rect x="364.99" y="564.35" width="9.3" height="9.3"/><rect x="365.27" y="564.66" width="9.3" height="9.3"/><rect x="365.55" y="564.73" width="9.3" height="9.3"/><rect x="365.83" y="564.18" width="9.3" height="9.3"/><rect x="366.81" y="563.48" width="9.3" height="9.3"/><rect x="367.09" y="563.34" width="9.3" height="9.3"/><rect x="367.37" y="563.63" width="9.3" height="9.3"/><rect x="367.65" y="563.81" width="9.3" height="9.3"/><rect x="368.63" y="563.32" width="9.3" height="9.3"/><rect x="369.61" y="563.13" width="9.3" height="9.3"/><rect x="369.89" y="562.75" width="9.3" height="9.3"/><rect x="370.17" y="562.9" width="9.3" height="9.3"/><rect x="370.45" y="562.6" width="9.3" height="9.3"/><rect x="370.73" y="562.57" width="9.3" height="9.3"/><rect x="371.71" y="562.04" width="9.3" height="9.3"/><rect x="371.99" y="561.89" width="9.3" height="9.3"/><rect x="372.27" y="562.15" width="9.3" height="9.3"/><rect x="373.25" y="561.74" width="9.3" height="9.3"/><rect x="373.53" y="561.73" width="9.3" height="9.3"/><rect x="373.81" y="562.16" width="9.3" height="9.3"/><rect x="374.09" y="561.87" width="9.3" height="9.3"/><rect x="374.37" y="562.72" width="9.3" height="9.3"/><rect x="374.65" y="562.06" width="9.3" height="9.3"/><rect x="375.63" y="561.41" width="9.3" height="9.3"/><rect x="375.91" y="561.78" width="9.3" height="9.3"/><rect x="376.19" y="561.6" width="9.3" height="9.3"/><rect x="376.47" y="561.23" width="9.3" height="9.3"/><rect x="376.75" y="561.71" width="9.3" height="9.3"/><rect x="377.73" y="560.97" width="9.3" height="9.3"/><rect x="378.01" y="560.24" width="9.3" height="9.3"/><rect x="378.29" y="561.34" width="9.3" height="9.3"/><rect x="379.27" y="560.75" width="9.3" height="9.3"/><rect x="379.55" y="561.33" width="9.3" height="9.3"/><rect x="380.53" y="560.53" width="9.3" height="9.3"/><rect x="380.81" y="560.32" width="9.3" height="9.3"/><rect x="381.09" y="561.1" width="9.3" height="9.3"/><rect x="381.37" y="560.27" width="9.3" height="9.3"/><rect x="382.35" y="560.51" width="9.3" height="9.3"/><rect x="383.33" y="560.74" width="9.3" height="9.3"/><rect x="383.61" y="560.31" width="9.3" height="9.3"/><rect x="383.89" y="560.21" width="9.3" height="9.3"/><rect x="384.17" y="560.23" width="9.3" height="9.3"/><rect x="384.45" y="560.42" width="9.3" height="9.3"/><rect x="384.73" y="559.89" width="9.3" height="9.3"/><rect x="385.01" y="560.28" width="9.3" height="9.3"/><rect x="385.29" y="560.24" width="9.3" height="9.3"/><rect x="385.57" y="560.74" width="9.3" height="9.3"/><rect x="385.85" y="559.91" width="9.3" height="9.3"/><rect x="386.13" y="559.7" width="9.3" height="9.3"/><rect x="386.41" y="560.17" width="9.3" height="9.3"/><rect x="386.69" y="559.81" width="9.3" height="9.3"/><rect x="386.97" y="559.99" width="9.3" height="9.3"/><rect x="387.55" y="559.89" width="9.3" height="9.3"/></g>
<polyline fill="none" stroke="#ec6150" stroke-width="1.4" stroke-linejoin="round" points="392.9,564 394.2,578.8 394.47,583.75 394.74,588.69 395.02,593.59 395.31,598.49 395.59,603.01 395.87,607.29 396.15,611.31 396.51,616.06 396.79,619.46 397.07,622.7 397.35,625.79 397.63,628.75 397.91,631.58 398.19,634.32 398.47,636.97 398.75,639.54 399.03,642.06 399.31,644.54 399.88,649.5 400.16,651.9 400.44,654.23 400.72,656.51 401,658.74 401.64,663.64 401.92,665.75 402.2,667.83 402.48,669.9 402.76,671.95 403.04,674 403.32,676.04 403.6,678.09 403.88,680.14 404.16,682.21 404.44,684.3 404.72,686.41 405,688.52 405.28,690.64 405.56,692.76 405.84,694.88 406.12,696.98 406.4,699.06 406.68,701.12 407.36,706.01 407.64,707.93 407.92,709.81 408.68,714.58 408.96,716.23 409.24,717.85 409.52,719.44 409.8,721 410.08,722.54 411,727.41 411.28,728.84 411.56,730.26 411.84,731.65 412.12,733.03 412.4,734.38 412.68,735.72 412.96,737.04 413.24,738.35 413.52,739.64 413.8,740.92 414.08,742.19 414.36,743.44 414.64,744.69 414.92,745.93 415.9,750.2 416.18,751.41 416.46,752.61 416.74,753.81 417.02,755 418,759.11 418.28,760.26 418.56,761.4 418.84,762.54 419.12,763.66 420.1,767.5 420.38,768.56 420.66,769.62 420.94,770.66 421.92,774.17 422.2,775.13 422.48,776.08 422.76,777.01 423.04,777.92 423.32,778.81 423.6,779.68 423.88,780.53 424.86,783.43 425.14,784.24 426.12,787.02 426.4,787.8 426.68,788.58 427.66,791.23 427.94,791.97 428.22,792.7 428.5,793.43 428.78,794.15 429.06,794.86 429.34,795.57 430.32,797.99 431.3,800.32 431.58,800.98 431.86,801.62 432.14,802.26 432.42,802.89 432.7,803.51 432.98,804.13 433.96,806.23 434.24,806.82 434.52,807.4 434.8,807.97 435.08,808.54 435.36,809.1 435.64,809.65 435.92,810.19 436.9,812.05 437.18,812.56 437.46,813.07 437.74,813.57 438.02,814.06 438.3,814.55 438.58,815.04 438.86,815.52 439.14,815.99 439.42,816.46 439.7,816.93 439.98,817.39 440.26,817.85 441.24,819.42 441.52,819.86 441.8,820.3 442.08,820.73 442.36,821.15 442.64,821.58 442.92,822 443.9,823.44 444.18,823.84 445.16,825.23 445.44,825.62 445.72,826.01 446,826.39 446.28,826.77 446.56,827.15 446.84,827.52 447.12,827.9 447.4,828.27 447.68,828.63 447.96,829 448.24,829.36 448.52,829.72 448.8,830.07 449.08,830.43 449.36,830.78 449.64,831.13 450.62,832.34 450.9,832.69 451.18,833.02 451.46,833.36 451.74,833.7 452.02,834.03 452.3,834.37 452.58,834.7 452.86,835.03 453.14,835.36 453.42,835.69 453.7,836.02 453.98,836.34 454.26,836.67 454.54,836.99 454.82,837.31 455.1,837.64 455.38,837.96 455.66,838.28 456.64,839.38 456.92,839.7 457.9,840.78 458.18,841.09 458.46,841.39 458.74,841.69 459.02,842 460,843.03 460.28,843.32 461.26,844.32 461.54,844.6 461.82,844.88 462.1,845.15 463.08,846.09 464.06,847 464.34,847.25 464.62,847.5 465.6,848.34 465.88,848.57 466.16,848.8 466.44,849.03 467.42,849.79 467.7,850 467.98,850.21 468.26,850.41 468.54,850.62 468.82,850.82 469.1,851.02 469.38,851.22 469.66,851.42 469.94,851.61 470.22,851.8 470.5,851.99 470.78,852.18 471.06,852.36 471.34,852.55 472.32,853.17 472.6,853.34 472.88,853.51 473.16,853.67 473.44,853.84 473.72,854 474.7,854.54 474.98,854.69 475.26,854.84 475.54,854.98 475.82,855.12 476.1,855.26 476.38,855.4 476.6,855.5"/>
<g fill="#fff" stroke="#ec6150" stroke-width="1.5"><rect x="388.25" y="559.35" width="9.3" height="9.3"/><rect x="389.55" y="574.15" width="9.3" height="9.3"/><rect x="389.82" y="579.1" width="9.3" height="9.3"/><rect x="390.09" y="584.04" width="9.3" height="9.3"/><rect x="390.37" y="588.94" width="9.3" height="9.3"/><rect x="390.66" y="593.84" width="9.3" height="9.3"/><rect x="390.94" y="598.36" width="9.3" height="9.3"/><rect x="391.22" y="602.64" width="9.3" height="9.3"/><rect x="391.5" y="606.66" width="9.3" height="9.3"/><rect x="391.86" y="611.41" width="9.3" height="9.3"/><rect x="392.14" y="614.81" width="9.3" height="9.3"/><rect x="392.42" y="618.05" width="9.3" height="9.3"/><rect x="392.7" y="621.14" width="9.3" height="9.3"/><rect x="392.98" y="624.1" width="9.3" height="9.3"/><rect x="393.26" y="626.93" width="9.3" height="9.3"/><rect x="393.54" y="629.67" width="9.3" height="9.3"/><rect x="393.82" y="632.32" width="9.3" height="9.3"/><rect x="394.1" y="634.89" width="9.3" height="9.3"/><rect x="394.38" y="637.41" width="9.3" height="9.3"/><rect x="394.66" y="639.89" width="9.3" height="9.3"/><rect x="395.23" y="644.85" width="9.3" height="9.3"/><rect x="395.51" y="647.25" width="9.3" height="9.3"/><rect x="395.79" y="649.58" width="9.3" height="9.3"/><rect x="396.07" y="651.86" width="9.3" height="9.3"/><rect x="396.35" y="654.09" width="9.3" height="9.3"/><rect x="396.99" y="658.99" width="9.3" height="9.3"/><rect x="397.27" y="661.1" width="9.3" height="9.3"/><rect x="397.55" y="663.18" width="9.3" height="9.3"/><rect x="397.83" y="665.25" width="9.3" height="9.3"/><rect x="398.11" y="667.3" width="9.3" height="9.3"/><rect x="398.39" y="669.35" width="9.3" height="9.3"/><rect x="398.67" y="671.39" width="9.3" height="9.3"/><rect x="398.95" y="673.44" width="9.3" height="9.3"/><rect x="399.23" y="675.49" width="9.3" height="9.3"/><rect x="399.51" y="677.56" width="9.3" height="9.3"/><rect x="399.79" y="679.65" width="9.3" height="9.3"/><rect x="400.07" y="681.76" width="9.3" height="9.3"/><rect x="400.35" y="683.87" width="9.3" height="9.3"/><rect x="400.63" y="685.99" width="9.3" height="9.3"/><rect x="400.91" y="688.11" width="9.3" height="9.3"/><rect x="401.19" y="690.23" width="9.3" height="9.3"/><rect x="401.47" y="692.33" width="9.3" height="9.3"/><rect x="401.75" y="694.41" width="9.3" height="9.3"/><rect x="402.03" y="696.47" width="9.3" height="9.3"/><rect x="402.71" y="701.36" width="9.3" height="9.3"/><rect x="402.99" y="703.28" width="9.3" height="9.3"/><rect x="403.27" y="705.16" width="9.3" height="9.3"/><rect x="404.03" y="709.93" width="9.3" height="9.3"/><rect x="404.31" y="711.58" width="9.3" height="9.3"/><rect x="404.59" y="713.2" width="9.3" height="9.3"/><rect x="404.87" y="714.79" width="9.3" height="9.3"/><rect x="405.15" y="716.35" width="9.3" height="9.3"/><rect x="405.43" y="717.89" width="9.3" height="9.3"/><rect x="406.35" y="722.76" width="9.3" height="9.3"/><rect x="406.63" y="724.19" width="9.3" height="9.3"/><rect x="406.91" y="725.61" width="9.3" height="9.3"/><rect x="407.19" y="727" width="9.3" height="9.3"/><rect x="407.47" y="728.38" width="9.3" height="9.3"/><rect x="407.75" y="729.73" width="9.3" height="9.3"/><rect x="408.03" y="731.07" width="9.3" height="9.3"/><rect x="408.31" y="732.39" width="9.3" height="9.3"/><rect x="408.59" y="733.7" width="9.3" height="9.3"/><rect x="408.87" y="734.99" width="9.3" height="9.3"/><rect x="409.15" y="736.27" width="9.3" height="9.3"/><rect x="409.43" y="737.54" width="9.3" height="9.3"/><rect x="409.71" y="738.79" width="9.3" height="9.3"/><rect x="409.99" y="740.04" width="9.3" height="9.3"/><rect x="410.27" y="741.28" width="9.3" height="9.3"/><rect x="411.25" y="745.55" width="9.3" height="9.3"/><rect x="411.53" y="746.76" width="9.3" height="9.3"/><rect x="411.81" y="747.96" width="9.3" height="9.3"/><rect x="412.09" y="749.16" width="9.3" height="9.3"/><rect x="412.37" y="750.35" width="9.3" height="9.3"/><rect x="413.35" y="754.46" width="9.3" height="9.3"/><rect x="413.63" y="755.61" width="9.3" height="9.3"/><rect x="413.91" y="756.75" width="9.3" height="9.3"/><rect x="414.19" y="757.89" width="9.3" height="9.3"/><rect x="414.47" y="759.01" width="9.3" height="9.3"/><rect x="415.45" y="762.85" width="9.3" height="9.3"/><rect x="415.73" y="763.91" width="9.3" height="9.3"/><rect x="416.01" y="764.97" width="9.3" height="9.3"/><rect x="416.29" y="766.01" width="9.3" height="9.3"/><rect x="417.27" y="769.52" width="9.3" height="9.3"/><rect x="417.55" y="770.48" width="9.3" height="9.3"/><rect x="417.83" y="771.43" width="9.3" height="9.3"/><rect x="418.11" y="772.36" width="9.3" height="9.3"/><rect x="418.39" y="773.27" width="9.3" height="9.3"/><rect x="418.67" y="774.16" width="9.3" height="9.3"/><rect x="418.95" y="775.03" width="9.3" height="9.3"/><rect x="419.23" y="775.88" width="9.3" height="9.3"/><rect x="420.21" y="778.78" width="9.3" height="9.3"/><rect x="420.49" y="779.59" width="9.3" height="9.3"/><rect x="421.47" y="782.37" width="9.3" height="9.3"/><rect x="421.75" y="783.15" width="9.3" height="9.3"/><rect x="422.03" y="783.93" width="9.3" height="9.3"/><rect x="423.01" y="786.58" width="9.3" height="9.3"/><rect x="423.29" y="787.32" width="9.3" height="9.3"/><rect x="423.57" y="788.05" width="9.3" height="9.3"/><rect x="423.85" y="788.78" width="9.3" height="9.3"/><rect x="424.13" y="789.5" width="9.3" height="9.3"/><rect x="424.41" y="790.21" width="9.3" height="9.3"/><rect x="424.69" y="790.92" width="9.3" height="9.3"/><rect x="425.67" y="793.34" width="9.3" height="9.3"/><rect x="426.65" y="795.67" width="9.3" height="9.3"/><rect x="426.93" y="796.33" width="9.3" height="9.3"/><rect x="427.21" y="796.97" width="9.3" height="9.3"/><rect x="427.49" y="797.61" width="9.3" height="9.3"/><rect x="427.77" y="798.24" width="9.3" height="9.3"/><rect x="428.05" y="798.86" width="9.3" height="9.3"/><rect x="428.33" y="799.48" width="9.3" height="9.3"/><rect x="429.31" y="801.58" width="9.3" height="9.3"/><rect x="429.59" y="802.17" width="9.3" height="9.3"/><rect x="429.87" y="802.75" width="9.3" height="9.3"/><rect x="430.15" y="803.32" width="9.3" height="9.3"/><rect x="430.43" y="803.89" width="9.3" height="9.3"/><rect x="430.71" y="804.45" width="9.3" height="9.3"/><rect x="430.99" y="805" width="9.3" height="9.3"/><rect x="431.27" y="805.54" width="9.3" height="9.3"/><rect x="432.25" y="807.4" width="9.3" height="9.3"/><rect x="432.53" y="807.91" width="9.3" height="9.3"/><rect x="432.81" y="808.42" width="9.3" height="9.3"/><rect x="433.09" y="808.92" width="9.3" height="9.3"/><rect x="433.37" y="809.41" width="9.3" height="9.3"/><rect x="433.65" y="809.9" width="9.3" height="9.3"/><rect x="433.93" y="810.39" width="9.3" height="9.3"/><rect x="434.21" y="810.87" width="9.3" height="9.3"/><rect x="434.49" y="811.34" width="9.3" height="9.3"/><rect x="434.77" y="811.81" width="9.3" height="9.3"/><rect x="435.05" y="812.28" width="9.3" height="9.3"/><rect x="435.33" y="812.74" width="9.3" height="9.3"/><rect x="435.61" y="813.2" width="9.3" height="9.3"/><rect x="436.59" y="814.77" width="9.3" height="9.3"/><rect x="436.87" y="815.21" width="9.3" height="9.3"/><rect x="437.15" y="815.65" width="9.3" height="9.3"/><rect x="437.43" y="816.08" width="9.3" height="9.3"/><rect x="437.71" y="816.5" width="9.3" height="9.3"/><rect x="437.99" y="816.93" width="9.3" height="9.3"/><rect x="438.27" y="817.35" width="9.3" height="9.3"/><rect x="439.25" y="818.79" width="9.3" height="9.3"/><rect x="439.53" y="819.19" width="9.3" height="9.3"/><rect x="440.51" y="820.58" width="9.3" height="9.3"/><rect x="440.79" y="820.97" width="9.3" height="9.3"/><rect x="441.07" y="821.36" width="9.3" height="9.3"/><rect x="441.35" y="821.74" width="9.3" height="9.3"/><rect x="441.63" y="822.12" width="9.3" height="9.3"/><rect x="441.91" y="822.5" width="9.3" height="9.3"/><rect x="442.19" y="822.87" width="9.3" height="9.3"/><rect x="442.47" y="823.25" width="9.3" height="9.3"/><rect x="442.75" y="823.62" width="9.3" height="9.3"/><rect x="443.03" y="823.98" width="9.3" height="9.3"/><rect x="443.31" y="824.35" width="9.3" height="9.3"/><rect x="443.59" y="824.71" width="9.3" height="9.3"/><rect x="443.87" y="825.07" width="9.3" height="9.3"/><rect x="444.15" y="825.42" width="9.3" height="9.3"/><rect x="444.43" y="825.78" width="9.3" height="9.3"/><rect x="444.71" y="826.13" width="9.3" height="9.3"/><rect x="444.99" y="826.48" width="9.3" height="9.3"/><rect x="445.97" y="827.69" width="9.3" height="9.3"/><rect x="446.25" y="828.04" width="9.3" height="9.3"/><rect x="446.53" y="828.37" width="9.3" height="9.3"/><rect x="446.81" y="828.71" width="9.3" height="9.3"/><rect x="447.09" y="829.05" width="9.3" height="9.3"/><rect x="447.37" y="829.38" width="9.3" height="9.3"/><rect x="447.65" y="829.72" width="9.3" height="9.3"/><rect x="447.93" y="830.05" width="9.3" height="9.3"/><rect x="448.21" y="830.38" width="9.3" height="9.3"/><rect x="448.49" y="830.71" width="9.3" height="9.3"/><rect x="448.77" y="831.04" width="9.3" height="9.3"/><rect x="449.05" y="831.37" width="9.3" height="9.3"/><rect x="449.33" y="831.69" width="9.3" height="9.3"/><rect x="449.61" y="832.02" width="9.3" height="9.3"/><rect x="449.89" y="832.34" width="9.3" height="9.3"/><rect x="450.17" y="832.66" width="9.3" height="9.3"/><rect x="450.45" y="832.99" width="9.3" height="9.3"/><rect x="450.73" y="833.31" width="9.3" height="9.3"/><rect x="451.01" y="833.63" width="9.3" height="9.3"/><rect x="451.99" y="834.73" width="9.3" height="9.3"/><rect x="452.27" y="835.05" width="9.3" height="9.3"/><rect x="453.25" y="836.13" width="9.3" height="9.3"/><rect x="453.53" y="836.44" width="9.3" height="9.3"/><rect x="453.81" y="836.74" width="9.3" height="9.3"/><rect x="454.09" y="837.04" width="9.3" height="9.3"/><rect x="454.37" y="837.35" width="9.3" height="9.3"/><rect x="455.35" y="838.38" width="9.3" height="9.3"/><rect x="455.63" y="838.67" width="9.3" height="9.3"/><rect x="456.61" y="839.67" width="9.3" height="9.3"/><rect x="456.89" y="839.95" width="9.3" height="9.3"/><rect x="457.17" y="840.23" width="9.3" height="9.3"/><rect x="457.45" y="840.5" width="9.3" height="9.3"/><rect x="458.43" y="841.44" width="9.3" height="9.3"/><rect x="459.41" y="842.35" width="9.3" height="9.3"/><rect x="459.69" y="842.6" width="9.3" height="9.3"/><rect x="459.97" y="842.85" width="9.3" height="9.3"/><rect x="460.95" y="843.69" width="9.3" height="9.3"/><rect x="461.23" y="843.92" width="9.3" height="9.3"/><rect x="461.51" y="844.15" width="9.3" height="9.3"/><rect x="461.79" y="844.38" width="9.3" height="9.3"/><rect x="462.77" y="845.14" width="9.3" height="9.3"/><rect x="463.05" y="845.35" width="9.3" height="9.3"/><rect x="463.33" y="845.56" width="9.3" height="9.3"/><rect x="463.61" y="845.76" width="9.3" height="9.3"/><rect x="463.89" y="845.97" width="9.3" height="9.3"/><rect x="464.17" y="846.17" width="9.3" height="9.3"/><rect x="464.45" y="846.37" width="9.3" height="9.3"/><rect x="464.73" y="846.57" width="9.3" height="9.3"/><rect x="465.01" y="846.77" width="9.3" height="9.3"/><rect x="465.29" y="846.96" width="9.3" height="9.3"/><rect x="465.57" y="847.15" width="9.3" height="9.3"/><rect x="465.85" y="847.34" width="9.3" height="9.3"/><rect x="466.13" y="847.53" width="9.3" height="9.3"/><rect x="466.41" y="847.71" width="9.3" height="9.3"/><rect x="466.69" y="847.9" width="9.3" height="9.3"/><rect x="467.67" y="848.52" width="9.3" height="9.3"/><rect x="467.95" y="848.69" width="9.3" height="9.3"/><rect x="468.23" y="848.86" width="9.3" height="9.3"/><rect x="468.51" y="849.02" width="9.3" height="9.3"/><rect x="468.79" y="849.19" width="9.3" height="9.3"/><rect x="469.07" y="849.35" width="9.3" height="9.3"/><rect x="470.05" y="849.89" width="9.3" height="9.3"/><rect x="470.33" y="850.04" width="9.3" height="9.3"/><rect x="470.61" y="850.19" width="9.3" height="9.3"/><rect x="470.89" y="850.33" width="9.3" height="9.3"/><rect x="471.17" y="850.47" width="9.3" height="9.3"/><rect x="471.45" y="850.61" width="9.3" height="9.3"/><rect x="471.73" y="850.75" width="9.3" height="9.3"/><rect x="471.95" y="850.85" width="9.3" height="9.3"/></g>
<polyline fill="none" stroke="#84ce7d" stroke-width="1.4" stroke-linejoin="round" points="477.2,857.13 477.42,851.27 477.65,846.74 477.87,841.78 478.1,836.36 478.34,831.79 478.57,825.82 478.81,821.53 479.05,816.79 479.3,810.84 479.54,806.2 479.79,801.88 480.03,796.54 480.28,791.36 480.54,786.69 480.82,781.81 481.1,777.58 481.38,773.12 481.66,768.71 481.94,764.57 482.29,759.83 482.57,756.44 482.85,752.38 483.13,748.71 483.5,743.44 483.78,739.29 484.06,735.66 484.34,732.32 484.62,728.49 484.9,724.63 485.31,719.59 485.59,716.98 486.05,712.12 486.33,709.44 486.61,706.87 486.89,704.56 487.17,702.16 487.45,700.03 487.73,697.75 488.35,692.99 488.63,690.71 488.91,688.27 489.19,686.27 489.47,684.36 489.75,682.05 490.03,680.22 490.31,678.32 490.59,675.65 490.87,673.29 491.55,669.22 491.83,666.86 492.53,662.17 492.81,659.67 493.09,658.75 493.37,656.66 493.65,654.67 493.93,652.93 494.21,651.46 494.49,649.84 494.77,648.35 495.05,646.68 495.33,645.99 495.61,644.23 495.89,642.91 496.17,641.58 497.15,636.37 497.43,636 497.71,634.54 497.99,633.36 498.27,632.3 499.25,628.07 499.53,627.54 499.81,626.02 500.09,624.93 500.37,623.93 500.65,623.24 500.93,622.44 501.21,621.08 501.49,619.87 501.77,619.73 502.75,616.03 503.03,615.87 503.31,614.67 503.59,613.65 503.87,612.86 504.15,612.39 504.43,611.72 504.71,610.6 504.99,610.17 505.97,607.85 506.25,606.43 506.53,605.42 506.81,604.73 507.09,603.93 507.37,603.46 507.65,602.75 508.63,600.27 508.91,600.2 509.89,597.16 510.17,596.98 511.15,596.12 511.43,595.32 511.71,594.68 512.69,593.1 512.97,593.08 513.25,592.31 513.53,591.77 513.81,590.98 514.79,590.01 515.07,589.44 515.35,589.09 515.63,588.73 516.61,587.73 517.59,586.51 518.57,585.79 518.85,584.83 519.13,584.88 519.41,585.2 519.69,584.36 519.97,584.43 520.25,584.13 520.53,583.91 520.81,583.46 521.09,582.56 521.37,582.63 521.65,582.33 521.93,581.73 522.21,581.8 522.49,581.31 522.77,580.93 523.75,580.65 524.73,579.75 525.71,578.76 525.99,578.46 526.27,578.37 527.25,577.65 527.53,577.43 527.81,577.32 528.09,577 528.37,577.03 528.65,576.86 528.93,576.6 529.21,576.09 529.49,575.9 529.77,576.01 530.05,575.61 530.33,575.46 530.61,574.52 530.89,574.26 531.17,574.97 531.45,574.77 531.73,574.89 532.01,574.5 532.29,574.16 532.57,573.9 532.85,573.28 533.83,573.33 534.81,572.25 535.09,572.41 535.37,572.15 535.65,572 536.63,571.61 536.91,571.03 537.19,570.9 537.47,570.61 537.75,570.6 538.03,571.06 538.31,570.3 538.59,570.62 538.87,570.37 539.15,570.2 539.43,570.08 539.71,569.4 540.69,569.36 540.97,569.6 541.25,568.8 541.53,568.87 541.81,568.56 542.09,568.75 542.37,568.23 543.35,568.67 544.33,567.73 544.61,567.28 544.89,568.19 545.87,567.63 546.15,567.41 546.43,567.33 547.41,566.77 548.39,566.54 548.67,566.75 548.95,566.73 549.23,566.67 549.51,566.38 549.79,566.1 550.07,566.12 550.35,566.44 550.63,566.47 550.91,565.87 551.19,565.76 552.17,566.06 552.45,565.84 553.43,565.62 553.71,564.96 553.99,565.18 554.97,564.94 555.95,564.96 556.93,564.21 557.21,565.05 557.49,564.71 557.77,564.7 558.05,564.17 558.33,564.47 558.61,564.83 558.89,563.91 559.17,564.43 560.15,564.4 560.43,563.95 560.71,564.36 560.99,563.98 561.27,564.41 561.55,564.16 561.6,564.07"/>
<g fill="#fff" stroke="#84ce7d" stroke-width="1.5"><rect x="472.55" y="852.48" width="9.3" height="9.3"/><rect x="472.77" y="846.62" width="9.3" height="9.3"/><rect x="473" y="842.09" width="9.3" height="9.3"/><rect x="473.22" y="837.13" width="9.3" height="9.3"/><rect x="473.45" y="831.71" width="9.3" height="9.3"/><rect x="473.69" y="827.14" width="9.3" height="9.3"/><rect x="473.92" y="821.17" width="9.3" height="9.3"/><rect x="474.16" y="816.88" width="9.3" height="9.3"/><rect x="474.4" y="812.14" width="9.3" height="9.3"/><rect x="474.65" y="806.19" width="9.3" height="9.3"/><rect x="474.89" y="801.55" width="9.3" height="9.3"/><rect x="475.14" y="797.23" width="9.3" height="9.3"/><rect x="475.38" y="791.89" width="9.3" height="9.3"/><rect x="475.63" y="786.71" width="9.3" height="9.3"/><rect x="475.89" y="782.04" width="9.3" height="9.3"/><rect x="476.17" y="777.16" width="9.3" height="9.3"/><rect x="476.45" y="772.93" width="9.3" height="9.3"/><rect x="476.73" y="768.47" width="9.3" height="9.3"/><rect x="477.01" y="764.06" width="9.3" height="9.3"/><rect x="477.29" y="759.92" width="9.3" height="9.3"/><rect x="477.64" y="755.18" width="9.3" height="9.3"/><rect x="477.92" y="751.79" width="9.3" height="9.3"/><rect x="478.2" y="747.73" width="9.3" height="9.3"/><rect x="478.48" y="744.06" width="9.3" height="9.3"/><rect x="478.85" y="738.79" width="9.3" height="9.3"/><rect x="479.13" y="734.64" width="9.3" height="9.3"/><rect x="479.41" y="731.01" width="9.3" height="9.3"/><rect x="479.69" y="727.67" width="9.3" height="9.3"/><rect x="479.97" y="723.84" width="9.3" height="9.3"/><rect x="480.25" y="719.98" width="9.3" height="9.3"/><rect x="480.66" y="714.94" width="9.3" height="9.3"/><rect x="480.94" y="712.33" width="9.3" height="9.3"/><rect x="481.4" y="707.47" width="9.3" height="9.3"/><rect x="481.68" y="704.79" width="9.3" height="9.3"/><rect x="481.96" y="702.22" width="9.3" height="9.3"/><rect x="482.24" y="699.91" width="9.3" height="9.3"/><rect x="482.52" y="697.51" width="9.3" height="9.3"/><rect x="482.8" y="695.38" width="9.3" height="9.3"/><rect x="483.08" y="693.1" width="9.3" height="9.3"/><rect x="483.7" y="688.34" width="9.3" height="9.3"/><rect x="483.98" y="686.06" width="9.3" height="9.3"/><rect x="484.26" y="683.62" width="9.3" height="9.3"/><rect x="484.54" y="681.62" width="9.3" height="9.3"/><rect x="484.82" y="679.71" width="9.3" height="9.3"/><rect x="485.1" y="677.4" width="9.3" height="9.3"/><rect x="485.38" y="675.57" width="9.3" height="9.3"/><rect x="485.66" y="673.67" width="9.3" height="9.3"/><rect x="485.94" y="671" width="9.3" height="9.3"/><rect x="486.22" y="668.64" width="9.3" height="9.3"/><rect x="486.9" y="664.57" width="9.3" height="9.3"/><rect x="487.18" y="662.21" width="9.3" height="9.3"/><rect x="487.88" y="657.52" width="9.3" height="9.3"/><rect x="488.16" y="655.02" width="9.3" height="9.3"/><rect x="488.44" y="654.1" width="9.3" height="9.3"/><rect x="488.72" y="652.01" width="9.3" height="9.3"/><rect x="489" y="650.02" width="9.3" height="9.3"/><rect x="489.28" y="648.28" width="9.3" height="9.3"/><rect x="489.56" y="646.81" width="9.3" height="9.3"/><rect x="489.84" y="645.19" width="9.3" height="9.3"/><rect x="490.12" y="643.7" width="9.3" height="9.3"/><rect x="490.4" y="642.03" width="9.3" height="9.3"/><rect x="490.68" y="641.34" width="9.3" height="9.3"/><rect x="490.96" y="639.58" width="9.3" height="9.3"/><rect x="491.24" y="638.26" width="9.3" height="9.3"/><rect x="491.52" y="636.93" width="9.3" height="9.3"/><rect x="492.5" y="631.72" width="9.3" height="9.3"/><rect x="492.78" y="631.35" width="9.3" height="9.3"/><rect x="493.06" y="629.89" width="9.3" height="9.3"/><rect x="493.34" y="628.71" width="9.3" height="9.3"/><rect x="493.62" y="627.65" width="9.3" height="9.3"/><rect x="494.6" y="623.42" width="9.3" height="9.3"/><rect x="494.88" y="622.89" width="9.3" height="9.3"/><rect x="495.16" y="621.37" width="9.3" height="9.3"/><rect x="495.44" y="620.28" width="9.3" height="9.3"/><rect x="495.72" y="619.28" width="9.3" height="9.3"/><rect x="496" y="618.59" width="9.3" height="9.3"/><rect x="496.28" y="617.79" width="9.3" height="9.3"/><rect x="496.56" y="616.43" width="9.3" height="9.3"/><rect x="496.84" y="615.22" width="9.3" height="9.3"/><rect x="497.12" y="615.08" width="9.3" height="9.3"/><rect x="498.1" y="611.38" width="9.3" height="9.3"/><rect x="498.38" y="611.22" width="9.3" height="9.3"/><rect x="498.66" y="610.02" width="9.3" height="9.3"/><rect x="498.94" y="609" width="9.3" height="9.3"/><rect x="499.22" y="608.21" width="9.3" height="9.3"/><rect x="499.5" y="607.74" width="9.3" height="9.3"/><rect x="499.78" y="607.07" width="9.3" height="9.3"/><rect x="500.06" y="605.95" width="9.3" height="9.3"/><rect x="500.34" y="605.52" width="9.3" height="9.3"/><rect x="501.32" y="603.2" width="9.3" height="9.3"/><rect x="501.6" y="601.78" width="9.3" height="9.3"/><rect x="501.88" y="600.77" width="9.3" height="9.3"/><rect x="502.16" y="600.08" width="9.3" height="9.3"/><rect x="502.44" y="599.28" width="9.3" height="9.3"/><rect x="502.72" y="598.81" width="9.3" height="9.3"/><rect x="503" y="598.1" width="9.3" height="9.3"/><rect x="503.98" y="595.62" width="9.3" height="9.3"/><rect x="504.26" y="595.55" width="9.3" height="9.3"/><rect x="505.24" y="592.51" width="9.3" height="9.3"/><rect x="505.52" y="592.33" width="9.3" height="9.3"/><rect x="506.5" y="591.47" width="9.3" height="9.3"/><rect x="506.78" y="590.67" width="9.3" height="9.3"/><rect x="507.06" y="590.03" width="9.3" height="9.3"/><rect x="508.04" y="588.45" width="9.3" height="9.3"/><rect x="508.32" y="588.43" width="9.3" height="9.3"/><rect x="508.6" y="587.66" width="9.3" height="9.3"/><rect x="508.88" y="587.12" width="9.3" height="9.3"/><rect x="509.16" y="586.33" width="9.3" height="9.3"/><rect x="510.14" y="585.36" width="9.3" height="9.3"/><rect x="510.42" y="584.79" width="9.3" height="9.3"/><rect x="510.7" y="584.44" width="9.3" height="9.3"/><rect x="510.98" y="584.08" width="9.3" height="9.3"/><rect x="511.96" y="583.08" width="9.3" height="9.3"/><rect x="512.94" y="581.86" width="9.3" height="9.3"/><rect x="513.92" y="581.14" width="9.3" height="9.3"/><rect x="514.2" y="580.18" width="9.3" height="9.3"/><rect x="514.48" y="580.23" width="9.3" height="9.3"/><rect x="514.76" y="580.55" width="9.3" height="9.3"/><rect x="515.04" y="579.71" width="9.3" height="9.3"/><rect x="515.32" y="579.78" width="9.3" height="9.3"/><rect x="515.6" y="579.48" width="9.3" height="9.3"/><rect x="515.88" y="579.26" width="9.3" height="9.3"/><rect x="516.16" y="578.81" width="9.3" height="9.3"/><rect x="516.44" y="577.91" width="9.3" height="9.3"/><rect x="516.72" y="577.98" width="9.3" height="9.3"/><rect x="517" y="577.68" width="9.3" height="9.3"/><rect x="517.28" y="577.08" width="9.3" height="9.3"/><rect x="517.56" y="577.15" width="9.3" height="9.3"/><rect x="517.84" y="576.66" width="9.3" height="9.3"/><rect x="518.12" y="576.28" width="9.3" height="9.3"/><rect x="519.1" y="576" width="9.3" height="9.3"/><rect x="520.08" y="575.1" width="9.3" height="9.3"/><rect x="521.06" y="574.11" width="9.3" height="9.3"/><rect x="521.34" y="573.81" width="9.3" height="9.3"/><rect x="521.62" y="573.72" width="9.3" height="9.3"/><rect x="522.6" y="573" width="9.3" height="9.3"/><rect x="522.88" y="572.78" width="9.3" height="9.3"/><rect x="523.16" y="572.67" width="9.3" height="9.3"/><rect x="523.44" y="572.35" width="9.3" height="9.3"/><rect x="523.72" y="572.38" width="9.3" height="9.3"/><rect x="524" y="572.21" width="9.3" height="9.3"/><rect x="524.28" y="571.95" width="9.3" height="9.3"/><rect x="524.56" y="571.44" width="9.3" height="9.3"/><rect x="524.84" y="571.25" width="9.3" height="9.3"/><rect x="525.12" y="571.36" width="9.3" height="9.3"/><rect x="525.4" y="570.96" width="9.3" height="9.3"/><rect x="525.68" y="570.81" width="9.3" height="9.3"/><rect x="525.96" y="569.87" width="9.3" height="9.3"/><rect x="526.24" y="569.61" width="9.3" height="9.3"/><rect x="526.52" y="570.32" width="9.3" height="9.3"/><rect x="526.8" y="570.12" width="9.3" height="9.3"/><rect x="527.08" y="570.24" width="9.3" height="9.3"/><rect x="527.36" y="569.85" width="9.3" height="9.3"/><rect x="527.64" y="569.51" width="9.3" height="9.3"/><rect x="527.92" y="569.25" width="9.3" height="9.3"/><rect x="528.2" y="568.63" width="9.3" height="9.3"/><rect x="529.18" y="568.68" width="9.3" height="9.3"/><rect x="530.16" y="567.6" width="9.3" height="9.3"/><rect x="530.44" y="567.76" width="9.3" height="9.3"/><rect x="530.72" y="567.5" width="9.3" height="9.3"/><rect x="531" y="567.35" width="9.3" height="9.3"/><rect x="531.98" y="566.96" width="9.3" height="9.3"/><rect x="532.26" y="566.38" width="9.3" height="9.3"/><rect x="532.54" y="566.25" width="9.3" height="9.3"/><rect x="532.82" y="565.96" width="9.3" height="9.3"/><rect x="533.1" y="565.95" width="9.3" height="9.3"/><rect x="533.38" y="566.41" width="9.3" height="9.3"/><rect x="533.66" y="565.65" width="9.3" height="9.3"/><rect x="533.94" y="565.97" width="9.3" height="9.3"/><rect x="534.22" y="565.72" width="9.3" height="9.3"/><rect x="534.5" y="565.55" width="9.3" height="9.3"/><rect x="534.78" y="565.43" width="9.3" height="9.3"/><rect x="535.06" y="564.75" width="9.3" height="9.3"/><rect x="536.04" y="564.71" width="9.3" height="9.3"/><rect x="536.32" y="564.95" width="9.3" height="9.3"/><rect x="536.6" y="564.15" width="9.3" height="9.3"/><rect x="536.88" y="564.22" width="9.3" height="9.3"/><rect x="537.16" y="563.91" width="9.3" height="9.3"/><rect x="537.44" y="564.1" width="9.3" height="9.3"/><rect x="537.72" y="563.58" width="9.3" height="9.3"/><rect x="538.7" y="564.02" width="9.3" height="9.3"/><rect x="539.68" y="563.08" width="9.3" height="9.3"/><rect x="539.96" y="562.63" width="9.3" height="9.3"/><rect x="540.24" y="563.54" width="9.3" height="9.3"/><rect x="541.22" y="562.98" width="9.3" height="9.3"/><rect x="541.5" y="562.76" width="9.3" height="9.3"/><rect x="541.78" y="562.68" width="9.3" height="9.3"/><rect x="542.76" y="562.12" width="9.3" height="9.3"/><rect x="543.74" y="561.89" width="9.3" height="9.3"/><rect x="544.02" y="562.1" width="9.3" height="9.3"/><rect x="544.3" y="562.08" width="9.3" height="9.3"/><rect x="544.58" y="562.02" width="9.3" height="9.3"/><rect x="544.86" y="561.73" width="9.3" height="9.3"/><rect x="545.14" y="561.45" width="9.3" height="9.3"/><rect x="545.42" y="561.47" width="9.3" height="9.3"/><rect x="545.7" y="561.79" width="9.3" height="9.3"/><rect x="545.98" y="561.82" width="9.3" height="9.3"/><rect x="546.26" y="561.22" width="9.3" height="9.3"/><rect x="546.54" y="561.11" width="9.3" height="9.3"/><rect x="547.52" y="561.41" width="9.3" height="9.3"/><rect x="547.8" y="561.19" width="9.3" height="9.3"/><rect x="548.78" y="560.97" width="9.3" height="9.3"/><rect x="549.06" y="560.31" width="9.3" height="9.3"/><rect x="549.34" y="560.53" width="9.3" height="9.3"/><rect x="550.32" y="560.29" width="9.3" height="9.3"/><rect x="551.3" y="560.31" width="9.3" height="9.3"/><rect x="552.28" y="559.56" width="9.3" height="9.3"/><rect x="552.56" y="560.4" width="9.3" height="9.3"/><rect x="552.84" y="560.06" width="9.3" height="9.3"/><rect x="553.12" y="560.05" width="9.3" height="9.3"/><rect x="553.4" y="559.52" width="9.3" height="9.3"/><rect x="553.68" y="559.82" width="9.3" height="9.3"/><rect x="553.96" y="560.18" width="9.3" height="9.3"/><rect x="554.24" y="559.26" width="9.3" height="9.3"/><rect x="554.52" y="559.78" width="9.3" height="9.3"/><rect x="555.5" y="559.75" width="9.3" height="9.3"/><rect x="555.78" y="559.3" width="9.3" height="9.3"/><rect x="556.06" y="559.71" width="9.3" height="9.3"/><rect x="556.34" y="559.33" width="9.3" height="9.3"/><rect x="556.62" y="559.76" width="9.3" height="9.3"/><rect x="556.9" y="559.51" width="9.3" height="9.3"/><rect x="556.95" y="559.42" width="9.3" height="9.3"/></g>
<polyline fill="none" stroke="#ec6150" stroke-width="1.4" stroke-linejoin="round" points="561.6,570.76 561.88,575.05 562.16,580.23 562.44,584.5 562.72,588.74 563,592.82 563.28,596.63 563.56,600.49 563.84,603.47 564.12,607.72 564.51,612.35 564.92,617.26 565.2,620.16 565.65,625.81 565.93,628.4 566.21,630.77 566.49,634.15 567,638.87 567.28,641.18 567.56,643.95 567.84,646.3 568.12,648.3 568.69,653.4 569.3,658.89 569.58,661.02 569.86,663.15 570.14,664.83 570.8,669.94 571.08,672.19 571.77,677.37 572.05,678.96 572.33,680.95 572.61,683.69 572.89,685.48 573.17,687.46 573.45,689.49 573.73,691.65 574.01,694.45 574.29,696.38 574.57,698.07 574.85,699.9 575.13,702.82 575.41,704.8 576.11,709.53 576.39,711.25 576.67,712.18 576.95,714.04 577.81,719.42 578.09,720.68 578.37,722.33 578.65,723.56 579.62,728.36 579.9,730.05 580.18,731.09 580.46,732.52 581.44,737.05 581.72,738.33 582,739.87 582.98,744.13 583.26,744.45 583.54,745.9 583.82,746.98 584.1,748.66 584.38,749.35 584.66,751.11 584.94,752.21 585.22,753.26 585.5,753.93 585.78,755.34 586.06,756.14 586.34,757.58 586.62,758.84 586.9,759.31 587.18,760.76 587.46,762.14 587.74,763.12 588.02,764.76 589,767.99 589.28,769.16 589.56,769.73 589.84,771.48 590.12,771.97 590.4,773.07 590.68,773.78 591.66,776.33 591.94,777.46 592.22,778.45 592.5,779.87 592.78,780.49 593.06,781.63 593.34,782.35 594.32,784.94 594.6,785.78 594.88,786.17 595.16,786.16 595.44,787.09 595.72,788.6 596.7,790.49 596.98,792.09 597.26,792.9 598.24,794.77 598.52,795.9 598.8,796.02 599.78,798.84 600.06,798.85 601.04,800.77 601.32,801.65 601.6,802.36 601.88,802.95 602.16,803.68 603.14,805.68 603.42,806.13 603.7,806.97 604.68,809.2 604.96,809.14 605.94,810.83 606.22,811.37 607.2,813.7 607.48,813.99 607.76,814.29 608.04,813.96 608.32,814.8 608.6,815.5 608.88,816.77 609.16,816.85 609.44,816.56 609.72,817.73 610,818 610.98,819.33 611.26,818.5 611.54,819.81 612.52,821.5 612.8,821.99 613.08,822.04 613.36,821.75 613.64,822.65 613.92,823.44 614.2,824.53 614.48,825.29 614.76,825.4 615.04,825.55 615.32,824.71 616.3,825.89 616.58,826.61 616.86,827.23 617.14,827.32 617.42,828.2 617.7,828.5 617.98,828.61 618.26,829.17 618.54,828.95 619.52,829.81 619.8,829.92 620.08,831.32 621.06,832.68 621.34,832.52 621.62,833.61 621.9,833.7 622.88,834.08 623.16,834.38 623.44,835.23 623.72,835.27 624,835.89 624.28,836.32 624.56,835.86 624.84,836.07 625.12,836.44 625.4,837.14 625.68,837.59 625.96,837.26 626.24,837.38 626.52,838.16 626.8,838.12 627.78,839.21 628.06,839.36 628.34,840.02 628.62,840.6 628.9,840.82 629.18,840.68 629.46,841 630.44,842.84 630.72,843.43 631,843.03 631.98,843.22 632.26,844.08 632.54,844.64 633.52,844.28 634.5,845.02 634.78,845.38 635.06,845.93 635.34,846.29 636.32,847.23 636.6,846.86 636.88,847.1 637.86,848.06 638.14,847.4 638.42,847.4 639.4,848.76 639.68,849.32 639.96,849.01 640.24,849.38 640.52,849.17 640.8,849.3 641.08,849.88 642.06,850.02 642.34,849.93 642.62,849.67 642.9,849.56 643.18,849.83 643.46,850.15 644.44,851.17 644.72,850.72 645,850.89 645.28,851.36 645.5,851.61"/>
<g fill="#fff" stroke="#ec6150" stroke-width="1.5"><rect x="556.95" y="566.11" width="9.3" height="9.3"/><rect x="557.23" y="570.4" width="9.3" height="9.3"/><rect x="557.51" y="575.58" width="9.3" height="9.3"/><rect x="557.79" y="579.85" width="9.3" height="9.3"/><rect x="558.07" y="584.09" width="9.3" height="9.3"/><rect x="558.35" y="588.17" width="9.3" height="9.3"/><rect x="558.63" y="591.98" width="9.3" height="9.3"/><rect x="558.91" y="595.84" width="9.3" height="9.3"/><rect x="559.19" y="598.82" width="9.3" height="9.3"/><rect x="559.47" y="603.07" width="9.3" height="9.3"/><rect x="559.86" y="607.7" width="9.3" height="9.3"/><rect x="560.27" y="612.61" width="9.3" height="9.3"/><rect x="560.55" y="615.51" width="9.3" height="9.3"/><rect x="561" y="621.16" width="9.3" height="9.3"/><rect x="561.28" y="623.75" width="9.3" height="9.3"/><rect x="561.56" y="626.12" width="9.3" height="9.3"/><rect x="561.84" y="629.5" width="9.3" height="9.3"/><rect x="562.35" y="634.22" width="9.3" height="9.3"/><rect x="562.63" y="636.53" width="9.3" height="9.3"/><rect x="562.91" y="639.3" width="9.3" height="9.3"/><rect x="563.19" y="641.65" width="9.3" height="9.3"/><rect x="563.47" y="643.65" width="9.3" height="9.3"/><rect x="564.04" y="648.75" width="9.3" height="9.3"/><rect x="564.65" y="654.24" width="9.3" height="9.3"/><rect x="564.93" y="656.37" width="9.3" height="9.3"/><rect x="565.21" y="658.5" width="9.3" height="9.3"/><rect x="565.49" y="660.18" width="9.3" height="9.3"/><rect x="566.15" y="665.29" width="9.3" height="9.3"/><rect x="566.43" y="667.54" width="9.3" height="9.3"/><rect x="567.12" y="672.72" width="9.3" height="9.3"/><rect x="567.4" y="674.31" width="9.3" height="9.3"/><rect x="567.68" y="676.3" width="9.3" height="9.3"/><rect x="567.96" y="679.04" width="9.3" height="9.3"/><rect x="568.24" y="680.83" width="9.3" height="9.3"/><rect x="568.52" y="682.81" width="9.3" height="9.3"/><rect x="568.8" y="684.84" width="9.3" height="9.3"/><rect x="569.08" y="687" width="9.3" height="9.3"/><rect x="569.36" y="689.8" width="9.3" height="9.3"/><rect x="569.64" y="691.73" width="9.3" height="9.3"/><rect x="569.92" y="693.42" width="9.3" height="9.3"/><rect x="570.2" y="695.25" width="9.3" height="9.3"/><rect x="570.48" y="698.17" width="9.3" height="9.3"/><rect x="570.76" y="700.15" width="9.3" height="9.3"/><rect x="571.46" y="704.88" width="9.3" height="9.3"/><rect x="571.74" y="706.6" width="9.3" height="9.3"/><rect x="572.02" y="707.53" width="9.3" height="9.3"/><rect x="572.3" y="709.39" width="9.3" height="9.3"/><rect x="573.16" y="714.77" width="9.3" height="9.3"/><rect x="573.44" y="716.03" width="9.3" height="9.3"/><rect x="573.72" y="717.68" width="9.3" height="9.3"/><rect x="574" y="718.91" width="9.3" height="9.3"/><rect x="574.97" y="723.71" width="9.3" height="9.3"/><rect x="575.25" y="725.4" width="9.3" height="9.3"/><rect x="575.53" y="726.44" width="9.3" height="9.3"/><rect x="575.81" y="727.87" width="9.3" height="9.3"/><rect x="576.79" y="732.4" width="9.3" height="9.3"/><rect x="577.07" y="733.68" width="9.3" height="9.3"/><rect x="577.35" y="735.22" width="9.3" height="9.3"/><rect x="578.33" y="739.48" width="9.3" height="9.3"/><rect x="578.61" y="739.8" width="9.3" height="9.3"/><rect x="578.89" y="741.25" width="9.3" height="9.3"/><rect x="579.17" y="742.33" width="9.3" height="9.3"/><rect x="579.45" y="744.01" width="9.3" height="9.3"/><rect x="579.73" y="744.7" width="9.3" height="9.3"/><rect x="580.01" y="746.46" width="9.3" height="9.3"/><rect x="580.29" y="747.56" width="9.3" height="9.3"/><rect x="580.57" y="748.61" width="9.3" height="9.3"/><rect x="580.85" y="749.28" width="9.3" height="9.3"/><rect x="581.13" y="750.69" width="9.3" height="9.3"/><rect x="581.41" y="751.49" width="9.3" height="9.3"/><rect x="581.69" y="752.93" width="9.3" height="9.3"/><rect x="581.97" y="754.19" width="9.3" height="9.3"/><rect x="582.25" y="754.66" width="9.3" height="9.3"/><rect x="582.53" y="756.11" width="9.3" height="9.3"/><rect x="582.81" y="757.49" width="9.3" height="9.3"/><rect x="583.09" y="758.47" width="9.3" height="9.3"/><rect x="583.37" y="760.11" width="9.3" height="9.3"/><rect x="584.35" y="763.34" width="9.3" height="9.3"/><rect x="584.63" y="764.51" width="9.3" height="9.3"/><rect x="584.91" y="765.08" width="9.3" height="9.3"/><rect x="585.19" y="766.83" width="9.3" height="9.3"/><rect x="585.47" y="767.32" width="9.3" height="9.3"/><rect x="585.75" y="768.42" width="9.3" height="9.3"/><rect x="586.03" y="769.13" width="9.3" height="9.3"/><rect x="587.01" y="771.68" width="9.3" height="9.3"/><rect x="587.29" y="772.81" width="9.3" height="9.3"/><rect x="587.57" y="773.8" width="9.3" height="9.3"/><rect x="587.85" y="775.22" width="9.3" height="9.3"/><rect x="588.13" y="775.84" width="9.3" height="9.3"/><rect x="588.41" y="776.98" width="9.3" height="9.3"/><rect x="588.69" y="777.7" width="9.3" height="9.3"/><rect x="589.67" y="780.29" width="9.3" height="9.3"/><rect x="589.95" y="781.13" width="9.3" height="9.3"/><rect x="590.23" y="781.52" width="9.3" height="9.3"/><rect x="590.51" y="781.51" width="9.3" height="9.3"/><rect x="590.79" y="782.44" width="9.3" height="9.3"/><rect x="591.07" y="783.95" width="9.3" height="9.3"/><rect x="592.05" y="785.84" width="9.3" height="9.3"/><rect x="592.33" y="787.44" width="9.3" height="9.3"/><rect x="592.61" y="788.25" width="9.3" height="9.3"/><rect x="593.59" y="790.12" width="9.3" height="9.3"/><rect x="593.87" y="791.25" width="9.3" height="9.3"/><rect x="594.15" y="791.37" width="9.3" height="9.3"/><rect x="595.13" y="794.19" width="9.3" height="9.3"/><rect x="595.41" y="794.2" width="9.3" height="9.3"/><rect x="596.39" y="796.12" width="9.3" height="9.3"/><rect x="596.67" y="797" width="9.3" height="9.3"/><rect x="596.95" y="797.71" width="9.3" height="9.3"/><rect x="597.23" y="798.3" width="9.3" height="9.3"/><rect x="597.51" y="799.03" width="9.3" height="9.3"/><rect x="598.49" y="801.03" width="9.3" height="9.3"/><rect x="598.77" y="801.48" width="9.3" height="9.3"/><rect x="599.05" y="802.32" width="9.3" height="9.3"/><rect x="600.03" y="804.55" width="9.3" height="9.3"/><rect x="600.31" y="804.49" width="9.3" height="9.3"/><rect x="601.29" y="806.18" width="9.3" height="9.3"/><rect x="601.57" y="806.72" width="9.3" height="9.3"/><rect x="602.55" y="809.05" width="9.3" height="9.3"/><rect x="602.83" y="809.34" width="9.3" height="9.3"/><rect x="603.11" y="809.64" width="9.3" height="9.3"/><rect x="603.39" y="809.31" width="9.3" height="9.3"/><rect x="603.67" y="810.15" width="9.3" height="9.3"/><rect x="603.95" y="810.85" width="9.3" height="9.3"/><rect x="604.23" y="812.12" width="9.3" height="9.3"/><rect x="604.51" y="812.2" width="9.3" height="9.3"/><rect x="604.79" y="811.91" width="9.3" height="9.3"/><rect x="605.07" y="813.08" width="9.3" height="9.3"/><rect x="605.35" y="813.35" width="9.3" height="9.3"/><rect x="606.33" y="814.68" width="9.3" height="9.3"/><rect x="606.61" y="813.85" width="9.3" height="9.3"/><rect x="606.89" y="815.16" width="9.3" height="9.3"/><rect x="607.87" y="816.85" width="9.3" height="9.3"/><rect x="608.15" y="817.34" width="9.3" height="9.3"/><rect x="608.43" y="817.39" width="9.3" height="9.3"/><rect x="608.71" y="817.1" width="9.3" height="9.3"/><rect x="608.99" y="818" width="9.3" height="9.3"/><rect x="609.27" y="818.79" width="9.3" height="9.3"/><rect x="609.55" y="819.88" width="9.3" height="9.3"/><rect x="609.83" y="820.64" width="9.3" height="9.3"/><rect x="610.11" y="820.75" width="9.3" height="9.3"/><rect x="610.39" y="820.9" width="9.3" height="9.3"/><rect x="610.67" y="820.06" width="9.3" height="9.3"/><rect x="611.65" y="821.24" width="9.3" height="9.3"/><rect x="611.93" y="821.96" width="9.3" height="9.3"/><rect x="612.21" y="822.58" width="9.3" height="9.3"/><rect x="612.49" y="822.67" width="9.3" height="9.3"/><rect x="612.77" y="823.55" width="9.3" height="9.3"/><rect x="613.05" y="823.85" width="9.3" height="9.3"/><rect x="613.33" y="823.96" width="9.3" height="9.3"/><rect x="613.61" y="824.52" width="9.3" height="9.3"/><rect x="613.89" y="824.3" width="9.3" height="9.3"/><rect x="614.87" y="825.16" width="9.3" height="9.3"/><rect x="615.15" y="825.27" width="9.3" height="9.3"/><rect x="615.43" y="826.67" width="9.3" height="9.3"/><rect x="616.41" y="828.03" width="9.3" height="9.3"/><rect x="616.69" y="827.87" width="9.3" height="9.3"/><rect x="616.97" y="828.96" width="9.3" height="9.3"/><rect x="617.25" y="829.05" width="9.3" height="9.3"/><rect x="618.23" y="829.43" width="9.3" height="9.3"/><rect x="618.51" y="829.73" width="9.3" height="9.3"/><rect x="618.79" y="830.58" width="9.3" height="9.3"/><rect x="619.07" y="830.62" width="9.3" height="9.3"/><rect x="619.35" y="831.24" width="9.3" height="9.3"/><rect x="619.63" y="831.67" width="9.3" height="9.3"/><rect x="619.91" y="831.21" width="9.3" height="9.3"/><rect x="620.19" y="831.42" width="9.3" height="9.3"/><rect x="620.47" y="831.79" width="9.3" height="9.3"/><rect x="620.75" y="832.49" width="9.3" height="9.3"/><rect x="621.03" y="832.94" width="9.3" height="9.3"/><rect x="621.31" y="832.61" width="9.3" height="9.3"/><rect x="621.59" y="832.73" width="9.3" height="9.3"/><rect x="621.87" y="833.51" width="9.3" height="9.3"/><rect x="622.15" y="833.47" width="9.3" height="9.3"/><rect x="623.13" y="834.56" width="9.3" height="9.3"/><rect x="623.41" y="834.71" width="9.3" height="9.3"/><rect x="623.69" y="835.37" width="9.3" height="9.3"/><rect x="623.97" y="835.95" width="9.3" height="9.3"/><rect x="624.25" y="836.17" width="9.3" height="9.3"/><rect x="624.53" y="836.03" width="9.3" height="9.3"/><rect x="624.81" y="836.35" width="9.3" height="9.3"/><rect x="625.79" y="838.19" width="9.3" height="9.3"/><rect x="626.07" y="838.78" width="9.3" height="9.3"/><rect x="626.35" y="838.38" width="9.3" height="9.3"/><rect x="627.33" y="838.57" width="9.3" height="9.3"/><rect x="627.61" y="839.43" width="9.3" height="9.3"/><rect x="627.89" y="839.99" width="9.3" height="9.3"/><rect x="628.87" y="839.63" width="9.3" height="9.3"/><rect x="629.85" y="840.37" width="9.3" height="9.3"/><rect x="630.13" y="840.73" width="9.3" height="9.3"/><rect x="630.41" y="841.28" width="9.3" height="9.3"/><rect x="630.69" y="841.64" width="9.3" height="9.3"/><rect x="631.67" y="842.58" width="9.3" height="9.3"/><rect x="631.95" y="842.21" width="9.3" height="9.3"/><rect x="632.23" y="842.45" width="9.3" height="9.3"/><rect x="633.21" y="843.41" width="9.3" height="9.3"/><rect x="633.49" y="842.75" width="9.3" height="9.3"/><rect x="633.77" y="842.75" width="9.3" height="9.3"/><rect x="634.75" y="844.11" width="9.3" height="9.3"/><rect x="635.03" y="844.67" width="9.3" height="9.3"/><rect x="635.31" y="844.36" width="9.3" height="9.3"/><rect x="635.59" y="844.73" width="9.3" height="9.3"/><rect x="635.87" y="844.52" width="9.3" height="9.3"/><rect x="636.15" y="844.65" width="9.3" height="9.3"/><rect x="636.43" y="845.23" width="9.3" height="9.3"/><rect x="637.41" y="845.37" width="9.3" height="9.3"/><rect x="637.69" y="845.28" width="9.3" height="9.3"/><rect x="637.97" y="845.02" width="9.3" height="9.3"/><rect x="638.25" y="844.91" width="9.3" height="9.3"/><rect x="638.53" y="845.18" width="9.3" height="9.3"/><rect x="638.81" y="845.5" width="9.3" height="9.3"/><rect x="639.79" y="846.52" width="9.3" height="9.3"/><rect x="640.07" y="846.07" width="9.3" height="9.3"/><rect x="640.35" y="846.24" width="9.3" height="9.3"/><rect x="640.63" y="846.71" width="9.3" height="9.3"/><rect x="640.85" y="846.96" width="9.3" height="9.3"/></g>
<polyline fill="none" stroke="#7f7f7f" stroke-width="1.4" stroke-linejoin="round" points="113.2,879.7 122.3,878.3 122.7,878.27 123.1,878.24 123.5,878.21 123.9,878.18 124.3,878.15 124.7,878.12 125.1,878.09 125.5,878.06 125.9,878.03 126.3,878 126.7,877.97 127.1,877.94 127.5,877.91 127.9,877.88"/>
<g fill="#fff" stroke="#7f7f7f" stroke-width="1.5"><rect x="109" y="875.5" width="8.4" height="8.4"/><rect x="118.1" y="874.1" width="8.4" height="8.4"/><rect x="118.5" y="874.07" width="8.4" height="8.4"/><rect x="118.9" y="874.04" width="8.4" height="8.4"/><rect x="119.3" y="874.01" width="8.4" height="8.4"/><rect x="119.7" y="873.98" width="8.4" height="8.4"/><rect x="120.1" y="873.95" width="8.4" height="8.4"/><rect x="120.5" y="873.92" width="8.4" height="8.4"/><rect x="120.9" y="873.89" width="8.4" height="8.4"/><rect x="121.3" y="873.86" width="8.4" height="8.4"/><rect x="121.7" y="873.83" width="8.4" height="8.4"/><rect x="122.1" y="873.8" width="8.4" height="8.4"/><rect x="122.5" y="873.77" width="8.4" height="8.4"/><rect x="122.9" y="873.74" width="8.4" height="8.4"/><rect x="123.3" y="873.71" width="8.4" height="8.4"/><rect x="123.7" y="873.68" width="8.4" height="8.4"/></g>
<path fill="none" stroke="#000" stroke-width="2" d="M96 3V420H664V3"/><path fill="none" stroke="#000" stroke-width="2" d="M95 3H665"/><path fill="none" stroke="#000" stroke-width="2" d="M136.7 420v-10M217.91 420v-10M299.13 420v-10M380.35 420v-10M461.56 420v-10M542.78 420v-10M623.99 420v-10M177.31 420v-7.2M258.52 420v-7.2M339.74 420v-7.2M420.95 420v-7.2M502.17 420v-7.2M583.38 420v-7.2M96 394.19h10M96 342.01h10M96 289.82h10M96 237.64h10M96 185.46h10M96 133.27h10M96 81.09h10M96 28.9h10M96 368.1h7M96 315.92h7M96 263.73h7M96 211.55h7M96 159.36h7M96 107.18h7M96 54.99h7M96 2.81h7"/>
<path fill="none" stroke="#000" stroke-width="2" d="M96.5 489.3V905.5H663V489.3"/><path fill="none" stroke="#000" stroke-width="2" d="M95.5 489.3H664"/><path fill="none" stroke="#000" stroke-width="2" d="M113.1 905.5v-10M197.02 905.5v-10M280.93 905.5v-10M364.85 905.5v-10M448.76 905.5v-10M532.68 905.5v-10M616.6 905.5v-10M141.07 905.5v-7.2M169.04 905.5v-7.2M224.99 905.5v-7.2M252.96 905.5v-7.2M308.9 905.5v-7.2M336.88 905.5v-7.2M392.82 905.5v-7.2M420.79 905.5v-7.2M476.74 905.5v-7.2M504.71 905.5v-7.2M560.65 905.5v-7.2M588.62 905.5v-7.2M644.57 905.5v-7.2M96.5 888.5h10M96.5 801.73h10M96.5 714.95h10M96.5 628.17h10M96.5 541.4h10M96.5 859.58h7M96.5 830.65h7M96.5 772.8h7M96.5 743.88h7M96.5 686.02h7M96.5 657.1h7M96.5 599.25h7M96.5 570.33h7"/>
<g font-family='"Liberation Sans", sans-serif' fill="#000"><text x="84.5" y="401.69" font-size="24.5" text-anchor="end">0.5</text><text x="84.5" y="349.51" font-size="24.5" text-anchor="end">1.0</text><text x="84.5" y="297.32" font-size="24.5" text-anchor="end">1.5</text><text x="84.5" y="245.14" font-size="24.5" text-anchor="end">2.0</text><text x="84.5" y="192.96" font-size="24.5" text-anchor="end">2.5</text><text x="84.5" y="140.77" font-size="24.5" text-anchor="end">3.0</text><text x="84.5" y="88.59" font-size="24.5" text-anchor="end">3.5</text><text x="84.5" y="36.4" font-size="24.5" text-anchor="end">4.0</text><text x="136.7" y="451" font-size="24.5" text-anchor="middle">0</text><text x="217.91" y="451" font-size="24.5" text-anchor="middle">50</text><text x="299.13" y="451" font-size="24.5" text-anchor="middle">100</text><text x="380.35" y="451" font-size="24.5" text-anchor="middle">150</text><text x="461.56" y="451" font-size="24.5" text-anchor="middle">200</text><text x="542.78" y="451" font-size="24.5" text-anchor="middle">250</text><text x="623.99" y="451" font-size="24.5" text-anchor="middle">300</text><text x="84.5" y="896" font-size="24.5" text-anchor="end">0.5</text><text x="84.5" y="809.23" font-size="24.5" text-anchor="end">1.0</text><text x="84.5" y="722.45" font-size="24.5" text-anchor="end">1.5</text><text x="84.5" y="635.67" font-size="24.5" text-anchor="end">2.0</text><text x="84.5" y="548.9" font-size="24.5" text-anchor="end">2.5</text><text x="113.1" y="936.5" font-size="24.5" text-anchor="middle">0</text><text x="197.02" y="936.5" font-size="24.5" text-anchor="middle">90</text><text x="280.93" y="936.5" font-size="24.5" text-anchor="middle">180</text><text x="364.85" y="936.5" font-size="24.5" text-anchor="middle">270</text><text x="448.76" y="936.5" font-size="24.5" text-anchor="middle">360</text><text x="532.68" y="936.5" font-size="24.5" text-anchor="middle">450</text><text x="616.6" y="936.5" font-size="24.5" text-anchor="middle">540</text><text x="390.5" y="480" font-size="26.5" text-anchor="middle"><tspan font-style="italic">T</tspan>, K</text><text x="389.7" y="965.5" font-size="26.5" text-anchor="middle">Time, min</text><text x="0.5" y="31.2" font-size="37" text-anchor="start">(a)</text><text x="0.5" y="502.6" font-size="37" text-anchor="start">(b)</text><g transform="translate(33.1 306.8) rotate(-90)"><path fill="none" stroke="#000" stroke-linecap="butt" d="M0.6 4.7L13.8 -10.6" stroke-width="1.65"/><path fill="none" stroke="#000" stroke-width="1.45" stroke-linecap="round" d="M3.4 -8.1Q4.8 -10.6 6.5 -9.9Q7.5 -9.2 7.3 -6.5L7.1 1.6Q7.2 4.6 8.9 4.5Q10.6 4.3 11.3 2.3"/><text x="13.2" y="0" font-size="26.5"><tspan font-size="17.5" dy="7.8">M</tspan><tspan dy="-7.8" dx="1.8" font-style="italic">T</tspan><tspan dx="-1.8">, cm</tspan><tspan font-size="17.5" dy="-12.5">3</tspan><tspan dy="12.5"> mol</tspan><tspan font-size="17.5" dy="-12.5">-1</tspan><tspan dy="12.5"> K</tspan></text></g><g transform="translate(33.1 793.6) rotate(-90)"><path fill="none" stroke="#000" stroke-linecap="butt" d="M0.6 4.7L13.8 -10.6" stroke-width="1.65"/><path fill="none" stroke="#000" stroke-width="1.45" stroke-linecap="round" d="M3.4 -8.1Q4.8 -10.6 6.5 -9.9Q7.5 -9.2 7.3 -6.5L7.1 1.6Q7.2 4.6 8.9 4.5Q10.6 4.3 11.3 2.3"/><text x="13.2" y="0" font-size="26.5"><tspan font-size="17.5" dy="7.8">M</tspan><tspan dy="-7.8" dx="1.8" font-style="italic">T</tspan><tspan dx="-1.8">, cm</tspan><tspan font-size="17.5" dy="-12.5">3</tspan><tspan dy="12.5"> mol</tspan><tspan font-size="17.5" dy="-12.5">-1</tspan><tspan dy="12.5"> K</tspan></text></g></g>
<line x1="374.8" y1="315.6" x2="423.3" y2="315.6" stroke="#7fcd75" stroke-width="2.6"/><circle cx="398.7" cy="315.6" r="6.3" fill="#c9edc4" stroke="#7fcd75" stroke-width="1.6"/><path transform="translate(0 0)" fill="#000" d="M432.9 323L436.1 323L436.1 308.9L433.6 308.9C433.0 310.6 431.4 311.8 429.2 312.4L429.2 315.3C430.6 314.9 432.0 314.2 432.9 313.3Z"/><text x="444.9" y="323.1" font-family='"Liberation Sans", sans-serif' font-size="20.8">after 532 nm irradiation</text><line x1="374.8" y1="341.35" x2="423.3" y2="341.35" stroke="#8ac8fb" stroke-width="2.6"/><circle cx="398.7" cy="341.35" r="6.3" fill="#c0e0fc" stroke="#8ac8fb" stroke-width="1.6"/><path transform="translate(0 25.75)" fill="#000" d="M432.9 323L436.1 323L436.1 308.9L433.6 308.9C433.0 310.6 431.4 311.8 429.2 312.4L429.2 315.3C430.6 314.9 432.0 314.2 432.9 313.3Z"/><text x="444.9" y="348.85" font-family='"Liberation Sans", sans-serif' font-size="20.8">@cooling</text><line x1="374.8" y1="367.1" x2="423.3" y2="367.1" stroke="#fa7272" stroke-width="2.6"/><circle cx="398.7" cy="367.1" r="6.3" fill="#fbc6c6" stroke="#fa7272" stroke-width="1.6"/><path transform="translate(0 51.5)" fill="#000" d="M432.9 323L436.1 323L436.1 308.9L433.6 308.9C433.0 310.6 431.4 311.8 429.2 312.4L429.2 315.3C430.6 314.9 432.0 314.2 432.9 313.3Z"/><text x="444.9" y="374.6" font-family='"Liberation Sans", sans-serif' font-size="20.8">@warming</text><line x1="471.2" y1="503.2" x2="510.9" y2="503.2" stroke="#84ce7d" stroke-width="2.9"/><rect x="486.8" y="498.9" width="8.6" height="8.6" fill="#fff" stroke="#84ce7d" stroke-width="1.5"/><text x="514.5" y="509" font-family='"Liberation Sans", sans-serif' font-size="16.7">532 nm irradiation</text><line x1="471.2" y1="523.85" x2="510.9" y2="523.85" stroke="#ec6150" stroke-width="2.9"/><rect x="486.8" y="519.55" width="8.6" height="8.6" fill="#fff" stroke="#ec6150" stroke-width="1.5"/><text x="514.5" y="529.65" font-family='"Liberation Sans", sans-serif' font-size="16.7">808 nm irradiation</text><line x1="471.2" y1="544.5" x2="510.9" y2="544.5" stroke="#7f7f7f" stroke-width="2.9"/><rect x="486.8" y="540.2" width="8.6" height="8.6" fill="#fff" stroke="#7f7f7f" stroke-width="1.5"/><text x="514.5" y="550.3" font-family='"Liberation Sans", sans-serif' font-size="16.7">before irradiation</text>
</svg></body></html>
